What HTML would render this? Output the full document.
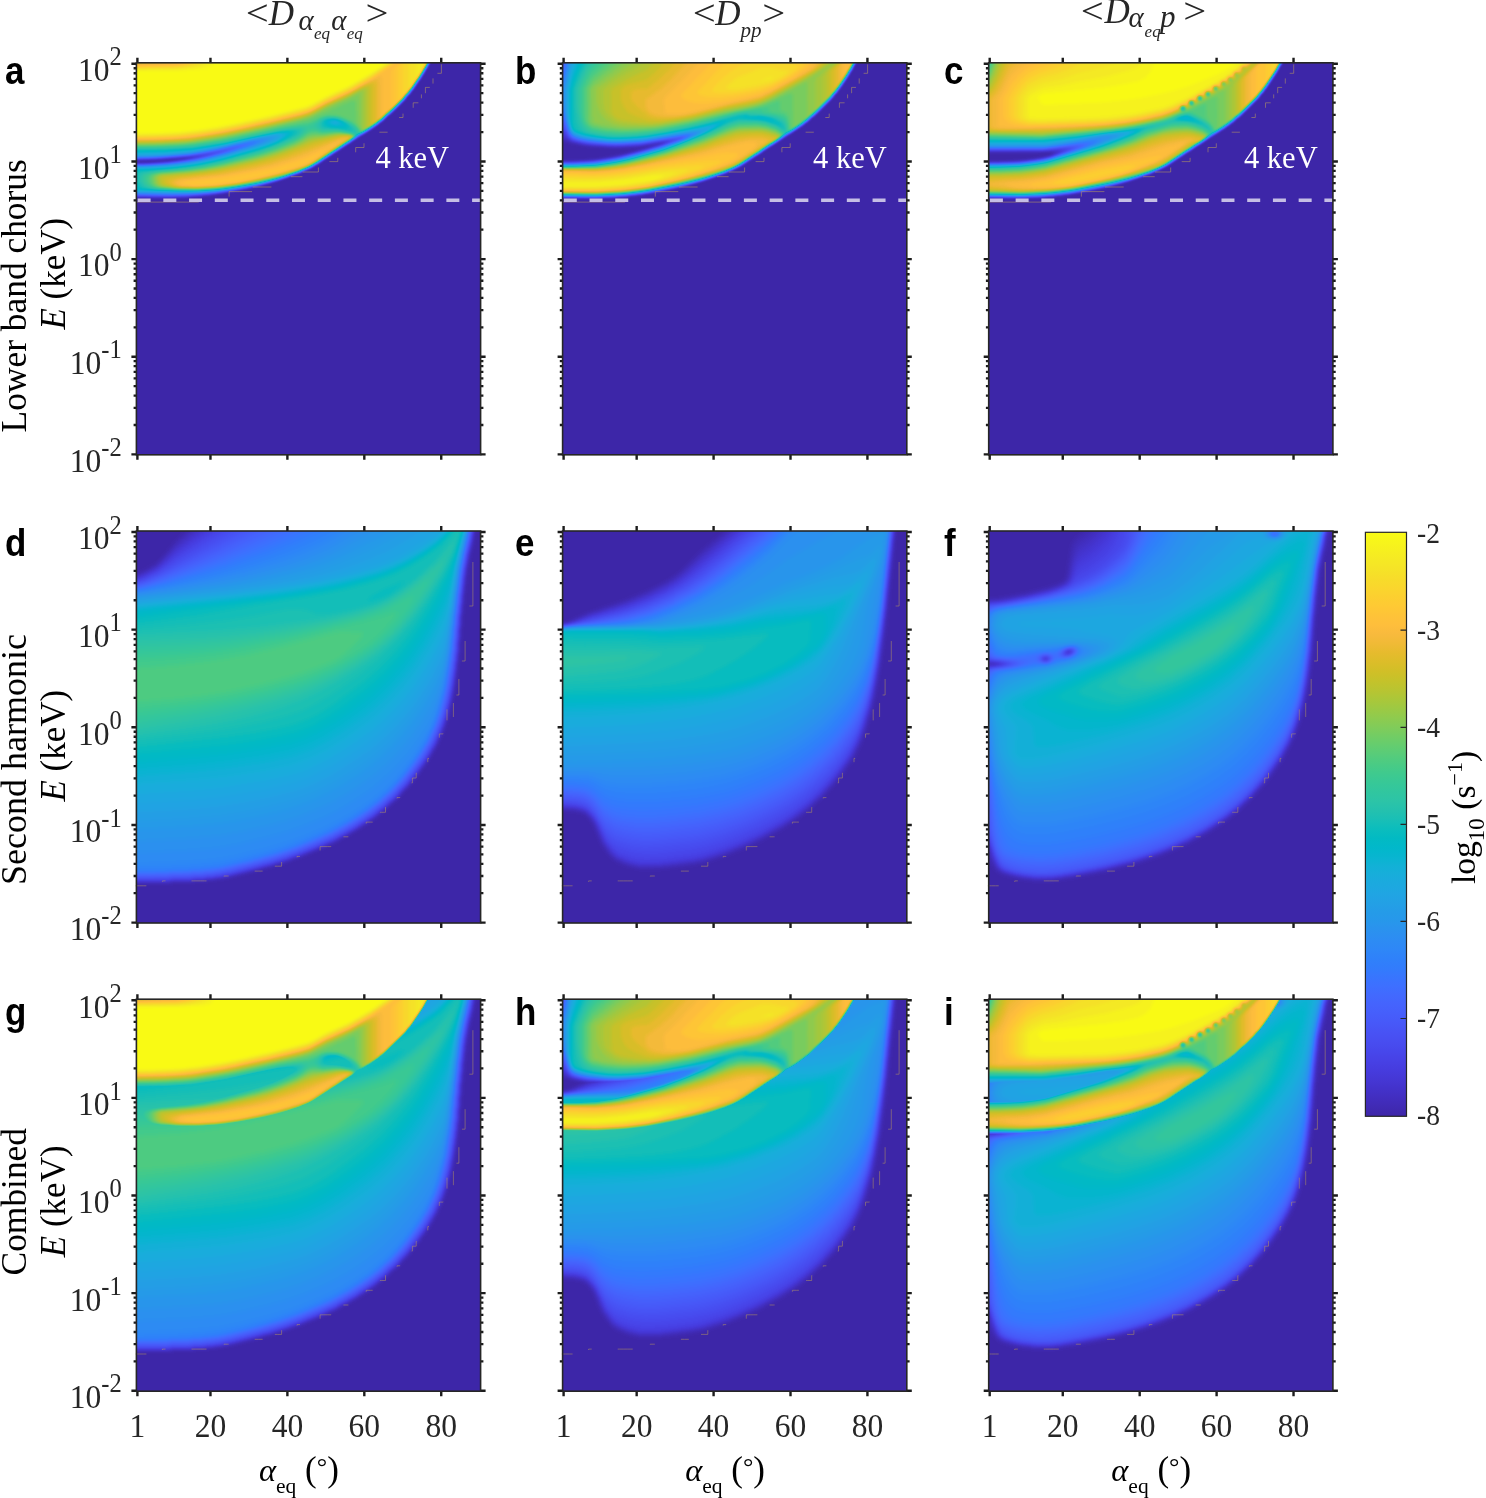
<!DOCTYPE html>
<html><head><meta charset="utf-8"><title>figure</title>
<style>
html,body{margin:0;padding:0;background:#fff;overflow:hidden}
svg{display:block;opacity:.9999}
text{font-family:"Liberation Serif",serif;fill:#262626}
.b{font-family:"Liberation Sans",sans-serif;font-weight:bold;fill:#000;font-size:38px}
.k{fill:#000}
.t{font-size:34.3px}
.i{font-style:italic}
.lt{mix-blend-mode:lighten}
</style></head><body>
<svg width="1486" height="1498" viewBox="0 0 1486 1498">
<defs>
<filter id="pm" x="0" y="0" width="100%" height="100%" color-interpolation-filters="sRGB"><feComponentTransfer><feFuncR type="table" tableValues="0.2422 0.2504 0.2578 0.2647 0.2706 0.2751 0.2783 0.2803 0.2813 0.2810 0.2795 0.2760 0.2699 0.2602 0.2440 0.2206 0.1963 0.1834 0.1786 0.1764 0.1687 0.1540 0.1460 0.1380 0.1248 0.1113 0.0952 0.0689 0.0297 0.0036 0.0067 0.0433 0.0964 0.1408 0.1717 0.1938 0.2161 0.2470 0.2906 0.3406 0.3909 0.4456 0.5044 0.5616 0.6174 0.6720 0.7242 0.7738 0.8203 0.8634 0.9035 0.9393 0.9728 0.9956 0.9970 0.9952 0.9892 0.9786 0.9676 0.9610 0.9597 0.9628 0.9691 0.9769"/><feFuncG type="table" tableValues="0.1504 0.1650 0.1818 0.1978 0.2147 0.2342 0.2559 0.2782 0.3006 0.3228 0.3447 0.3667 0.3892 0.4123 0.4358 0.4603 0.4847 0.5074 0.5289 0.5499 0.5703 0.5902 0.6091 0.6276 0.6459 0.6635 0.6798 0.6948 0.7082 0.7203 0.7312 0.7411 0.7500 0.7584 0.7670 0.7758 0.7843 0.7918 0.7973 0.8008 0.8029 0.8024 0.7993 0.7942 0.7876 0.7793 0.7698 0.7598 0.7498 0.7406 0.7330 0.7288 0.7298 0.7434 0.7659 0.7893 0.8136 0.8386 0.8639 0.8890 0.9135 0.9373 0.9606 0.9839"/><feFuncB type="table" tableValues="0.6603 0.7076 0.7511 0.7952 0.8364 0.8710 0.8991 0.9221 0.9414 0.9579 0.9717 0.9829 0.9906 0.9952 0.9988 0.9973 0.9892 0.9798 0.9682 0.9520 0.9359 0.9218 0.9079 0.8973 0.8883 0.8763 0.8598 0.8394 0.8163 0.7917 0.7660 0.7394 0.7120 0.6842 0.6554 0.6251 0.5923 0.5567 0.5188 0.4789 0.4354 0.3909 0.3480 0.3045 0.2612 0.2227 0.1910 0.1646 0.1535 0.1596 0.1774 0.2100 0.2394 0.2371 0.2199 0.2028 0.1885 0.1766 0.1643 0.1537 0.1423 0.1265 0.1064 0.0805"/></feComponentTransfer></filter>
<linearGradient id="cb" x1="0" y1="1" x2="0" y2="0"><stop offset="0.0000" stop-color="rgb(62,38,168)"/><stop offset="0.0159" stop-color="rgb(64,42,180)"/><stop offset="0.0317" stop-color="rgb(66,46,192)"/><stop offset="0.0476" stop-color="rgb(67,50,203)"/><stop offset="0.0635" stop-color="rgb(69,55,213)"/><stop offset="0.0794" stop-color="rgb(70,60,222)"/><stop offset="0.0952" stop-color="rgb(71,65,229)"/><stop offset="0.1111" stop-color="rgb(71,71,235)"/><stop offset="0.1270" stop-color="rgb(72,77,240)"/><stop offset="0.1429" stop-color="rgb(72,82,244)"/><stop offset="0.1587" stop-color="rgb(71,88,248)"/><stop offset="0.1746" stop-color="rgb(70,94,251)"/><stop offset="0.1905" stop-color="rgb(69,99,253)"/><stop offset="0.2063" stop-color="rgb(66,105,254)"/><stop offset="0.2222" stop-color="rgb(62,111,255)"/><stop offset="0.2381" stop-color="rgb(56,117,254)"/><stop offset="0.2540" stop-color="rgb(50,124,252)"/><stop offset="0.2698" stop-color="rgb(47,129,250)"/><stop offset="0.2857" stop-color="rgb(46,135,247)"/><stop offset="0.3016" stop-color="rgb(45,140,243)"/><stop offset="0.3175" stop-color="rgb(43,145,239)"/><stop offset="0.3333" stop-color="rgb(39,151,235)"/><stop offset="0.3492" stop-color="rgb(37,155,232)"/><stop offset="0.3651" stop-color="rgb(35,160,229)"/><stop offset="0.3810" stop-color="rgb(32,165,227)"/><stop offset="0.3968" stop-color="rgb(28,169,223)"/><stop offset="0.4127" stop-color="rgb(24,173,219)"/><stop offset="0.4286" stop-color="rgb(18,177,214)"/><stop offset="0.4444" stop-color="rgb(8,181,208)"/><stop offset="0.4603" stop-color="rgb(1,184,202)"/><stop offset="0.4762" stop-color="rgb(2,186,195)"/><stop offset="0.4921" stop-color="rgb(11,189,189)"/><stop offset="0.5079" stop-color="rgb(25,191,182)"/><stop offset="0.5238" stop-color="rgb(36,193,174)"/><stop offset="0.5397" stop-color="rgb(44,196,167)"/><stop offset="0.5556" stop-color="rgb(49,198,159)"/><stop offset="0.5714" stop-color="rgb(55,200,151)"/><stop offset="0.5873" stop-color="rgb(63,202,142)"/><stop offset="0.6032" stop-color="rgb(74,203,132)"/><stop offset="0.6190" stop-color="rgb(87,204,122)"/><stop offset="0.6349" stop-color="rgb(100,205,111)"/><stop offset="0.6508" stop-color="rgb(114,205,100)"/><stop offset="0.6667" stop-color="rgb(129,204,89)"/><stop offset="0.6825" stop-color="rgb(143,203,78)"/><stop offset="0.6984" stop-color="rgb(157,201,67)"/><stop offset="0.7143" stop-color="rgb(171,199,57)"/><stop offset="0.7302" stop-color="rgb(185,196,49)"/><stop offset="0.7460" stop-color="rgb(197,194,42)"/><stop offset="0.7619" stop-color="rgb(209,191,39)"/><stop offset="0.7778" stop-color="rgb(220,189,41)"/><stop offset="0.7937" stop-color="rgb(230,187,45)"/><stop offset="0.8095" stop-color="rgb(240,186,54)"/><stop offset="0.8254" stop-color="rgb(248,186,61)"/><stop offset="0.8413" stop-color="rgb(254,190,60)"/><stop offset="0.8571" stop-color="rgb(254,195,56)"/><stop offset="0.8730" stop-color="rgb(254,201,52)"/><stop offset="0.8889" stop-color="rgb(252,207,48)"/><stop offset="0.9048" stop-color="rgb(250,214,45)"/><stop offset="0.9206" stop-color="rgb(247,220,42)"/><stop offset="0.9365" stop-color="rgb(245,227,39)"/><stop offset="0.9524" stop-color="rgb(245,233,36)"/><stop offset="0.9683" stop-color="rgb(246,239,32)"/><stop offset="0.9841" stop-color="rgb(247,245,27)"/><stop offset="1.0000" stop-color="rgb(249,251,21)"/></linearGradient>
<clipPath id="box"><rect x="0" y="0" width="344.2" height="392.0"/></clipPath>
<filter id="b0_8" x="-30%" y="-30%" width="160%" height="160%" color-interpolation-filters="sRGB"><feGaussianBlur stdDeviation="0.8"/></filter>
<filter id="b1_1" x="-30%" y="-30%" width="160%" height="160%" color-interpolation-filters="sRGB"><feGaussianBlur stdDeviation="1.1"/></filter>
<filter id="b1_5" x="-30%" y="-30%" width="160%" height="160%" color-interpolation-filters="sRGB"><feGaussianBlur stdDeviation="1.5"/></filter>
<filter id="b2" x="-30%" y="-30%" width="160%" height="160%" color-interpolation-filters="sRGB"><feGaussianBlur stdDeviation="2"/></filter>
<filter id="b3" x="-30%" y="-30%" width="160%" height="160%" color-interpolation-filters="sRGB"><feGaussianBlur stdDeviation="3"/></filter>
<filter id="b4" x="-30%" y="-30%" width="160%" height="160%" color-interpolation-filters="sRGB"><feGaussianBlur stdDeviation="4"/></filter>
<filter id="b5" x="-30%" y="-30%" width="160%" height="160%" color-interpolation-filters="sRGB"><feGaussianBlur stdDeviation="5"/></filter>
<filter id="b6" x="-30%" y="-30%" width="160%" height="160%" color-interpolation-filters="sRGB"><feGaussianBlur stdDeviation="6"/></filter>
<filter id="b8" x="-30%" y="-30%" width="160%" height="160%" color-interpolation-filters="sRGB"><feGaussianBlur stdDeviation="8"/></filter>
<filter id="b10" x="-30%" y="-30%" width="160%" height="160%" color-interpolation-filters="sRGB"><feGaussianBlur stdDeviation="10"/></filter>
<clipPath id="cB"><path d="M-6,-6L-6.0,134.0C-5.0,134.0 -6.0,133.9 0.0,134.0C6.0,134.1 21.0,134.6 30.0,134.5C39.0,134.4 46.0,134.1 54.0,133.5C62.0,132.9 70.0,132.2 78.0,131.0C86.0,129.8 93.8,128.2 102.0,126.5C110.2,124.8 118.8,122.8 127.0,120.5C135.2,118.2 143.3,115.8 151.0,113.0C158.7,110.2 166.7,107.2 173.0,104.0C179.3,100.8 182.2,98.4 189.0,94.0C195.8,89.6 205.5,83.1 214.0,77.5C222.5,71.9 232.5,66.2 240.0,60.5C247.5,54.8 253.7,48.7 259.0,43.5C264.3,38.3 268.0,34.4 272.0,29.5C276.0,24.6 279.8,18.8 283.0,14.0C286.2,9.2 289.2,3.7 291.0,0.5C292.8,-2.7 293.5,-4.1 294.0,-5.0Z"/></clipPath>
<clipPath id="cD"><path d="M-6,-6L-6.0,351.0C-5.0,351.0 -6.8,351.2 0.0,351.0C6.8,350.8 23.3,350.5 35.0,350.0C46.7,349.5 54.7,350.3 70.0,348.0C85.3,345.7 108.0,341.3 127.0,336.0C146.0,330.7 167.3,323.2 184.0,316.0C200.7,308.8 215.0,300.7 227.0,293.0C239.0,285.3 246.3,279.5 256.0,270.0C265.7,260.5 276.8,247.5 285.0,236.0C293.2,224.5 299.8,212.5 305.0,201.0C310.2,189.5 312.9,179.3 316.0,167.0C319.1,154.7 321.5,140.8 323.5,127.0C325.5,113.2 326.6,98.3 328.0,84.0C329.4,69.7 330.7,55.0 332.0,41.0C333.3,27.0 335.2,7.8 336.0,0.0C336.8,-7.8 336.8,-5.0 337.0,-6.0Z"/></clipPath>
<g id="fA" fill-rule="evenodd"><g filter="url(#b1_5)"><g clip-path="url(#cB)"><path fill="#060606" d="M-8 -8l361 0 0 408-361 0 0-299.5 27-.4 5-.7 8-.3 14.3-2.1 7.7-2-7.7 0-3.3 .6-13.5 .4-4.5 .7-33 .8z"/><path fill="#0c0c0c" d="M-8 -8l361 0 0 408-361 0 0-298.9 12.6-.1 27.4-1.7 16.1-2.3 9.1-2-.2-.5-2-.3-35 2.3-28 .4zM59 94l-.4 0 1.1 0z"/><path fill="#111111" d="M-8 -8l361 0 0 408-361 0 0-298.7 17.8-.3 23.2-1.6 22.1-3.4 11.3-3-48.4 3.3-26 .4z"/><path fill="#171717" d="M-8 -8l361 0 0 408-361 0 0-298.6 19-.3 25-1.8 20.8-3.3 15.3-4-5.1-.1-24 2.6-26 1.6-25 .5z"/><path fill="#1d1d1d" d="M-8 -8l361 0 0 408-250.5 0-.1-271-2.5-1-12.9 2.5-14 1.9-31 2.2-50-.4 0-32.6 21-.4 25-1.9 20.3-3.3 19.2-5-.5-.7-1 0-22 2.9-22 1.9-22 1.1-18 .2z"/><path fill="#232323" d="M-8 -8l361 0 0 408-247.9 0-.1-271-.3-1-.7-.3-4-.2-25 4-25 2-18 .5-40-.5 0-31.7 22-.4 26-2.2 24.5-4.2 11.8-3 9.1-3-1.4-.4-4 .4-22 3.5-19 1.8-28 1.7-19 .2z"/><path fill="#292929" d="M-8 -8l361 0 0 408-245.4 0-.1-272-1.5-1.1-6 .1-20 3.5-26 2.3-21 .7-41-.5 0-31 15-.2 19-1 21-2.4 23.1-4.4 14.6-4 8.1-3-4.5 0-25.3 4.5-21 2.4-28 1.8-22 .3z"/><path fill="#2e2e2e" d="M-8 -8l361 0 0 408-242.8 0-.2-273-3-.7-6 .3-24 3.8-23 2-21 .7-41-.6 0-30.3 14-.1 20-1.1 25-3 11.6-2 16.5-4 10.3-3 10.6-4-1-.5-4 .5-27 5.4-20 2.7-31 2.2-25 .5z"/><path fill="#343434" d="M-8 -8l361 0 0 408-240.2 0-.1-273-.6-1-1.1-.2-7 .2-29 4.4-24 1.8-18 .4-41-.5 0-29.7 15-.2 20-1 29-3.7 12-2.4 16.1-4.1 15.5-5 6.7-3-4.8 0-29.5 6.3-20 3.1-33 2.6-27 .6z"/><path fill="#3a3a3a" d="M-8 -8l361 0 0 408-237.7 0-.1-274-2.2-1-4 .2-29 4.3-24 2.1-22 .6-42-.5 0-29.1 16-.2 20-1.1 30-3.9 14-2.9 16-4.2 16-5.3 6.9-3-.9-.7-6 .6-28 6.3-24 4-36 2.8-24 .4z"/><path fill="#404040" d="M-8 -8l361 0 0 408-235.1 0 0-272-.4-3-3.5-.5-6 .4-28 4.3-23 2-22 .6-43-.5 0-28.5 16-.2 21-1.1 31-4.2 14-3 16.2-4.3 20.8-7 4.4-2 .9-1-3.3-.1-6.9 1.1-31.1 7.1-23.8 3.9-35.2 2.7-24 .5z"/><path fill="#464646" d="M-8 -8l361 0 0 408-232.5 0-.1-275-1.4-1.1-5.5 .1-32.5 4.8-24 2.1-21 .6-44-.6 0-27.9 17-.2 20-1.1 18-2 14-2.3 30-7.3 21.8-7.1 5-2 3.2-2-2-.5-5.1 .5-35 8-22.9 4.1-30.5 2.9-33.5 1z"/><path fill="#4b4b4b" d="M-8 -8l361 0 0 408-230 0-.1-276-1.9-.8-4 .2-36 5.2-23 1.9-22 .6-44-.6 0-27.2 15-.2 23-1.3 15-1.6 17-2.6 18-4.1 14-3.9 23.4-7.6 8-4-.4-.7-1-.2-8 .9-38.7 9-22.5 4-33.7 3-29.1 .7z"/><path fill="#515151" d="M-8 -8l361 0 0 408-227.4 0 0-274-.4-3-3.2-.5-5 .4-35 5.4-22 1.8-23 .6-45-.6 0-26.6 15-.1 21-1.1 18-1.9 19-3.1 24-5.8 26-8 11.5-4.5 2.8-2 .1-1-4.4 0-10 1.7-34.7 8.3-28 5-19.5 2-16.3 1-24.5 .4z"/><path fill="#575757" d="M-8 -8l361 0 0 408-224.8 0-.1-277-1.1-1.1-5.3 .1-38.7 5.9-23 1.9-22 .5-46-.6 0-25.9 16-.1 21-1.2 18-1.9 19-3.1 21-5 31.6-9.5 10.2-4 3.4-2 1.4-2-3.6-.3-14 2.3-32.7 8-26 5-29.5 3-20.6 1-15.2 .1z"/><path fill="#5d5d5d" d="M-8 -8l361 0 0 408-222.3 0-.1-278-1.6-.9-3 .1-42 6.3-22 2-23 .4-47-.7 0-25.1 18-.2 21-1.2 18-2.1 18-2.9 22-5.3 33-9.8 11.6-4.6 3.2-2 1-2-2.8-.6-10 1.5-14 2.9-29.5 7.2-27.2 5-33.5 3-28.8 .6z"/><path fill="#636363" d="M-8 -8l361 0 0 408-219.7 0-.3-279-2-.6-6 .5-40 6.3-22 1.9-23 .5-48-.8 0-24.3 17-.2 27-1.7 18-2.2 16-2.9 20-4.8 36.2-10.7 12.5-5 2.3-2 .4-2-2.4-.8-9 1.4-15 2.9-30.8 7.5-26.2 5-28.5 3-20.9 1-16.6 .1z"/><path fill="#686868" d="M-8 -8l361 0 0 408-217.1 0 0-277-.5-3-6.4 0-42 6.7-22 2-24 .5-49-.8 0-23.4 17-.2 22-1.3 24-2.7 17-3.2 17-4 39.6-11.6 12.2-5 3.3-3 .3-2-1.4-.5-3 0-6 .9-19 3.8-32.8 7.8-28.3 5-23.9 2.2-16 .8-22 .2z"/><path fill="#6e6e6e" d="M-8 -8l361 0 0 408-214.6 0 0-280-.8-1-4.6 0-45 7.4-24 2.1-23 .4-49-1 0-22.3 18-.3 27-1.7 22-2.8 16-3.2 16-3.9 39.7-11.7 8.3-3.2 4.9-2.8 3.4-3 .2-2-3.5-.4-5 .4-24 4.8-30.2 7.2-28.4 5-27.4 2.3-37 .8zM197 57.8l-1.4 1.2 1.4 1.6 2 .3 2.2-.9 0-1-1.5-1z"/><path fill="#747474" d="M-8 -8l361 0 0 408-212 0-.1-281-1.5-1-2.4 .1-49 8.1-23 2-24 .3-49-1.2 0-21.1 20-.3 25-1.7 21-2.6 20-4 41-11.1 16-5.3 6-2.5 6.2-3.7 3.3-3 .5-1-.3-1-3.7-.3-8 .9-24 4.9-27.6 6.5-30.4 5.2-28 2.1-37 .5zM196 57l-3.1 1-.4 1 1.3 2 2 1 4.2 .5 4-.5 1.7-1-.2-1-3.1-2-3.4-1.1z"/><path fill="#7a7a7a" d="M-8 -8l361 0 0 408-209.4 0-.2-282-1.4-.7-3 .1-48 8.2-24 2.3-26 .3-49-1.8 0-19.4 19-.3 26-1.8 21-2.6 19-3.8 41-10.9 15-4.9 8-3.2 6.7-3.5 4.3-3 2.3-3-.5-1-2.8-.3-12 1.5-54.1 11.8-29.9 4.6-27 1.7-36 .3zM192 56.9l-2 1.1-.3 2 1.3 1.7 2.7 1.3 4.3 .9 8 .2 2-.5 1-1.3-1.3-2.3-6.2-3-4.5-.7z"/><path fill="#808080" d="M-8 -8l361 0 0 408-206.9 0-.2-283-1.9-.6-5 .5-34 6.3-27 3.7-24 1.1-36-1-13-1.2-2-.8-.8-2-2.2-2.1-2-.5-6-.1 0-12 18-.7 33-2.6 19-2.7 22-4.6 37-10.2 15-5.1 10.2-4.4 7.3-4 3.6-3 .8-2-.8-1-2.1-.2-12 1.2-55.7 12-31.3 4.7-27 1.6-37 .2zM194 56l-4 .7-2.3 1.3-.3 3 1.6 2.5 4 1.1 16 1.9 2-.2 1-1.2 .1-2.1-.6-1-3.9-3-7.6-2.9z"/><path fill="#858585" d="M-8 -8l361 0 0 408-204.3 0-.3-284-2.4-.5-4 .5-32 6.2-27 4-20 1.4-18 .1-26-1.1-11.5-1.6-1.6-1-4.1-5-.5-5 1-3 1.2-1 2.5-.8 39-3.8 18-2.5 24-5.2 33-9.1 18-6.1 18.9-8.5 4.3-3 .6-3-1.1-1-4.7-.2-13 1.7-53.7 11.5-33.3 4.9-26 1.5-38 .2zM190 55.9l-2.9 1.1-2 2-.1 4.5 1 1.7 16 1.2 11 2.6 3-.3 .2-2.7-1.8-3-7.6-5-7.8-2.5z"/><path fill="#8b8b8b" d="M-8 -8l361 0 0 408-201.7 0 0-282-.4-3-1.9-.4-4 .4-30 6.1-27 4.3-15 1.4-19 .7-30-.9-12.5-1.6-2.5-1.1-3.9-3.9-.9-2-.1-3 1.1-3 4.8-2.1 11-1.8 31-2.9 14.1-2.2 20.9-4.5 36-9.8 17-6 19-8.2 4.8-3.5 1.5-2 .4-2-.8-1-3.9-.3-10 .9-12 2.1-48.2 10.3-35.8 5.2-26 1.4-37 .2zM194 55l-5 .6-4.9 2.4-1.5 3 .5 4 2.9 1.8 16 .4 17 4.2 1 .2 .4-.6-.3-3-1.2-2-2.9-3-4.4-3-9.6-4.3z"/><path fill="#919191" d="M-8 -8l361 0 0 408-199.2 0 0-283-.4-3-5.3 0-33.8 7-24.6 4-12.7 1.3-20 1-32-1-10.4-1.3-4-2-2.8-3-.9-2-.1-3 .6-2 1.2-1 6.4-2.2 9-1.4 28-2.6 16-2.5 20-4.3 38-10.3 18.6-6.7 15.4-6.7 4.8-3.3 3.2-3 1.4-2-.2-2-5.2-.6-17 2.1-55.2 11.5-35.8 5.3-26 1.5-38 .3zM190 54.8l-4 1.3-3.3 1.9-4.2 4-.2 2 4.9 3 2.8 .9 16-.1 13 2.7 6 3.1 1 .1 .4-.7-.1-3-1.3-3-4-4.1-4.2-2.9-4.8-2.5-6-2.2-5-.8z"/><path fill="#979797" d="M-8 -8l361 0 0 408-196.6 0 0-284-.4-2.8-2-.5-3 .3-32.5 7-28.5 4.8-13 1.3-20 1-20-.4-13-.8-7-1-4-1.9-2.5-3-.9-2 .1-4 2.1-2 6.2-2.1 7-1.1 28-2.5 15-2.2 19.3-4.1 35.7-9.4 17-5.7 19-7.9 5-3 9-6.8 6-.1 7 1.9 13-.7 5 .4 11 2.2 8 4.2 .7-2.1-.6-4-2-3-4.1-4-8-4.6-8-2.9-10-.5-6 1.8-6 3.7-7 3.1-17 1.7-13 2.1-43 9.3-19 3.4-22 3.2-13 1.2-27 .9-26 .1z"/><path fill="#9c9c9c" d="M-8 -8l361 0 0 408-194 0 0-285-.6-3-4.6 0-31.3 7-26.5 4.7-16 2-21 1.1-21-.3-19-1.8-4-1.7-1.6-2-1.2-3 .1-4 2-2 6.6-2 31.1-2.9 16-2.3 19-3.9 35-9 18-5.9 19-7.8 5.6-3.2 7.4-5.3 2-.7 6-.2 6 1.2 14-1 6 .4 9 1.8 6 3.8 3 1.2 .6-3.2-.8-4-1.9-3-3.9-4-7-4.4-5-2.2-6-1.7-9-.4-5 1.4-7 3.5-7 2.4-30 4.8-42 9.2-21 3.8-21 3.1-13 1.3-27 .9-26 .1z"/><path fill="#a2a2a2" d="M-8 -8l361 0 0 408-191.5 0 0-286-.5-3-4.5 0-30.3 7-26.6 5-18.6 2.4-21 1.2-21-.3-14-1-5-.9-3-1.4-2.2-3-.6-2 .2-4 2.2-2 6.4-1.8 27-2.3 18-2.4 19-3.8 34.6-8.7 17.4-5.5 19-7.6 5.7-2.9 8.3-5.6 2-.7 6-.4 6 .7 14-1.4 6 .3 9 1.6 9 5.7 1.1-.2 .3-2-.1-3-.8-3-3.5-5-4-4.3-3-2.1-7-3.2-6-1.8-9-.4-6 1.3-14 5.1-29 5.5-47 10.4-18 3.2-20 3-13 1.3-28 1.1-25 .1z"/><path fill="#a8a8a8" d="M-8 -8l361 0 0 408-188.9 0 0-287-.5-3-4.7 0-33.8 8-26.7 5-17.4 2.2-19 1.1-21-.1-19-1.9-3-1.3-1.7-2-.9-2-.2-4 .2-1 1.6-1.5 6-1.9 26-2.1 18-2.3 19-3.7 35-8.6 12.8-3.9 15.2-5.6 11-4.6 11-6.6 4-1.1 10 0 15-1.9 7 .3 7 1.2 10 6.7 .9-.4 .3-1-.3-6-1.7-4-4.4-7-.5-21-1.3-1.4-2 0-25 11.3-20 7.9-80 17.8-28 4.6-16 1.9-28 1.2-27 .3z"/><path fill="#aeaeae" d="M7 -8l346 0 0 408-186.3 0 0-288-.4-3-1.3-.4-3.8 .4-32.6 8-25.3 5-22.1 3-17.2 1.1-21.4-.1-19.5-2-2.1-1-2.3-3-.6-5 1.1-2 5.5-2 24.3-1.7 20-2.6 18-3.4 34.5-8.3 12.5-3.7 14-4.9 13.2-5.4 10.8-6.1 5-1.4 9-.4 15-2.3 11 .6 3 .6 1.8 1 7.2 5.9 2 .8 1-1.5 .1-4.2-.7-4-3-8 0-24-.7-6-.7-.5-2 .5-30.3 14-13.7 7.3-6 2.3-68 15.9-21 4.1-32 4.6-29 1.4-28 .3 0-85.2 8-.1 4.6-.6 2-1z"/><path fill="#b4b4b4" d="M22.1 -8l330.9 0 0 408-127 0 0-312-1-6 2-.3 .6-.7 .5-5-1.4-11-.1-35-.6-1.8-1-.2-2.7 1-12.3 6.6-21 9.4-16 8.5-10 3-38 9.1-38 8.2-33 5.1-29 1.8-33 .5 0-83.3 14-.4 13.9-1.5 1.9-1zM197.1 72l7.9-.8 9 .7 3.5 2.1 4.5 5-3-.4-.6 .4-.2 2 0 319-48.7 0-.3-292-2.2-.6-3.8 .6-31.4 8-29.7 6-22.1 2.9-16 .9-20 0-18.4-1.8-2.6-1-1.8-2-.9-2-.2-4 1.1-2 3.8-1.4 26-1.9 17-2.1 18-3.2 31-7.3 14-3.8 16-5.4 14-5.5 13-6.5z"/><path fill="#b9b9b9" d="M37.3 -8l315.7 0 0 408-123.3 0 0-309-.6-6 .6-9-.2-47-.5-2.5-2-.4-3 1-12 6.6-22.8 10.3-16.2 8.6-10 3.1-36 8.7-41 8.8-32 5-29 1.8-33 .6 0-81.8 14-.3 23.2-1.5 6.1-1 1.7-1zM201.5 72l11.5 0 2.8 1 1.7 2-.4 1-3.1 2.3-32 21.2-7 4.2-5 2.2-48.4 12.1-20.9 4-20.7 2.6-21 1.1-22.2-.7-11.5-2-1.4-1-1.6-3 0-5 1-1 1.7-.6 35-2.9 30-5.2 30-6.9 14-3.9 20-7.1 22-9.4z"/><path fill="#bfbfbf" d="M42.6 -8l310.4 0 0 408-120.6 0 0-308-.4-67.1-2-.7-5 1.6-12 6.6-23 10.4-13 7.3-5 2.1-10 3-35 8.5-40 8.6-33 5.2-29 1.8-33 .6 0-80.4 21.3-.5 25.7-1.5 1.9-.5 1.3-1zM200.1 73l6.9-.8 6 .2 2.2 .6 1.2 1 .2 1-19.6 13.6-23 14.6-5 2.2-27.6 7.6-21.1 5-21.1 4-15 2-13.2 1-13 .5-17.7-.5-11.3-2-3-1.6-1.6-2.4-.2-4 .4-1 1.4-.7 41-3.9 18-3 31-6.9 12-3 16-5 32-12.7z"/><path fill="#c5c5c5" d="M45.7 -8l307.3 0 0 408-117.7 0-.4-377-.9-.6-2 0-6 2.1-14 7.7-22 9.9-17 9-10 3.1-36 8.7-40 8.7-33 5.2-29 1.8-33 .5 0-78.8 48-1.8 4.3-1.5 1-1zM206 73l8-.1 1.7 1.1-.1 1-34.6 23.3-8 4.7-5 2-27.9 8-21.2 5-21.4 4-15.8 2-15.4 1-20.3 .1-9.5-1.1-5.7-2-3-3 .2-1.5 1.1-1.5 4.9-1.8 32-3.5 14-2.1 46-9.9 23-7.1 27.4-10.6 20.3-6z"/><path fill="#cbcbcb" d="M48.8 -8l304.2 0 0 408-114.6 0 0-376-.4-3.3-1-.6-2 .1-7 2.5-15.2 8.3-22.8 10.3-17 9.1-10 3.1-30.7 7.5-43.3 9.5-34.6 5.5-29.4 1.9-33 .5 0-77.4 48-1.6 7.5-2.4 1.3-2zM205.9 74l6.1-.9 2.6 .9-.2 1-1.3 1-8.8 6-30.7 20-7.5 3-27.6 8-16.6 4-20.1 4-23.4 3-18.4 .9-15-.3-8.4-1.6-4-3-.2-1 .6-.8 1.7-1.2 7.3-2.3 41-5 34-6.8 14-3.3 18.5-5.6 27.5-10.3z"/><path fill="#d1d1d1" d="M51.9 -8l301.1 0 0 408-111.3 0 0-378-.5-4-1.2-.7-2 .2-6 2.4-19 10.3-23 10.4-17 9.1-10 3-25.4 6.3-47.6 10.5-33.5 5.5-11.5 1.2-16.1 .8-36.9 .7 0-76 49-1.5 6-1.5 3.8-1.7 1.1-2zM210.8 74l1.2 .1 .2 .9-5.2 4-33 22-10.1 4-27.2 8-31.7 7-27 3.6-18 .9-15-.4-4.6-1.1-2.9-2-.7-1 .3-1 1.4-1 6.5-2.1 39-4.5 33.9-6.4 16.1-3.7 29-9.1 37.9-15.2z"/><path fill="#d6d6d6" d="M55.1 -8l297.9 0 0 408-107.4 0 0-381-.6-5.7-1-.4-3 1.1-27.2 15-24.8 11.3-13.9 7.7-12.2 4-64.4 15-15.1 3-24.4 3.9-11 1.3-13.7 .8-42.3 .9 0-74.4 49-1.4 8.8-2.1 4.3-2 .9-2zM203.2 78l1.9 0-3.2 3-6.9 5-16.2 11-6.8 4-13.8 5-24 7-32.1 7-22.7 3-19.4 1-13-.7-2.3-.3-1.7-.9-1.9-2.1 1.9-1.7 3-.9 39-4.3 34-6 18.1-4.1 17.9-5.2 18-6.4z"/><path fill="#dcdcdc" d="M58.2 -8l207.7 0-6.9 8.2-21 14.1-25.8 14.7-23.2 10.5-13.5 7.5-7.5 2.8-32.8 8.2-35.7 8-15.5 3.1-23 3.7-12 1.5-12 .8-45 1 0-72.9 50-1.3 8-1.7 5.9-2.2 2.1-2zM269 -8l84 0 0 408-97.9 0 0-389 .5-3 1.2-2zM185.3 89l1.7-.5 .4 .5-9.3 7-9.1 5-24 8-23.7 6-20.5 4-23.6 3-18.2 .8-10.9-1.8-1.4-1 2.9-1 6.6-1 31.8-3.5 44-7.8 14-3.5 16-4.8 12-4.3z"/><path fill="#e2e2e2" d="M61.3 -8l202 0-2.9 5-2.4 2.6-22 14.9-23 13.3-24 10.9-13.1 7.3-7.9 2.9-32.2 8.1-35.6 8-17.2 3.4-21 3.4-23 2.3-25 1-22 .2 0-71.3 46-.9 7-.7 9-2.1 5.4-2.3 1.7-2zM270.5 -8l82.5 0 0 408-92.2 0 0-392 1-4z"/><path fill="#e8e8e8" d="M64.7 -8l197.1 0-1.8 4-2.6 3-21.4 14.6-23 13.3-23 10.4-14 7.8-8 3-34 8.5-33.2 7.4-16.8 3.4-22 3.5-23 2.4-25 .9-22 .2 0-69.7 47-.7 10-1.2 8-2 5.9-2.8 1.6-2zM271.8 -8l81.2 0 0 408-86.4 0 0-396 .6-4z"/><path fill="#eeeeee" d="M68.1 -8l192.6 0-1 3-2.7 3.4-21.5 14.6-22.5 13-23 10.5-14 7.7-8 3-32 8-34.6 7.8-17.4 3.5-21.5 3.5-22.5 2.3-25 1-23 .2 0-68.1 47-.5 13-1.4 8-2 6-2.9 1.9-2.6zM273.6 -8l79.4 0 0 408-80.5 0 0-401 .1-3z"/><path fill="#f3f3f3" d="M71.5 -8l188.1 0-.8 3-2.6 3-20.5 14-22.4 13-23.3 10.6-14 7.7-7 2.7-31.5 8-35.5 8-20 4-18.7 3-21.3 2.3-26 1.1-24 .2 0-66.4 48-.4 17-1.8 7.4-2 4.6-2.5 2.1-2.5zM279.4 -8l73.6 0 0 408-73.6 0z"/><path fill="#f9f9f9" d="M74.9 -8l183.6 0-.7 3-1.8 2.1-22 14.9-20.7 12-23.3 10.6-15.4 8.4-5.6 2-31.4 8-35.4 8-20 4-18.6 3-20.6 2.3-25 1.1-26 .3 0-64.7 49-.3 21-1.8 6-1.6 4-2.3 2.7-4zM293.9 -8l59.1 0 0 408-59.1 0z"/><path fill="#ffffff" d="M78.3 -8l178.7 0-.7 3-2.2 2-15.9 11-20.2 12-9.6 5-19.4 8.6-13.1 7.4-7.8 3-31.8 8-35.5 8-14.7 3-24.4 4-17.4 2-21.4 1-30.9 .3 0-62.1 54-.3 23-1.6 4.8-1.3 2.5-2 1.8-5z"/></g></g></g>
<g id="fB" fill-rule="evenodd"><g filter="url(#b1_5)"><g clip-path="url(#cB)"><path fill="#060606" d="M-8 -8l361 0 0 408-361 0 0-301.9 18-.1 26.7-2 25.8-5 27.9-8-3.4-.2-13 1.8-17 .7-11-.1-22-1.5-15-3-9-2.6-8 .1z"/><path fill="#0c0c0c" d="M-8 -8l361 0 0 408-361 0 0-301.2 31.4-.8 18.4-2 15.8-3 11.9-3 24.3-7 5.9-2 1.4-1-3.8 0-21.3 3.4-18 .9-12-.1-24-1.9-13-2.8-9-4.5-8-.1z"/><path fill="#111111" d="M-8 -8l361 0 0 408-361 0 0-300.7 22.9-.3 15.6-1 14.2-2 15.1-3 22.4-6 16.5-5 4.7-2 .9-1-4.6 0-23.7 3.8-19 .9-16-.4-15-1.1-14-2.7-6.1-2.5-5.9-5-2-.5-6 .2z"/><path fill="#171717" d="M-8 -8l361 0 0 408-361 0 0-300.4 28.8-.6 13-1 12.9-2 14.7-3 18.7-5 19.9-6 6.9-3-.9-1-3 .2-25 3.9-18 1-13 0-19-1.3-8-1.1-10-2.4-5-3.3-5-6-2-.7-6 .2z"/><path fill="#1d1d1d" d="M-1.4 -8l354.4 0 0 408-253.6 0-.2-270-2.4 0-12.8 2.7-15 2-27 2.1-50-.4 0-36.4 17-.1 17-.9 10.5-1 12-2 14.2-3 18.7-5 16.7-5 13.2-5-.3-.7-1-.1-7 .5-24 3.8-17 1.1-16 0-19-1.4-9-1.5-8-2.1-2.7-1.6-2-2-5.3-8-2-.9-6 .1 0-71.3 6-.3z"/><path fill="#232323" d="M.6 -8l352.4 0 0 408-250.1 0-.1-271-2.8-.8-25 4.4-18 1.9-17 1-15 .2-33-.7 0-34.7 20-.2 18-1.1 25-3.9 20.2-5.1 20.7-6 17.3-6 2.6-1 1-1-15.8 1.5-23 3.7-25 1.1-13-.5-15-1.3-11.7-2.5-4.9-2-4.2-5-4.2-8-2-1.1-6 .1 0-63.6 6 0 1-.6 1-1.8z"/><path fill="#292929" d="M1.5 -8l351.5 0 0 408-247.4 0 0-269-.4-3-5.2-.3-20 3.7-29 3-21 .8-38-.6 0-34.1 19-.2 19-1 10.2-1.3 15.8-2.9 24-6.1 19-5.7 18.4-6.3 2-1 .1-1-18.5 2-23 3.8-24 1.1-13-.4-16-1.5-10-2.1-6-2.2-2.6-2.7-1.9-3-4.5-10-2-1.3-6 .1 0-56.3 6-.1 1-.5 2-5.3z"/><path fill="#2e2e2e" d="M2.3 -8l350.7 0 0 408-244.8 0-.1-272-1.2-1-4.6 0-27.3 4.8-17 1.8-17 1-49-.3 0-33.6 19-.1 18-1 24-3.6 16.9-4 24.7-7 23.8-8 3.6-2-1-.6-3 0-40 5.9-25 1.2-12-.5-16-1.5-10-2.1-5.9-2.4-2-2-2.3-4-4.8-12-2-1.5-6 .1 0-49.1 6-.1 1-.4 2-5.2z"/><path fill="#343434" d="M3.1 -8l349.9 0 0 408-242.1 0-.3-273-2.6-.6-8 .6-19 3.7-27 2.9-23 1-39-.6 0-33 18-.2 20-1 24.4-3.8 23.9-6 20.4-6 20.6-7 3.9-2 .9-1-6.1-.1-40 6-24 1.2-12-.4-16-1.6-9-1.7-7-2.4-2.2-2-2.4-4-4.4-12.5-2-3.8-7-.4 0-41.7 6-.1 1-.5 1-1.6 2-8.2z"/><path fill="#3a3a3a" d="M3.8 -8l349.2 0 0 408-239.5 0 0-273-.6-1-.9-.2-6.5 .2-24.5 4.4-29 3.1-21 .9-39-.6 0-32.6 19-.2 19-1 25.6-4 23.7-6 20.3-6 20.4-7 5.7-3-.2-1-7.5 .4-39 6-24 1.3-12-.4-17-1.7-9-1.7-7-2.6-2.3-2.3-2.2-4-4.5-14.2-2-4.3-7-.4 0-34.5 6-.1 1-.4 1-1.6 2.1-8.5z"/><path fill="#404040" d="M4.6 -8l348.4 0 0 408-236.8 0-.2-274-1.7-1-4.3 .2-30 5.2-29 2.9-20 .8-39-.5 0-32.2 19-.1 19-1.1 10.2-1.2 15.8-2.8 23-5.8 20-5.9 21.6-7.5 7.4-4-2-.8-7 .6-41 6.3-24 1.2-12-.5-17-1.8-9-2-6-2.3-2.4-2.7-2.4-5-5.2-18.1-1-1.5-1-.5-6 0 0-27.3 6 0 1-.5 1-1.5 2.7-11.6z"/><path fill="#464646" d="M5.3 -8l347.7 0 0 408-234.2 0-.3-275-2.5-.6-7 .6-30 5.3-23 2.5-24 1.1-40-.5 0-31.8 19-.1 20-1.1 26-4.2 23-5.9 20-5.9 21.2-7.4 6.4-3 2.7-2-2.3-.5-9 .8-40 6.3-23 1.3-12-.3-17-1.8-9-1.7-7-2.4-2.8-2.7-2.5-5-5.7-21.2-1-1.6-1-.5-6-.1 0-19.9 6-.1 1-.4 1-1.5 3-12.6z"/><path fill="#4b4b4b" d="M6 -8l347 0 0 408-231.5 0-.1-275-.5-1-.9-.2-5.8 .2-33.2 5.8-26 2.9-23 1-40-.5 0-31.4 19-.1 20-1.1 11-1.4 16-3 23-5.9 19-5.6 21.8-7.7 8.4-4 2.2-2-3.4-.3-10 1.1-40 6.4-23 1.3-12-.3-17-1.9-9-1.7-7-2.5-3-3.1-2.5-6-6.3-26 0-11 1.8-5.1 2-9.2z"/><path fill="#515151" d="M6.8 -8l346.2 0 0 408-228.9 0-.1-276-1.4-1-3.6 .1-19 2.9-19 3.7-25 2.8-24 1.1-40-.6 0-30.9 19-.2 20-1.1 11-1.4 17-3.1 22-5.7 19-5.6 24.7-9 8.1-4 1.4-1 .2-1-3.4-.1-11 1.3-40 6.5-23 1.3-13-.2-17-2-9-1.8-7-2.6-3-3.3-2.4-6.1-2.5-10-2-13 0-14 3.7-19z"/><path fill="#575757" d="M7.6 -8l345.4 0 0 408-226.2 0-.2-277-2.6-.7-7 .7-36 6.5-25 2.8-24 1.1-40-.5 0-30.6 19-.2 20-1 12-1.6 16-3 23-5.9 18-5.3 22.9-8.3 8.8-4 4.9-3-.4-1-4.2 .1-51 8-25 1.6-13-.4-17-2.1-9-2-6-2.4-3-3.5-2.3-6.3-2.3-10-1.3-11 .1-15 3.3-18z"/><path fill="#5d5d5d" d="M8.7 -8l344.3 0 0 408-223.6 0 0-275-.3-3-3.1-.4-4.5 .4-40.5 7.3-25 2.8-24 1.1-40-.5 0-30.2 19-.2 20-1 13-1.7 17-3.3 36-9.8 21-7.4 14.5-6.1 5.5-3 2.3-2-12.3 1-47 7.7-23 1.5-13-.2-18-2.1-9-1.9-7-2.8-2.7-3.2-2.5-7-1.9-9-.8-9 0-17z"/><path fill="#636363" d="M10.5 -8l342.5 0 0 408-220.9 0-.1-278-1-1.1-5.1 .1-44.9 8.2-24 2.7-25 1.2-40-.5 0-29.9 20-.2 20-1 14-2 16-3.1 36-9.9 20-7.1 17.2-7.4 7.5-4 1.4-1-.1-.7-24 3.5-38 6.4-22 1.5-13 0-14-1.4-13-2.3-8-2.8-3-2.8-2.2-5.4-2-9-.8-10 .1-18 3.9-22.9z"/><path fill="#686868" d="M12.8 -8l340.2 0 0 408-218.3 0-.1-279-1.2-1-3.4 .1-49 8.9-22 2.6-27 1.3-40-.5 0-29.5 20-.2 20-1 15-2.1 16-3.2 36-9.9 19-6.9 20-8.6 6-3 4.5-3-.5-.6-2 .2-63 11-21 1.6-14 .1-13.5-1.3-13.5-2.2-9-3.2-2-1.5-1.3-2.1-2.9-10-.8-8 0-21 3-19 4.4-14z"/><path fill="#6e6e6e" d="M15.1 -8l337.9 0 0 408-215.6 0-.2-280-2.2-.9-7 .9-43 8.2-24 3.1-28 1.4-41-.4 0-29.2 20-.1 21-1.2 16-2.3 15-3.1 35-9.6 20-7.3 24-10.4 9.9-6.1-.9-.5-2 .2-13 3.1-52.5 9.2-21.5 1.8-13 .2-11.9-1-17.1-2.8-9-3.2-2-1.7-1.3-2.3-2.3-9-.4-6-.1-24 3.1-16.3 5.6-15.7z"/><path fill="#747474" d="M17.7 -8l335.3 0 0 408-213 0-.2-281-1.8-.6-6 .5-47 9.1-24 3.1-28 1.5-41-.5 0-28.8 20-.1 21-1.1 19-2.8 17-3.8 29-8.1 22-8 24-10.4 9.2-5 4.3-3-.5-.4-3 .2-16.9 4.2-43.1 8-12.8 2-12.4 1-15.8 .5-10.7-.5-19.9-3-9.1-3-2.3-1.4-1.3-1.6-1.7-4.6-.6-3.4-.4-6 0-26 2-10.3 8.2-21.7zM194 54.8l-.8 .2 5.8 .5 1.1-.5z"/><path fill="#7a7a7a" d="M20.6 -8l332.4 0 0 408-210.3 0-.3-282-2.4-.5-4.8 .5-50.9 10-23.3 2.9-28 1.5-41-.4 0-28.5 22-.1 21-1.2 22-3.6 21-5.1 22-6.4 28-10.6 18-7.9 16.9-9.6-.9-.7-3 .4-20.7 5.3-24.7 5-22.4 4-15.5 2-18.7 1-12-.3-19.5-2.7-10.6-3-2.9-1.5-1.5-1.5-1.8-5-.5-6 0-29 1.8-7.4 6-15.8 4-8.8zM182 53.7l-.7 .3 1.1 1 17.6 1.7 10 2.3 2.3 0-5.1-3-7.7-2-6.5-.2-6 .9-3-1.5z"/><path fill="#808080" d="M23.6 -8l329.4 0 0 408-207.7 0 0-280-.3-3-2-.4-4.4 .4-53.6 10.7-23 3-29 1.6-41-.5 0-28.1 22-.1 21-1.2 23-3.7 21-5.2 21-6 19-7 24-9.9 26-13.2 8-1.7 23 1.8 11 2.9 7 2.8 1.2-.2-2.5-3-2.6-2-6.9-3-9.2-1.7-11 .2-3-1.4-8 1.2-45.9 11.7-24.8 5-24.8 4-20.5 1.3-14-.2-16.5-2.1-12.1-3-5.7-3-.7-1-.8-3-.3-36 5.2-15 7.8-17z"/><path fill="#858585" d="M27.4 -8l325.6 0 0 408-205 0 0-281-.5-3-5.7 0-53.8 11-24 3.3-30 1.8-42-.5 0-27.7 22-.1 20-1 21-3.2 14-3.1 32-8.9 39-15.1 27-12.9 10-2.7 19 .8 7 1.1 11 3.8 8 4.8 .5-1.4-.4-2-1.1-2.1-3.1-2.9-3.9-2.6-3.5-1.4-11.5-2.2-11 .1-4-1.6-8 .7-28.4 8-21.1 5-19.5 4-24.1 4-17.9 1.3-16 .2-14-1.5-13.1-3-3.3-2-1.8-2-1.7-3-1.2-4-1.6-14-.1-18 .7-3 5.1-13.1 5-10.5 4-6.4z"/><path fill="#8b8b8b" d="M32.3 -8l320.7 0 0 408-202.4 0 0-282-.4-3-5.4 0-57.7 12-21.6 3-31.5 1.9-42-.4 0-27.4 21 0 20-.9 20-2.9 17-3.7 32-8.9 39-14.9 25-11.7 10-2.8 18 .1 8 1 11 3.7 10 6.4 .7-2.5-.7-3.8-1-2.4-2-2.3-7-3.9-5-1.2-8-1.1-12-.2-4-1.7-7 .6-4.7 1-27.3 7.8-22.4 5.2-20.1 4-18.9 3-16.6 1.3-15 .2-15-1.5-9.8-2-4.1-2-2.3-2-2.4-4-1.7-5-2.1-12-.1-18 3-9 5.5-12.2 3-5 5.8-6.8z"/><path fill="#919191" d="M37.2 -8l315.8 0 0 408-199.7 0-.3-285.6-2-.7-3.4 .3-56.6 12.1-27.1 3.9-29.9 1.7-42-.4 0-27 21 0 20-.8 21-3 14-3 33-8.9 40-14.9 25-11.4 10-2.8 19 0 8 1.2 11 3.8 9 6.7 1-.2 .7-2-1-7-1.1-3-1.6-2.1-6-3-6-1.4-15.2-1.5-3.8-1.2-5-.3-11.7 1.5-28.3 7.9-22.1 5.1-20.1 4-16.8 2.6-17 1.4-15 .2-13-1.1-12-2.2-3.8-1.9-3.2-2.9-1.8-3.1-1.5-4-1.9-10-.1-20 3.2-9 5.1-10.5 4-5.5 7.1-7z"/><path fill="#979797" d="M42.4 -8l310.6 0 0 408-197.1 0 0-284-.4-3-5.4 0-39.5 9-25.4 5-15.2 2.1-13 1.3-22 1.1-43-.4 0-26.6 22 0 19-.7 18-2.4 15-3 36-9.5 40-14.6 24-10.7 10-2.8 19-.2 8 1.2 11 3.7 4 2.7 4 3.6 2 1 1.1-.8 .5-3-1.3-9-1.7-4-2.6-2-7-2.1-11-1.1-2.1-.8-.9-2.3-2-.7-21 2.7-46 11.8-25 5.1-17 2.7-18 1.5-15 .1-15-1.4-11-2.3-3-1.8-3-2.9-1.6-2.5-1.4-4-1-8 .1-22 3.8-9 4.1-7.4 3-3.9 11.2-10.7z"/><path fill="#9c9c9c" d="M47.9 -7l.1-1 305 0 0 408-194.4 0 0-285-.4-3-2.2-.4-3.4 .4-43 10-25.4 5-14.4 2-33.8 2.3-44-.3 0-26.3 22 .1 19-.7 20-2.6 14-2.8 35-9.2 40-14.1 24-10.5 10-2.8 19-.3 8 1.1 11 3.6 4 2.7 5 4.7 2 .3 1-1.2 .5-3-1.7-13-1.3-3-1.5-1.5-3-1.1-12.1-2.4-.7-1-.3-3-1.9-.5-5 .4-24 4.3-45 11.3-25 5-15 2.4-17 1.5-15 .3-15-1.3-13-2.5-2-.9-3-2.6-2-2.7-1.2-2.7-.5-6 .1-25 3.6-7.9 4-6.5 16.9-15.6z"/><path fill="#a2a2a2" d="M53.8 -8l299.2 0 0 408-191.8 0 0-286-.3-3-1.9-.5-4 .5-41.6 10-30.4 6-14.9 2-33.1 2.2-43-.4 0-25.9 22 .1 19-.6 20-2.5 13-2.5 36-9.2 40-13.8 25-10.5 10-2.6 19-.3 9 1.5 10 3.6 3.8 2.9 4.2 4.2 2 1 1.7-1.2 .9-3-.4-9-1.1-8-2.1-4.2-5.9-2.8-.5-1-.2-8-1.4-.9-4 .9-10 3.9-9 2.4-23 4.3-43 10.6-33 6.2-18 1.6-17 .4-16-1.5-13-2.6-2-1.1-2.2-2.2-1.9-4-.2-29 .6-3 5.7-9.9 21-18.4 2.3-2.7z"/><path fill="#a8a8a8" d="M61.5 -8l291.5 0 0 408-189.1 0-.3-290-1.6-.7-5 .7-44.6 11-24.9 5-17.5 2.6-15.2 1.4-19.8 1-43-.4 0-25.5 22 .2 19-.5 20-2.5 14-2.7 35-8.8 40-13.3 25-10.3 10-2.6 19-.5 10 1.7 9 3.3 3.7 2.9 5.3 5.5 3 1.1 1.2-.6 1.7-2 .6-3-.5-41-.9-1-1.1 0-4.2 1-21.8 9.5-9 2.8-26 5.2-39 9.5-32 6-19 1.7-17 .4-19-2-11-2.5-2.2-1.6-1.4-3-.1-30 .6-3 4.1-6.2 28.9-23.8 1-1z"/><path fill="#aeaeae" d="M69.8 -8l283.2 0 0 408-108.1 0-.3-380-1.6-.2-3 1.2-34 17.4-9 3.7-11.4 2.9-22.6 4.4-30 7.5-17 3.5-24 4-26 1.2-10-.5-8.3-1.1-9.9-2-6-2-1.7-2-.6-7-.5-23 .7-3 2.3-2.4 23-18 13-9.3 1.3-1.3zM176.6 66l21.4-.6 7 1.2 8 2.5 5.6 3.9 7 8 1.9 3 1 4-.5 2.5-4 .5-.3 2 0 307-57.1 0 0-288-.6-3.4-2-.5-4 .6-44.1 11.3-29.5 6-13.5 2-14.9 1.5-22 1.2-44-.4 0-25 40-.1 17-1.9 16-2.7 37-9.1 40-13 25-10z"/><path fill="#b4b4b4" d="M78.3 -8l200.9 0-1.2 1.5-13 10.2-16 9.8-41 22.7-12 5.1-10.7 2.7-23.3 4.5-33 8.3-31 5.7-11 1-16 .2-12-.7-7-1.5-5.3-2.5-3.7-2.5-3.2-3.5-2.3-4-2.1-5-1.3-5 0-12 1.4-2 9.5-7.3 29-20.1 3.8-3.6zM281.4 -7l1.2-1 70.4 0 0 408-100.1 0 0-381 .9-3 3.5-4 9.7-8.6zM180.7 67l18.3-.4 6 1.1 8 2.4 4 2.5 4.1 4.4 3.2 5 1.3 4-.6 1.6-6-2-1.2 .4-.2 1 0 313-48.1 0 0-290-.5-2.5-1-.6-3.2 .1-33.2 9-16.8 4-29.6 6-14 2-12.2 1.3-23 1.2-44-.4 0-24.5 40 0 12-1.2 19-2.9 38-9 41-12.9 26-10.1 7-2z"/><path fill="#b9b9b9" d="M87.8 -8l186.6 0-8.4 9-14 9.3-19 11.1-24 13.1-7 3.4-6 2.3-10 2.5-24 4.6-33 8.5-30 5.3-11 1-14-.3-15-1.6-6-1.8-7-5.5-2.4-2.9-2.1-4-.7-5 0-13 .6-2 3.6-3.1 15-9.9 13-7.5 8.3-5.5 5.4-5zM283.1 -7l1-1 68.9 0 0 408-92.5 0 0-385 .8-3 4-5zM185.9 68l14.1-.1 13 3.3 3.1 1.8 3.9 4 2.3 4 .7 3.3-1 .4-2-.5-7.4-3.2-3.6 .2-30 19.3-8 4.3-44.6 12.2-37.1 8-20 3-25.6 2-14.7 .4-37-.5 0-24.1 41 .1 15-1.5 14-2.2 22-4.8 23-6 35-10.7 18-7.2 11-3.6 5-1.2z"/><path fill="#bfbfbf" d="M97.2 -8l169.9 0-.3 5-.9 2-2 2-8.6 6-19.3 11.6-27 14.7-7 3.5-6 2.2-10 2.5-23.7 4.5-34.3 8.9-30 5.1-10 .5-13-.7-16-2.5-5.8-2.3-3-3-1.4-3-.2-20 .8-3 14.6-9.4 20-9.4 11.5-11.2 1.4-2zM284.2 -7l.8-1 68 0 0 408-87.9 0 0-388 .7-3 2.4-3zM193.7 69l9.3 .7 11 3.2 4.5 4.1 2.4 5-.9 .8-8-2.8-4 .5-29 18.7-8 4.3-34.4 10.5-29 7-25.4 5-26.2 3-24 1.1-40-.5 0-23.5 40 .3 12-1 19-2.8 24-5.2 23-6 33-9.8 16.7-6.6 13.3-4.2 5-.9z"/><path fill="#c5c5c5" d="M107.3 -8l154.2 0 1.4 5-.4 2-2.5 3-5.1 4-6.9 4.4-41 22.8-7 3.3-6 2-32 6.5-34 8.9-26 4.1-10 .3-7-.8-12-4.2-7-3.7-4.2-4.6-3.1-7-.5-9 .7-3 2.6-2 4.5-2.2 17-4.7 2-1.1 7.1-6 7-7 7.2-8zM285.9 -8l67.1 0 0 408-84.1 0 0-391 .6-2 2.3-3zM189.4 71l10.6 0 10 2.2 5 2.1 2 2.1 1.4 2.6-.4 .8-6-1.5-5 .8-29 18.7-9 4.6-30.2 9.6-28 7-30.4 6-20.4 2.4-28 1.4-40-.4 0-23 41 .4 15-1.3 14-2 24-5 24-6 32-8.9 17.5-6.6 14.5-4.4z"/><path fill="#cbcbcb" d="M117.9 -8l141.1 0 .4 6-.5 2-1.3 2-3.1 3-4.3 3-43.1 24-10.1 4.4-9 2.3-21 4.1-35.2 9.2-12.8 2.5-10 1.2-9 .3-9-.9-5-1.6-11.3-9.5-4.7-5-1.3-3 .1-7 .6-1 2.7-1 5.9-1 6 .1 4-2.6 9.1-7.5 10.2-10 9.7-11zM286.9 -8l66.1 0 0 408-80.3 0 0-393 .4-2 2.2-3zM183.1 74l10.9-.8 6 .3 10.9 2.5 3.4 2-5.3 .5-3 1.1-27 17.6-9 4.9-29.4 9.9-26.8 7-29.1 6-23.7 3-28 1.5-41-.4 0-22.3 40 .6 12-.8 17-2.2 21-4.1 25-5.7 35-8.9 18-6.3 14-4z"/><path fill="#d1d1d1" d="M128.5 -8l127.1 0 .2 8-.6 2-2.6 3-7.8 5-38.2 21-10.6 4.5-28 5.9-36.8 9.6-10.2 2-9.4 1-10.2 0-9.4-1.9-4.7-2.1-2.6-3-1.4-3-.1-7 15.1-11 9.9-9 16.8-18.5 2.7-3.5zM287.8 -8l65.2 0 0 408-76.5 0 0-395 .3-2 1.1-2zM189.2 76l9.9 0 5.2 1 1.2 1-3.7 3-21 14-10.6 6-18.9 7-23.2 7-40 9-20.7 3-31.4 2.1-44-.3 0-21.6 40 .9 11-.7 17-1.9 26-4.9 50-11.2 39-11.3z"/><path fill="#d6d6d6" d="M141.7 -8l108 0 1.9 3 .2 4-.3 3-1 2-5.3 4-17.2 10-20.5 11-8.7 4-6.7 2-23.1 4.6-42.2 10.4-6.4 1-7.4 .3-7-.3-3.7-1-.7-12 .5-3 15.9-15.5 21.7-23.5 1.6-2zM288.5 -7l.5-1 64 0 0 408-72.7 0 0-397 .2-2 1-2zM185.4 79l5.6 0 2 .7 .8 1.3 0 2-4 4-14.6 10-10.3 5-13.3 5-15.4 5-18.3 5-32.2 7-22.5 3-30.2 1.7-41-.4 0-20.5 41 1.1 10-.5 18-2 22-3.9 58-11.9 19-5.6z"/><path fill="#dcdcdc" d="M155.3 -8l86.6 0 1.1 1.6 3.6 2.4 .9 2-1 3-2.5 3.4-11.1 8.6-22.9 12.7-13 5.5-9 2.1-29 5.4-15 1.7-8 .1-6-.7-5.8-1.8-4.2-2.6-1.6-2.4 1-2 34.8-36zM164 90l9 .4 2.1 .6 .5 1-1.5 2-6 4-18 8-21.2 7-31.5 8-15.2 3-25.4 3-23.8 1.2-41-.3 0-19 39 1.2 24-1.6 87-14.7 15-3z"/><path fill="#e2e2e2" d="M175 -8l50.1 0 1.4 2 14.5 4.9 1.1 1.1-.1 1-2.1 3-3.1 3-8.8 6.5-18 9.9-13 4.9-23 4.5-17 1.7-13-.6-6-1.4-3.2-1.5-.3-1 1.3-2 22.7-24 4.5-3.5 11-6.5zM145.3 98l10.7-.4 2.1 .4 .4 1-2.8 2-6.4 3-16.4 6-23.1 7-26.4 6-23.4 3-17 1.1-14 .5-37-.3 0-16.6 38 1.2 16-.8 18-1.9 38-6.5 22-2.8z"/><path fill="#e8e8e8" d="M197.7 -8l4.6 0 .9 2 4.1 2 11.7 3.7 12 2 3.4 1.3 .7 1-1.1 2-3.1 3-11.9 7.7-9 4.4-11 3.8-11 2.4-16 2.6-15 .1-6-1-1.5-1 .7-2 8.8-9.5 8.8-7.5 6.2-4.1 21.5-9.9 1.3-1zM129.7 103l10.3-.1 1 .1 .7 1-6.1 3-23.6 8-20 5.3-12 2.2-19.6 2.5-22.4 1.5-46 .1 0-13.6 36 .9 14-.5 20-2 38-6z"/><path fill="#eeeeee" d="M199.4 5l10.6 .3 8 2.1 7.2 .6 .6 1-3.3 3-6.3 4-7.2 3.2-8 2.3-27 5.1-8-.4-1.2-.2-1.1-1 3.3-3.9 7-5.8zM111 107l12-.2 2.1 .2 .2 1-11.8 5-16.8 5-9.7 2.3-17 2.6-14 1.5-21 1.4-43 0 0-10.6 36 .6 13-.4 21-2 29-4.8z"/><path fill="#f3f3f3" d="M208.2 14l2.7 0 .2 1-1.6 1-3.7 1-8.1 1 3.8-2zM101.9 110l10.1 0 .8 1-7 3-15.8 4.6-26 4-31 2.3-41 .1 0-7.6 36 .4 13-.5 21-1.9 28-4.5z"/><path fill="#f9f9f9" d="M89.6 113l10.9 0-.5 1-2.3 1-7.7 2.4-31 4.6-29 1.9-38 .2 0-4.4 35 .1 13-.5 22-2z"/></g></g></g>
<g id="fC" fill-rule="evenodd"><g filter="url(#b1_5)"><g clip-path="url(#cB)"><path fill="#060606" d="M-8 -8l361 0 0 408-361 0 0-301.3 32.2-.7 13.2-1 19-3 3.9-1 2.4-1 1-1 0-1-1.7-.5-70 .3z"/><path fill="#0c0c0c" d="M-8 -8l361 0 0 408-361 0 0-300.5 26.5-.5 24.7-2 16.4-3 5.5-2 2.6-2-.2-1-3.5-.7-11 .6-61 0z"/><path fill="#111111" d="M-8 -8l361 0 0 408-361 0 0-300 36-1 11.4-1 13.3-2 8.6-2 7.4-3 2.8-2-.2-1-3.3-.4-15 .8-61 0z"/><path fill="#171717" d="M-8 -8l361 0 0 408-361 0 0-299.7 22-.3 17-.9 10.8-1.1 12.7-2 8-2 7.7-3 5.2-3-.4-1-4-.3-17 1.2-62 0z"/><path fill="#1d1d1d" d="M-8 -8l361 0 0 408-253.6 0-.2-270-3 0-13.2 2.8-15 2-26 1.9-20 .2-30-.7 0-35.6 37-1.1 21.4-2.5 13-3 10.4-4 5.5-3-.8-1-3.5-.2-21 1.7-62 0z"/><path fill="#232323" d="M-8 -8l361 0 0 408-250.1 0-.1-271-1.5-1-1.6 0-18.7 3.6-27 3-23 1-39-.7 0-34.1 36-.9 10.4-.9 13.7-2 9-2 6-2 12.8-5 3.1-2-1.7-1-2.3-.1-25 2.2-62 0z"/><path fill="#292929" d="M-8 -8l361 0 0 408-247.4 0-.1-271-.5-1.1-4-.5-17 3.2-15 2-28 2.1-49-.3 0-33.3 38-1.1 23-2.9 9-2.1 5.9-2 13.5-5 4.2-2 1-1-1.6-.8-5 0-26 2.5-62 .1z"/><path fill="#2e2e2e" d="M-8 -8l361 0 0 408-244.8 0-.1-272-1.1-1.1-6 0-26 4.7-18 1.9-17 .9-48-.4 0-32.7 18-.2 20-.9 24-3.1 8.7-2.1 17.2-6 7.7-3 2.8-2-2.4-.7-7 .2-27 2.9-62 0z"/><path fill="#343434" d="M-8 -8l361 0 0 408-242.1 0-.2-273-2.7-.9-7 .6-20 3.8-28 3-22 .9-39-.6 0-32.3 18-.2 20-.9 24-3.1 9.5-2.3 20.3-7 7.7-3 2.6-2-2.1-.7-6 .2-32 3.5-62 .1z"/><path fill="#3a3a3a" d="M-8 -8l361 0 0 408-239.5 0 0-273-.4-1-2.1-.4-7 .4-24 4.3-16 2-14 1.1-20 .7-38-.5 0-31.9 18-.2 20-.9 24-3.1 10-2.4 23.8-8.1 7.6-3 2.6-2-3-.8-5 .2-35 4.2-63 .1z"/><path fill="#404040" d="M-8 -8l361 0 0 408-236.8 0-.1-274-1.1-1-5.1 0-30.9 5.2-24 2.6-23 1.1-40-.6 0-31.4 38-1 24-3.1 10-2.5 27.9-9.3 7.4-3 2.5-2-2.5-1-5.3 .2-39 5.1-63 0z"/><path fill="#464646" d="M-8 -8l361 0 0 408-234.2 0-.2-275-2.6-.8-8 .7-27 4.8-26 2.9-23 1.1-40-.6 0-31 38-1 24-3.1 10-2.5 29.1-9.5 10-4 2.6-2-.7-.9-1-.3-6 .1-34 5.1-9 .9-63 .1z"/><path fill="#4b4b4b" d="M-8 -8l361 0 0 408-231.5 0 0-273-.5-3-3-.4-5.4 .4-31.6 5.6-26 2.8-24 1.1-39-.6 0-30.6 18-.1 21-1 11-1.1 14-2.3 9-2.4 34.9-11.4 8.7-4 .9-1-.1-1-2.4-.7-5 .2-34.3 5.5-11.7 1.4-64 .1z"/><path fill="#515151" d="M-8 -8l361 0 0 408-228.9 0-.1-276-1-1-5.2 0-17.8 2.7-19 3.7-27 2.9-23 1-39-.6 0-30.2 19-.2 20-.9 24-3.2 8-2 38.2-12.2 9.6-4 2.9-2 .6-1-2.3-1.4-5 .1-42.3 7.3-9.4 1-63.3 .1z"/><path fill="#575757" d="M-8 -8l361 0 0 408-226.2 0-.2-277-2.6-.9-7 .7-36 6.4-26 2.8-24 1.1-39-.6 0-29.8 20-.2 20-.9 24-3.4 8-2 41.3-13.2 13.8-6 2.7-2 .3-1-1.4-1-4.5 0-31.5 6-27.7 4.3-65 .2z"/><path fill="#5d5d5d" d="M-8 -8l361 0 0 408-223.6 0-.3-278-3.1-.6-6 .6-39 7-24 2.7-25 1.2-40-.5 0-29.5 20-.2 20-.9 12-1.4 13-2.2 49.6-15.2 17.4-7 3.7-2 1.2-1-.1-1-3.8-.5-8.2 .5-31.8 6.3-21.9 3.7-7.1 .7-64 .2z"/><path fill="#636363" d="M-8 -8l361 0 0 408-220.9 0-.1-278.1-.4-.9-1.6-.3-5.5 .3-43.5 7.8-25 2.8-24 1.1-40-.5 0-29.1 38-1 14-1.4 13-2.2 51-15.5 20.5-8 5.8-3 1-1-2.3-.6-16 1.2-32 6-28 4.2-65 .3z"/><path fill="#686868" d="M-8 -8l361 0 0 408-218.3 0 0-279-.8-1-5.1 0-46.8 8.5-25 2.9-25 1.1-40-.5 0-28.6 19-.2 20-.9 14-1.5 12-2.1 52.3-15.7 21.1-8 10.1-5-1.5-.8-22 1.9-31 5.7-29 4.1-65 .3z"/><path fill="#6e6e6e" d="M-8 -8l361 0 0 408-215.6 0-.1-280-1.3-1-3 0-51 9.3-24 2.8-26 1.3-40-.6 0-28.2 21-.2 20-1 16-2 10-1.9 54-16.3 23.7-9.2 8.1-4 .3-1-28.1 2.8-29 5-31 4.1-65 .4z"/><path fill="#747474" d="M-8 -8l361 0 0 408-213 0-.1-281-1.9-.9-6 .6-50 9.4-25 2.9-25 1.2-40-.6 0-27.7 22-.2 19-1 24-3.5 56-16.4 25.4-9.8 8.5-4 2.2-2-32.1 3.5-29 4.7-31 3.7-65 .4zM192 54.9l0 1.1 7 .5 2.6-.5-1.3-1-3.3-1z"/><path fill="#7a7a7a" d="M-8 -8l361 0 0 408-210.3 0-.2-282-2.5-.7-6 .7-48 9.3-23 3-30 1.7-41-.6 0-27.2 37-.9 16-1.7 12-2 56-16.3 26-9.9 7.6-3.4 5.1-3-.7-1-1.5 0-60.5 8.5-35 3.7-62 .2zM193 53.9l-3.3 1.1-1.1 1 2.4 .9 15.9 1.1-2.3-2-4.6-2.1-3-.6z"/><path fill="#808080" d="M-8 -8l361 0 0 408-207.7 0-.2-283-2.1-.6-5.7 .6-50.8 10-22.5 3-31 1.8-41-.6 0-26.7 20-.1 21-1 14-1.7 12-2.2 58-17 28-11 10.3-5.5 .2-1-63.5 8.5-38 3.9-62 .1zM195 53l-5 1.3-2.9 1.7-.5 1 14.4 1.3 12.2 2.7-.1-1-1.5-1-9.4-5-3.2-1.1z"/><path fill="#858585" d="M0 -8l353 0 0 408-205 0-.3-284-2.7-.5-4.5 .5-55.1 11-23.3 3-29.1 1.6-41-.6 0-26.1 23-.2 19-1 17-2.2 9-1.9 54-15.4 26-9.7 18-8.8 9.2-2.7-4.2-.1-28 4.6-39 5-42 4.2-62-.1 0-81.1 7-.4zM193 52.9l-5.4 2.1-3.2 2-.4 1 14 .7 5 .8 10 2.9 7 3.7 1 0-2.1-3.1-3.7-3-9.2-5-7-2.8z"/><path fill="#8b8b8b" d="M1.3 -8l351.7 0 0 408-202.4 0 0-282-.3-3-2.3-.5-4.5 .5-56.5 11.5-22 3-31 1.8-42-.6 0-25.2 19-.2 20-.9 15-1.6 12-2.2 56-15.7 26-9.5 18-8.5 25-7.3 12-.2 6 .6 13 3.9 8 5.2 1.1-.1-.3-2-2.7-4-5.1-4-10-5.2-5-2-2-.3-8 1.9-10 4.7-19 4.6-26 4.5-37 4.6-46 4.4-60-.4 0-77 7-.4 1.9-3.4z"/><path fill="#919191" d="M2.3 -8l350.7 0 0 408-199.7 0 0-283-.4-3-1.9-.5-4.8 .5-57.5 12-22.7 3.2-32 1.9-42-.6 0-24.4 22-.2 19-1 24-3.4 57-15.9 28-10 16-7.6 26-7.3 13-.2 8 1.4 10 3.5 8 5.7 1-.2 .3-.9-.3-2-3-5-6-4.9-11-5.5-4-1.5-2-.2-8 2.1-10 4.4-11 3-28 5.4-20 2.8-33 3.8-36 3.3-60-.7 0-73 7-.4 2-3.2z"/><path fill="#979797" d="M3.2 -8l349.8 0 0 408-197.1 0 0-284-.3-3-2.6-.5-4 .5-31.2 7-30.2 6-21.5 3-32.1 1.9-42-.7 0-23.3 19-.2 21-1 13-1.5 13-2.2 56-15.6 28-9.8 16-7.4 25-7.1 14-.5 8 1.4 10 3.4 8 6.1 1 .2 1-.7 .3-1-.5-3-3-5-5.8-5.1-10-5.3-7-2.5-9 2.4-10 4.3-8 2.3-31 6.3-19 2.7-70 7-60-.9 0-69.1 6 0 2-1.2 2.2-5.9z"/><path fill="#9c9c9c" d="M4.3 -8l348.7 0 0 408-194.4 0-.3-288-2.3-.6-4 .4-30.7 7.2-29.6 6-11.2 2-15.5 1.9-31 1.7-42-.6 0-22.3 19-.2 21-1 14-1.6 12-2.2 59.7-16.7 25.3-8.7 16-7.3 24-6.6 14-.6 9 1.5 9 3.1 9 6.9 1.2-.3 1-2-.6-4-3.6-5.9-5-4.6-11-6.3-4-1.8-2-.3-5 1.2-15 5.9-8 2.4-25.7 5.4-19 3-75.3 7.6-60-1.2 0-65.1 6 0 2-1.1 2.5-6.2z"/><path fill="#a2a2a2" d="M5.5 -8l347.5 0 0 408-191.8 0-.2-289-2-.7-5 .6-38.5 9.1-36.5 7-24 2.5-28 .9-35-.8 0-21.1 18-.1 21-1 13-1.4 13-2.2 63.4-17.8 23.6-8 15-6.8 17-4.9 8-1.8 14-.5 10 2 8 3 7 6.2 2 1 1-.4 1.1-1.8 .1-4-2.7-6-6.8-9-.3-13-.8-1-1.6 .2-14 6.2-27 10.1-19.8 4.5-23.1 4-79.1 8.1-60-1.5 0-61.1 6 0 2-1 3.3-8.5 1.9-7z"/><path fill="#a8a8a8" d="M6.9 -8l346.1 0 0 408-189.1 0-.2-290-1.7-.9-6 .8-37.1 9.1-37.9 7.5-22.7 2.5-27.3 1.1-39-.8 0-20 18-.1 21-1 13-1.4 13-2.2 68-19.1 20-6.8 15-6.6 16-4.7 8-1.7 15-.5 12 2.7 5 2.1 8 7.5 2 1 1 0 1.6-1.5 1.1-4-.8-9-.1-29-.7-1-1.1-.1-4 1.2-22 11-23.8 9.9-20.5 5-21.7 3.9-45.3 5.1-37.7 3.5-60-1.7 0-57.1 6-.1 1-.2 1.5-1.4 4.1-11 2-7z"/><path fill="#aeaeae" d="M8.2 -8l344.8 0 0 408-116.1 0 0-368-.4-5-2.5 .3-32 17.4-21 9.3-13.3 4-24.2 5-21.2 3-69.3 6.7-61-1.8 0-53 7-.2 2-2 5.1-13.7 1.9-7zM184 67l16-.6 6 1.2 8 2.4 5 3.4 7.5 8.6 1.2 2 1.4 5-.1 1.2-.7 .8-4.2 0-.4 2 0 307-57.1 0 0-289-.6-2.6-2-.6-5 .8-41.3 10.4-29.5 6-12.9 2-18.3 1.8-20 1-45-.8 0-18.9 18-.1 21-1 13-1.4 13-2.2 71-19.9 17-5.7 16-6.9 15-4.4z"/><path fill="#b4b4b4" d="M9.8 -8l343.2 0 0 408-111.9 0 0-372 .3-3 2-4-.4-.8-35 20.5-21 10.2-13 4.9-22.7 5.2-26.3 4.1-72 6.8-61-1.8 0-49.1 7-.1 2-1.7 5.5-13.2 2.8-10zM187.2 68l12.8-.4 7 1.3 7 2.1 4 2.6 3.2 3.4 3.3 5 1.6 5-1.1 1.1-6-2.5-1.2 .4-.2 1 0 313-48.1 0 0-290-.7-3-1.8-.5-4 .5-46.6 12-29.5 6-13.6 2-14.3 1.4-22 1-45-.8 0-17.6 19-.2 20-1 12-1.3 13-2.1 76-21.2 14-4.7 14-6.1 15-4.6z"/><path fill="#b9b9b9" d="M12 -7l0-1 341 0 0 408-107.8 0 0-375 .4-3 1-2 7.6-9-.2-.5-21 15-30 17.2-23 10.5-7 2.3-10.3 2.5-19.7 3.9-17 2.5-73 6.4-61-1.6 0-45 7-.1 1.6-1.1 1.4-1.9 5-11.1zM190.4 69l10.6-.2 13 3.2 3 1.9 3 3.1 3 5 .5 3-1.5 .2-8-3.4-4-.4-3 .5-27 17.6-9 5-9 1.9-38.2 10.6-38.4 8-24.4 3-18.5 1-13.5 .1-37-1 0-16.3 19-.1 21-1.1 24-3.3 79-22 12-4 14.8-6.3 13.2-4z"/><path fill="#bfbfbf" d="M14.8 -8l258.2 0-2 2.7-10 8.8-19 15.1-10 6.8-32 18.1-17 7.9-10 3.5-20 4.6-20 3.4-49 4.6-33 2.2-38-.5-21-.9 0-40.9 7-.1 2-1.2 1.6-2.1 5-10 6.5-18zM274.7 -7l.7-1 77.6 0 0 408-104.7 0 0-378 .7-3 2.8-4zM194.4 70l8.6 .4 11 2.8 2.8 1.8 2.2 2.4 2.2 3.6 .3 2-1.5 .2-7-2.5-4-.2-2.9 .5-28.1 18.2-8 4.2-39.6 11.6-41.1 9-21 3-23.3 1.5-15 .2-38-1.2 0-14.6 19-.2 21-1.1 23-3.1 80-22 12-3.9 15.8-6.6 13.2-4z"/><path fill="#c5c5c5" d="M17.7 -8l254.5 0-3.2 3.6-9 7.9-18 14.4-9 6.2-33.2 18.9-16.8 7.7-10 3.6-20.8 4.7-17.4 3-14.8 1.8-27 2.2-42 2.5-40-.1-19-1 0-36.8 8-.4 2-1.6 2.6-3.6 3.3-6 6.1-14.5 3-8.5zM275.5 -7l.6-1 76.9 0 0 408-101.8 0 0-380 .6-3 2.1-3zM192.3 72l9.7-.2 11 2.5 4 2.6 2.4 4.1-1.4 .4-7-1.6-7 .7-26 17.2-8 4.4-37.3 11.9-16.1 4-23.8 5-18.6 3-28.2 2.1-18 .1-36-1.6 0-12.1 41-1.6 23-3.3 81-21.9 10-3.2 16-6.5 13-4z"/><path fill="#cbcbcb" d="M22.7 -8l248.7 0-4.8 5-7.6 6.6-18 14.3-9 6.2-32 18.1-17 7.9-11 3.8-18.1 4.1-16.9 3-16 2-22 1.7-48 2.6-41 .2-10-1.2-8-.1 0-32.4 8-.3 2.3-1.5 3.6-4 7.1-13.2 7-17.8 2.1-3zM276.7 -8l76.3 0 0 408-99 0 0-382 .3-2 1.7-3 18-17.7zM196 74l7 0 8 1.6 3.8 1.4 1.8 2-.6 .5-6-.4-7 .4-25 16.7-8 4.5-22.6 8.3-20.1 6-41.5 9-25.6 3-27.2 .7-13.6-.7-18.4-1.8-9-.1 0-8.1 9-.1 32-2.1 23-3.2 57-15.7 28-6.8 20-7.3 15-4.6z"/><path fill="#d1d1d1" d="M37.8 -8l232.7 0-4.7 5-6.9 6-18.9 15-9 6-31.9 18-15.1 7-11.2 4-17.4 4-16.4 3-15.1 2-16.9 1.4-29.2 1.6-37.8 1.3-30 .2-4.1-.5-2.9-1-1-2 .2-26 5.6-6 4.2-6.5 9-19.5 7-5.8 8.8-5.2zM276.7 -7l.5-1 75.8 0 0 408-95.6 0 .1-385 .5-2 3.1-4zM192.9 77l7.1-.8 6.5 .8-4.5 1.4-25 17-10.7 5.6-27 10-26.4 7-24 5-11.9 1.9-16 1.4-15 .7-18-.7-28-3.7-8-.2 0-2.1 7-.1 16-2.3 22-1.4 20-3 56-15.3 30-6.8 18-6.4 16-4.9z"/><path fill="#d6d6d6" d="M53 -8l216.3 0-3.3 4-5.5 5-18.8 15-8.6 6-33.5 19-15.1 7-10.8 4-17.2 4-15.5 2.9-26 3.1-34 1.8-38.3 1.2-21.7-.1-10.9-.9-.6-1-.5-6 0-20 5.5-9 6.5-13.3 6-6.7 6-5 6-3.6 12.8-5.4zM277.8 -8l75.2 0 0 408-91.1 0 0-388 .4-2 1.9-3 11.8-12.3zM193.8 80l2.3 0-3.1 3-12.8 9-12.4 7-25 10-12.3 4-11.8 3-32.9 7-16 2-12.8 .6-18-.3-13.3-1.3-8.4-2 .2-1 1.5-.3 21-2.2 18-3 54-14.6 31-6.5 34-10.6z"/><path fill="#dcdcdc" d="M65.9 -7l.2-1 201.8 0-2.8 4-4.1 3.8-19 15.2-10 6.9-32 18.1-15.1 7-10.9 4-21.8 5-17.2 2.9-17 1.9-16 1-63 1.8-12-1.3-4.7-1.3-3.3-1.8-2.9-3.2-1.1-3-.1-16 1-3 7.1-12.7 7.7-9.3 7.3-6 8-3.9 15-5.6 2.9-1.5zM278.5 -8l74.5 0 0 408-85.7 0 0-392 .4-2 1.2-2 8.5-10zM173 93l0 1-1.4 1-7.4 4-22.3 9-11.6 4-25 6-19.4 4-8.9 1.2-22 .5-11.8-.7-2.4-1 2.8-1 17.4-3.6 52-13.5 31.8-5.9 15.2-3.3z"/><path fill="#e2e2e2" d="M77.5 -8l189.2 0-1.6 3-4.1 4-20 16-8.9 6-31.9 18-17.2 7.9-10 3.5-20.8 4.6-18.2 3-18 1.9-24 1.2-52 1-10.7-2.1-4.3-2-2.9-2-1.8-3 0-17 3.6-7 7.9-11 8.2-7.5 12-5.4 9-3 9-4 5.6-3.1 1.2-1zM279.5 -8l73.5 0 0 408-75.7 0 0-401 .5-3zM138.9 103l7.1-.6 2 .6-6.3 3-11.7 4.2-39.4 8.8-12.6 2-12 .1-1.8-1.1 14.8-4.6 34-8.1 17-3.2z"/><path fill="#e8e8e8" d="M88.9 -8l176.9 0-1.6 3-4.2 4-19 15.1-8.8 5.9-32 18-17.2 7.9-10 3.4-20 4.5-19 3.1-17 1.8-21 1.1-43 1.1-12-.2-9-2.2-3-1.5-2.6-2-1-3 .4-17 4.6-8 6.6-8 4-3.4 10-4.7 15-4.9 12-5.3 9.3-5.7 1-1zM283.4 -8l69.6 0 0 408-69.6 0z"/><path fill="#eeeeee" d="M114.5 -8l150.4 0-1.6 3-3.2 3-19 15-8.8 6-32.1 18-15.2 7-11 4-17.4 4-16.8 3-15.8 2-15 1.1-59 1.5-11-.8-5.1-1.8-3-2-.8-3 .2-17 4.4-7 5.3-6 13-6.7 18.8-5.3 9.2-3.6 9-4.6 21.5-6.8 1.8-1zM289.5 -8l63.5 0 0 408-63.5 0z"/><path fill="#f3f3f3" d="M141.8 -8l122.1 0-.9 2-3 3-19 15-8.9 6-32.1 18-17.7 8-8.7 3-28.6 6-15 2.1-16 1.5-62 1.6-12-.8-4.6-2.4-.7-2 .2-18 3.1-5 4-3.6 12-6.1 19.3-4.3 16.7-5.7 19-4.5 15-4.6 15.4-6.2 1.5-1z"/><path fill="#f9f9f9" d="M157 -8l105.5 0-1.1 2-3.4 3-17.8 14-9.1 6-30.6 17-17.7 8-8.4 3-28.2 6-28.2 3.5-21 .9-44 .9-11-.9-1.6-.4-.8-1-.3-17 .6-3 2.2-2 8.9-5 4-1.7 18-2.7 17-3.8 26.9-4.8 23.1-6.3 8-2.8 3-2 4.9-6.9z"/><path fill="#ffffff" d="M167 -8l89.4 0-14.4 12-9 5.8-31 12.6-17 5.5-12 3.1-22 4.1-21 2.9-17 1.6-27 1.4-31 1.1-2.9-2.1-2.4-4-.1-2 .8-1 4.6-2.3 61-6.1 18-2.8 16-3.4 7-4 4.9-5.4 3.5-8z"/><circle cx="194.1" cy="45.5" r="2.3" fill="#6b6b6b"/><circle cx="202.6" cy="40" r="2.3" fill="#707070"/><circle cx="211" cy="35.2" r="2.3" fill="#757575"/><circle cx="219" cy="31" r="2.3" fill="#808080"/><circle cx="226.8" cy="25.5" r="2.3" fill="#8c8c8c"/><circle cx="234.7" cy="20.7" r="2.3" fill="#999999"/><circle cx="241.3" cy="16.4" r="2.3" fill="#a3a3a3"/><circle cx="247.4" cy="11.6" r="2.3" fill="#adadad"/><circle cx="254.7" cy="5.5" r="2.3" fill="#b8b8b8"/></g></g></g>
<g id="fD" fill-rule="evenodd"><g filter="url(#b2)"><g><path fill="#040404" d="M56.9 -7l.4-1 281.6 0 0 3-1 2-.1 6-.9 2-.1 4-1 2 0 3-1 2-.2 3-.8 1 0 2-1 2 0 3-1 2 0 3-1 2-.2 4-.7 1-.1 5-.9 2-.1 7-.9 2-.1 7-.9 2-.1 9-1 2 0 8-1 2 0 11-1 2 0 11-1 2 0 11-1 2 0 7-1 2 0 6-1 2 0 5-1 2 0 5-1 2 0 4-1 2 0 3-1 2 0 3-1 2 0 2-1 2-.3 3-.7 1 0 2-1 2 0 2-4.3 13-8 18-1.5 1.6-2.5 5.4-1.5 1.6-1.5 3.4-1.5 1.6-2.5 4.4-2.5 2.6-2.5 4.4-5.5 6.6-.5 1.4-3.5 3.6-.5 1.4-8 8-1 2-6.5 6.5-2 1-8 8-1.4 .5-8.6 7.5-4.4 2.5-2.6 2.5-3.4 1.5-1.6 1.5-4.4 2.5-1.6 1.5-5.4 2.5-1.6 1.5-9.4 4.5-1.6 1.5-6 3-2 .3-7 3.7-2 .3-5 2.7-2 .3-13 5.7-31 10.3-6 1-5 2-2 0-2 1-2 0-2 1-2 0-2 1-6 1-2 1-2 0-2 1-2 0-2 1-3 0-2 1-3 0-2 1-5 0-2 1-7 0-2 1-11 0-2 1-20 0-2 1-42 0 0-305.5 4-1.3 15-7 8.2-5 6.1-6 14.7-17.8 14.3-13.2z"/><path fill="#080808" d="M61.8 -8l276.5 0 0 3-1 2-.1 6-.9 2-.1 4-.7 1-.3 4-.7 1-.3 3-.7 1-.3 3-.9 2-.1 3-.7 1-.3 4-.9 2-.1 3-.9 2-.1 5-.9 2-.1 7-.9 2-.1 7-.9 2-.1 9-.9 2-.1 8-.9 2-.1 11-.9 2-.1 11-1 2 0 11-1 2 0 7-1 2 0 6-1 2 0 5-1 2 0 5-1 2 0 4-.8 1-.2 4-1 2 0 3-.9 1-.1 3-.9 1-.2 3-.8 1-.2 3-.8 1-.2 3-1.8 4-.2 2-.8 1-.2 2-.8 1-.2 2-1.8 3-.2 2-3.8 7-.2 2-2.1 4.3-1.7 1.7-2.3 5.3-1.7 1.7-1.3 3.2-3.7 4.8-.3 1.2-2.7 2.8-.3 1.3-1.7 1.7-.3 1.2-5.7 6.8-.3 1.2-3.7 3.8-.3 1.2-8.7 8.8-.3 1.2-6.8 6.8-1.2 .3-8.8 8.7-1.2 .3-8.8 7.7-1.2 .2-1.8 1.8-1.2 .2-2.8 2.8-3.2 1.2-4.8 3.8-1.2 .2-1.8 1.8-5.2 2.2-1.8 1.8-9.2 4.2-1.8 1.8-6.2 3.1-2 .1-7 3.9-2 .1-5 2.9-2 .1-3 1.9-2 .1-3 1.9-2 .1-3 1.9-2 .1-1 .9-5 1.1-3 1.9-5 1.1-1 .9-2 .1-1 .9-3 .1-1 .9-2 .1-1 .9-2 .1-1 .9-3 .1-1 .9-3 .1-1 .9-2 .1-1 .9-3 .1-1 .9-3 .1-1 .9-3 .1-1 .9-3 .1-1 .9-3 .1-1 .9-3 .1-1 .9-3 .1-1 .9-4 .1-1 .9-4 .1-1 .9-6 .1-1 .9-7 0-2 1-11 0-2 1-20 0-2 1-42 0 0-303.8 4-1.2 14-6.3 9.8-5.8 5.4-5 14.8-16.9 19.8-17.1z"/><path fill="#0c0c0c" d="M66.7 -8l271.2 0 0 3-1 1 0 7-1 1 0 5-1 1 0 4-1 1 0 3-1 1 0 3-1 1 0 4-1 1 0 4-1 1 0 4-1 1 0 6-1 1 0 8-1 1 0 8-1 1 0 10-1 1 0 9-1 1 0 12-1 1 0 12-1 1 0 12-1 1 0 8-1 1 0 7-1 1-.1 6-.9 1-.1 6-.9 1-.1 5-.9 1-.1 4-.9 1-.1 4-1 1 0 3-1 1 0 3-1 1 0 3-1 1 0 3-1 1 0 2-1 1 0 2-1 1 0 2-1 1 0 2-2 3 0 2-3 5 0 1-1 1 0 2-2 3 0 1-2 2-1 3-1 1 0 1-2 2-1 3-4 5 0 1-3 3 0 1-2 2 0 1-6 7 0 1-4 4 0 1-9 9 0 1-6.8 6.8-1 0-9 9-1 0-4 4-1 0-4 4-1 0-2 2-1 0-3 3-3 1-2 2-1 0-2 2-1 0-2 2-1 0-1 1-3 1-2 2-1 0-3 2-1 0-1 1-3 1-2 2-1 0-1 1-3 1-1 1-2 0-5 3-1 0-1 1-2 0-5 3-2 0-3 2-2 0-3 2-2 0-3 2-2 0-1 1-2 0-1 1-2 0-3 2-2 0-1 1-2 0-1 1-2 0-1 1-3 0-1 1-2 0-1 1-2 0-1 1-3 0-1 1-3 0-1 1-2 0-1 1-3 0-1 1-3 0-1 1-3 0-1 1-3 0-1 1-3 0-1 1-3 0-1 1-3 0-1 1-4 0-1 1-4 0-1 1-6 0-1 1-8 0-1 1-12 0-1 1-21 0-1 1-42 0 0-302.6 4-1 14-6.1 10-5.8 5.9-5.3 14.1-15 23.5-19 2.1-2z"/><path fill="#101010" d="M72 -8l265.8 0-.1 3-.9 1-.1 7-.9 1-.1 5-1 1 0 4-1 1 0 3-1 1 0 3-1 1 0 4-1 1 0 4-1 1 0 4-1 1 0 6-1 1 0 8-1 1 0 8-1 1 0 10-1 1 0 9-1 1 0 12-1 1 0 12-1 1 0 12-1 1 0 8-1 1-.1 7-.9 1-.1 6-.9 1-.1 6-.9 1-.1 5-.9 1-.1 4-1 1 0 4-1 1 0 3-1 1 0 3-1 1 0 3-1 1 0 3-1 1 0 2-1 1 0 2-1 1 0 2-1 1 0 2-2 3 0 2-3 5 0 1-1 1 0 2-2 3 0 1-2 2-1 3-1 1 0 1-2 2-1 3-4 5 0 1-3 3 0 1-2 2 0 1-6 7 0 1-4 4 0 1-9 9 0 1-6.6 6.6-1 0-9 9-1 0-4 4-1 0-4 4-1 0-2 2-1 0-3 3-3 1-2 2-1 0-2 2-1 0-2 2-1 0-1 1-3 1-2 2-1 0-3 2-1 0-3 2-1 0-2 2-1 0-1 1-3 1-1 1-2 0-3 2-3 1-1 1-2 0-5 3-2 0-3 2-2 0-3 2-2 0-3 2-2 0-1 1-2 0-1 1-2 0-3 2-2 0-1 1-2 0-1 1-2 0-1 1-3 0-1 1-2 0-1 1-2 0-1 1-3 0-1 1-3 0-1 1-2 0-1 1-3 0-1 1-3 0-1 1-3 0-1 1-3 0-1 1-3 0-1 1-3 0-1 1-3 0-1 1-4 0-1 1-4 0-1 1-6 0-1 1-8 0-1 1-12 0-1 1-21 0-1 1-42 0 0-301.5 4-1 13-5.3 11-6 5.7-4.8 14.3-14.1 28.7-21.9 2.1-2z"/><path fill="#141414" d="M77.6 -8l260 0 0 3-1 1-.1 7-.9 1-.1 5-.9 1-.1 4-.9 1-.1 3-.9 1-.1 3-.9 1-.1 4-.9 1-.1 4-.9 1-.1 4-.9 1-.1 6-.9 1-.1 8-.9 1-.1 8-.9 1-.1 10-1 1 0 9-1 1 0 12-1 1 0 12-1 1 0 12-1 1-.1 8-.9 1-.1 7-.9 1-.1 6-.9 1-.1 6-.9 1-.1 5-1 1 0 4-1 1 0 4-1 1 0 3-1 1 0 3-1 1 0 3-1 1 0 3-1 1 0 2-1 1 0 2-1 1 0 2-1 1 0 2-2 3 0 2-3 5 0 1-1 1 0 2-2 3 0 1-2 2-1 3-1 1 0 1-2 2-1 3-4 5 0 1-3 3 0 1-2 2 0 1-6 7 0 1-4 4 0 1-9 9 0 1-6.4 6.4-1 0-9 9-1 0-4 4-1 0-4 4-1 0-2 2-1 0-3 3-3 1-2 2-1 0-2 2-1 0-2 2-1 0-1 1-3 1-2 2-1 0-3 2-1 0-3 2-1 0-2 2-1 0-1 1-3 1-1 1-2 0-1 1-3 1-1 1-1 0-1 1-2 0-5 3-2 0-3 2-2 0-3 2-2 0-3 2-2 0-1 1-2 0-1 1-2 0-3 2-2 0-1 1-2 0-1 1-2 0-1 1-3 0-1 1-2 0-1 1-2 0-1 1-3 0-1 1-3 0-1 1-2 0-1 1-3 0-1 1-3 0-1 1-3 0-1 1-3 0-1 1-3 0-1 1-3 0-1 1-3 0-1 1-4 0-1 1-4 0-1 1-6 0-1 1-8 0-1 1-12 0-1 1-21 0-1 1-42 0 0-300.4 4.3-1 12.6-5 11.4-6 5.2-4 14.5-13.2 32.9-23.8 3.6-3z"/><path fill="#181818" d="M83.9 -8l253.5 0 0 3-.9 1-.1 7-1 1-.1 5-.9 1-.1 4-.9 1-.1 3-.9 1-.1 3-.9 1-.1 4-.9 1-.1 4-.9 1-.1 4-.9 1-.1 6-.9 1-.1 8-.9 1-.1 8-.9 1-.1 10-.9 1-.1 9-.9 1-.1 12-.9 1-.1 12-1 1 0 12-1 1-.1 8-.9 1-.1 7-.9 1-.1 6-.9 1-.1 6-.9 1-.1 5-1 1 0 4-1 1 0 4-1 1 0 3-1 1 0 3-1 1 0 3-1 1 0 3-1 1 0 2-1 1 0 2-1 1 0 2-1 1 0 2-2 3 0 2-3 5 0 1-1 1-.1 2-1.9 3-.1 1-1.9 2-1.1 3-.9 1-.1 1-1.9 2-1.1 3-3.9 5-.1 1-2.9 3-.1 1-1.9 2-.1 1-5.9 7-.1 1-4 4 0 1-9 9 0 1-6.1 6.1-1 0-9 9-1 0-9 8-1 0-2 2-1 0-3 3-3 1-2 2-1 0-2 2-1 0-2 2-1 0-1 1-3 1-2 2-1 0-3 2-1 0-3 2-1 0-2 2-1 0-5 3-2 0-1 1-3 1-1 1-1 0-1 1-2 0-5 3-2 0-3 2-2 0-3 2-2 0-3 2-2 0-1 1-2 0-1 1-2 0-3 2-2 0-1 1-2 0-1 1-2 0-1 1-3 0-1 1-2 0-1 1-2 0-1 1-3 0-1 1-3 0-1 1-2 0-1 1-3 0-1 1-3 0-1 1-3 0-1 1-3 0-1 1-3 0-1 1-3 0-1 1-3 0-1 1-4 0-1 1-4 0-1 1-6 0-1 1-8 0-1 1-12 0-1 1-21 0-1 1-42 0 0-299.2 4.1-.9 10.9-4 13-6.3 22-17.5 38.3-26.2 2.3-2z"/><path fill="#1c1c1c" d="M90.8 -8l246.5 0-.1 3-.9 1-.1 7-.9 1-.2 5-.9 1-.1 4-.9 1-.1 3-.9 1-.1 3-.9 1-.1 4-.9 1-.1 4-.9 1-.1 4-.9 1-.1 6-.9 1-.1 8-.9 1-.1 8-.9 1-.1 10-.9 1-.1 9-.9 1-.1 12-.9 1-.1 12-1 1 0 12-1 1-.1 8-.9 1-.1 7-.9 1-.1 6-.9 1-.1 6-.9 1-.1 5-1 1 0 4-1 1-.1 4-.9 1-.1 3-.9 1-.1 3-.9 1-.1 3-.9 1-.2 3-.8 1-.2 2-.8 1-.2 2-.9 1-1.2 5-1.8 3-.2 2-3.8 7-.3 2-2 4-1.6 1.7-2.4 5.3-1.6 1.7-1.4 3.3-1.6 1.6-2.4 4.4-2.6 2.7-2.4 4.3-5.6 6.6-.5 1.4-3.5 3.6-.5 1.4-14.5 15.5-1.4 .5-8.6 8.5-1.4 .5-8.6 7.5-1.5 .5-5.5 4.5-3.5 1.5-7.5 5.5-16.5 8.5-1.5 1.5-6 3-2 .3-7 3.7-2 .3-5 2.7-2 .3-3 1.7-2 .3-8 3.7-8 2.3-3 1.7-2 .2-7 2.7-3 .3-7 2.7-7 1.3-4 1.7-7 1.3-2 1-2 0-2 1-2 0-2 1-2 0-2 1-2 0-2 1-2 0-2 1-3 0-2 1-3 0-2 1-5 0-2 1-7 0-2 1-11 0-2 1-20 0-2 1-41 0 0-298 5-1 10.4-3.7 13.6-6.5 21-15.3 43.6-28.2 3.9-3z"/><path fill="#202020" d="M97.9 -7l.4-1 238.8 0 0 3-.9 1-.2 7-.9 1-.2 5-.9 1-.2 4-.8 1-.2 3-.8 1-.2 3-.8 1-1.2 9-.8 1-.1 4-.8 1-.2 6-.8 1-.2 7-.9 2-.2 8-.8 1-.1 9-.9 2-.1 8-.9 2-.2 11-.8 2-.3 11-.8 2-.2 11-.9 2-.2 7-.8 2-.2 6-.9 2-.1 5-.9 2-.2 5-.9 2-.1 4-.9 2-1.2 8-2.9 10-.1 2-1 2-.1 2-6.1 17-6.2 13.4-11 17.9-15.6 20.7-13.4 14.3-2 1.1-8 7.9-2 1.1-8.9 7.6-18 12-16.1 8.4-1.9 1.6-6.1 3-2 .4-7 3.7-2 .3-5 2.7-2 .3-8 3.7-2 .2-3 1.7-8 2.3-3 1.7-8 2.3-1 .7-3 .3-7 2.7-7 1.3-4 1.7-3 .3-1 .7-2 .1-2 .9-3 .3-1 .7-3 .3-1 .7-3 .3-1 .7-3 .3-1 .7-3 .3-1 .7-8 1.1-2 .9-5 .1-2 .9-7 .1-2 .9-11 .1-2 .9-20 .1-2 .9-41 .1 0-296.5 5-1 9-2.9 15-6.7 20-13.2 44.2-26.8 9.3-6z"/><path fill="#242424" d="M106.7 -8l230.2 0-2.3 16-3.9 15-2.2 13-.8 2-.2 5-.8 2-1.2 16-.8 2-.3 9-.8 2-.2 8-.8 2-.3 11-.8 2-.2 11-.9 2-.2 11-.9 2-.2 7-.8 2-.2 6-.9 2-.2 5-.8 2-.2 5-.9 2-.2 4-.9 2-1.3 8-4.2 16-6.2 17-6.2 13-11.2 18-15.1 20-13.8 14.7-2 1.2-8 7.8-2 1.1-8 6.9-18 11.9-18 10-22 10.1-26 9.9-19 6-40 10.2-8 1.2-2 .8-4.8 .2-2.2 .8-6 .1-3 .9-10 .1-3 .8-19 .2-3 .8-40 .2 0-294.5 5-.8 9-2.7 15.9-6.9 64.5-37 16.3-10 2.6-2z"/><path fill="#282828" d="M115.9 -8l220.6 0-2.4 16-3.8 15-2.2 13-.8 2-.2 5-.8 2-1.3 16-.7 2-.3 9-.8 2-.3 8-.7 2-.4 11-.7 2-1.6 23-.8 3-.3 6-.8 3-1.3 12-4.4 23-4.2 16-2.3 7-4.3 11-4.6 10-8.5 14.6-15 20.8-4.6 5.6-7.4 7.6-1.7 2.4-13.3 12.3-10.9 8.7-18.1 12-18 10-22 9.9-26 9.9-19 6-39 10-8 1.1-2 .8-5 .2-2 .8-6 .1-3 .9-10 .1-3 .9-19 .1-3 .9-40 .2 0-292.6 5-.8 9-2.5 16.9-7 60.9-32 27.7-16 2.9-2z"/><path fill="#2c2c2c" d="M124.6 -7l.5-1 211.1 0-1.4 10-5 21-3.9 22-3.5 36-.8 3-2.8 36-.8 3-.3 6-.9 3-.2 5-2 10-.2 4-5.3 24-2.2 8-4.2 12-7.1 16-8.2 14-15.2 21-4.2 5.2-7.7 7.8-1.3 2.1-14 12.9-17 13-18.1 11-16.9 8.9-31 13-20 7-21 5.9-28 7-3 .2-7 1.7-5 .3-2 .7-7 .3-2 .7-11 .3-3 .7-18 .2-4 .8-39 .2 0-290.7 7-1.2 9-2.6 18.2-7.4 53.8-26 37.1-20z"/><path fill="#303030" d="M134.9 -8l200.9 0-2.6 15-5 21-2.8 17-2.2 18-.4 8-.7 3-.4 7-.7 3-.5 10-.7 3-.5 10-.8 3-.4 10-.8 3-.3 6-.7 2-.4 6-1.9 9-.4 5-5.3 24-2.1 8-4.3 12-7.2 16-8.4 14-15.2 21-13.2 15-13.1 12-17.8 13.5-11 7-22 11.9-32 13.5-20 6.9-21 6-34 8.1-12 2-6 .2-3 .8-10 .2-3 .7-18 .2-4 .8-39 .2 0-289 11-2 12.6-4 44.3-19 27.5-13 33.4-17 11.1-6z"/><path fill="#343434" d="M145.7 -8l189.6 0-2.6 15-4.8 20-3.1 18-1.4 15-.7 3-.4 8-.8 3-.3 7-.8 3-1.7 23-.8 3-.5 10-.7 2-.4 7-.8 2-.3 6-.8 2-1.5 12-.8 2-.3 4-2.2 10-4.3 16-6.3 17-5.7 12-11.2 18-11.2 15-13.9 15.8-13 11.8-17 12.9-11 7-22 12-27 11.5-23 8.3-24 6.8-33 8-12 1.9-6 .2-3 .8-10 .2-3 .8-18 .1-4 .9-39 .2 0-287.3 11-1.9 13.5-4 47.8-19 27.2-12 34.5-16.5 16.5-8.5z"/><path fill="#383838" d="M156.8 -7l.5-1 177.6 0-2.7 15-4.8 20-2.9 17-1.6 16-.8 3-.4 8-.7 3-.4 7-.8 3-.4 10-.8 3-.5 10-.8 3-.5 10-.8 2-.4 7-.7 2-.5 6-.7 2-2.7 18-6.5 26-4.3 12-6.7 15-8.3 14-9.2 13-10.2 13-11.8 12.6-3 2.2-7 6.8-17.8 13.4-18.2 11.1-12 6.5-12 5.5-23 9.4-20 6.8-25 7-24 5.9-10 2-4 .1-3 .9-6 .1-3 .8-10 .2-3 .8-18 .2-4 .8-39 .2 0-285.5 11.1-1.8 14.4-4 52-19 26.6-11 29.2-13 25.2-12z"/><path fill="#3c3c3c" d="M169.6 -8l164.8 0-2.7 15-4.8 20-2.9 17-1.6 16-.8 3-.4 8-.8 3-.3 7-.8 3-.5 10-.8 3-1.8 22-.8 3-.4 6-.8 3-.3 5-.9 3-2.5 17-2.2 10-5.3 19-3.2 9-6.8 15.2-8.1 13.8-9.1 13-10.8 13.7-11.5 12.3-2.8 2-7.3 7-17.4 13.2-18 10.9-13 7-12 5.5-22 9-20 6.8-29 8-30 6.8-13 1.2-3 .8-10 .2-4 .8-17 .2-5 .8-38 .2 0-283.7 12-1.9 16-4.2 35.7-11.6 26.3-9.4 31-12.2 30-12.9 21.7-10.5 3.2-2z"/><path fill="#404040" d="M181.7 -7l.5-1 151.8 0-2.7 15-3.8 15-4 22-1.6 16-.8 3-.4 8-.8 3-.4 7-.8 3-.4 9-.9 4-.4 9-1 4-.4 9-.9 3-.3 6-.9 3-.3 5-.9 3-2.5 17-2.3 10-5.3 19-3.2 9-7 15.4-8 13.6-15.4 21-13.3 15-12.3 11.2-10 7.9-19 12.6-19 10.4-12 5.5-22 9-20 6.9-29 7.9-30 6.8-17 2.1-9 .2-4 .7-17 .2-5 .8-38 .3 0-281.9 14-2.2 18-4.4 37.3-11 30.2-10 30.5-11.3 26.2-10.7 24.8-11.6 6.2-3.4z"/><path fill="#444444" d="M193.6 -7l.5-1 139.6 0-2.8 15-3.9 15-4 22-.5 7-1.9 12-.3 7-.9 4-.3 6-.9 4-.4 9-1 4-.4 9-1 4-.4 9-.9 3-.4 6-.9 3-.3 5-.9 3-2.6 17-6.7 26-4.2 12-7.4 16-11.3 18-11.4 15.3-14 15.7-12 10.8-10 7.9-18 11.8-19 10.5-12 5.5-23 9.4-19 6.4-33 8.9-27 6-29 2.9-18 .3-4 .7-38 .3 0-279.9 16-2.3 25-5.9 38.7-10.3 33.3-10.4 30.1-10.6 24.9-10.1 23-10.9 7-4z"/><path fill="#484848" d="M204.9 -7l.5-1 127.9 0-1.6 9-5.1 21-3 15-2.6 22-.7 3-1.7 18-.8 3-.6 10-.8 3-.6 10-.9 3-.6 10-.9 3-.3 6-1 3-.3 5-.9 3-2.7 17-6.8 26-4.4 12-6.4 14-4.6 8-7.8 12-15.2 19.6-9.7 10.4-11.3 10.2-11 8.7-18.6 12.1-18.2 10-18.2 8.1-27 10.3-18.4 5.6-31.6 8-18 3.6-29 2.7-22 1-38 .7 0-277.5 22-3.3 42.3-9.2 32.7-8.3 32.5-9.7 28.8-10 24.1-10 17.6-9.1 9.5-5.9z"/><path fill="#4c4c4c" d="M216.9 -8l116 0-9.7 45-2.6 22-.8 3-1.7 18-.9 3-.5 10-.9 3-2.1 23-.9 3-1.8 14-3.8 20-7 26-4 11-7.2 15.2-7.9 12.8-9.1 12.7-11 13.3-12.4 12-13.4 11-13.2 9-18.6 11-15.9 8-18.8 8-16.8 6-20.3 6-28.5 7-20.6 4-13.5 1.6-20.6 1.4-56.4 2 0-271.4 10-1.1 18-2.9 49.4-9.6 34-8 32.6-9.3 25.2-8.7 21.8-9.2 11-5.9 15.9-9.9 5.7-4z"/><path fill="#505050" d="M229.6 -8l102.9 0-9.8 45-2.6 22-.8 3-1.8 18-.8 3-.6 10-.9 3-2.3 23-6.5 36-6.2 22-4.2 11-6 10.4-9 13.3-10 13-12 13.2-12 11.3-13 10.5-16 10.8-17 9.9-16 8-17 7.2-16 5.6-19 5.4-29 6.8-20 3.8-13 1.6-19 1.4-60 2.5 0-258.9 34-4.5 54-9.3 32.2-7 33.4-9 23.7-8 18.7-8 12-6.5 23-13.8 5.2-3.7z"/><path fill="#545454" d="M244.9 -8l87.3 0-9.9 45-2.7 22-.8 3-1.8 18-.9 3-.6 10-.9 3-2.3 22-2.9 17-4.4 20-3 9.1-8 15.4-10 15.8-10 13.6-10 11.7-11 11.3-11 9.8-12 9.3-17 11.1-17 9.8-16 7.7-16 6.5-16 5.1-18 4.8-27 6-20 3.5-31 2.8-60 2.8 0-245.8 43.1-5.3 48.9-7.6 36-7.2 32.1-8.2 24.7-8 16.6-7 39.6-21.3 9.2-5.7z"/><path fill="#585858" d="M260.9 -7l.5-1 70.4 0-10 45-1.5 13-.8 3-.4 6-.8 3-1.9 18-.9 3-.6 9-1 4-2.5 22-3.2 17-2.2 8.1-7 15.5-9 15.8-11.2 16.6-12.1 15-10.7 11.5-11 10.3-11 9-11 7.7-17 10.8-15 8.3-15 7.1-14 5.4-15 4.6-18 4.4-26 5.5-19 3.2-30 2.8-62 3.2 0-232.8 51.8-6 48.2-6.8 37-6.9 32-7.7 24-7.5 21.4-9.1 34.6-17.3 14.9-8.7z"/><path fill="#5c5c5c" d="M277.6 -7l.5-1 53.3 0-10 45-2.8 22-.9 3-.5 8-2.3 13-2.5 22-1 4-1 9-2.4 10-4 10-5 10.4-12 20.6-14 19.7-15 17.1-10.4 10.2-10.6 9.1-10 7.4-15.9 10.5-14.1 8.4-12.6 6.6-13.4 6-12 4.3-32 8.2-25 5-19 3-30 2.7-61 3.3 0-221.8 70.3-7.7 38.7-5 38-6.4 33.3-7.6 12.7-3.6 13-4.5 34-14.2 13.8-6.7 12.2-6.7 14.9-9.3z"/><path fill="#606060" d="M293.6 -7l.4-1 37.1 0-10.2 45-9.5 68-2.4 11.1-4 10-7 14.6-8 14-9 13.7-9 12.1-11 12.8-11 11.2-9.5 8.5-9.5 7.5-28 18.6-12 6.8-11 5.5-11 4.7-11 3.8-32 7.8-23 4.4-19 3-29 2.7-63 3.7 0-211 89.8-9.5 40.3-5 37.2-6 27.7-6 14.1-4 17.8-6 15.4-6 13.6-6 12.1-6.3 13-7.7 16-10.8z"/><path fill="#646464" d="M307.5 -8l23.2 0-10.3 45-7.9 55-2.5 12-5 12.6-7 14.4-7 12.4-9 14-8 11.1-9 10.9-10 10.8-11 10.6-9 7.5-9 6.7-15 10.2-14 8.6-21 10.8-10 4-9 2.9-32 7.4-41 6.9-28 2.6-64 4 0-200.2 99.1-10.2 41.4-5 44.6-7 32.6-7 30.7-9 10.5-4 12.7-6 15.5-9 14.7-10 10.2-8.2 2.6-2.8z"/><path fill="#686868" d="M313.7 -8l16.6 0-1.5 8-5.5 21-3.2 15-6.5 43-3.6 15.7-6 14.5-7 13.9-8 13.9-9.9 15-9.1 12.1-10 11.5-10.1 10.4-10.9 9.9-20.3 15.1-24.7 15.7-19 9.7-9 3.6-9 2.9-31 6.9-41 6.6-27 2.5-66 4.4 0-189.4 106-10.8 41.9-5.1 44.4-7 36.4-8 17.9-5 11.9-4 11.9-5 11.9-6 13.5-8 11.6-8 10.6-10z"/><path fill="#6c6c6c" d="M315.7 -8l14.2 0-1.6 8-5.5 21-3.3 15-5.2 33-2.1 10-4.2 11.5-6 13.3-8 15.1-9 14.8-9 13.1-9 11.5-11 12.3-10.5 10.4-10.5 9.1-23 16.5-21 13.1-18 8.9-16 5.6-30 6.5-40 6.1-27 2.6-68 4.8 0-178.6 104.7-10.6 42-5 45.3-7 37-8 18-5 12-4 11.9-5 13.7-7 13.3-8 10.1-7.1 12-11.8 2.8-3.1z"/><path fill="#707070" d="M316.7 -7l.4-1 12.3 0-1.5 8-5.7 21-3.4 15-3.6 22-2.2 9.8-7 17.8-7 14.3-8 14.4-9 14.4-8 11.4-10 12.3-11 12.1-10.9 10.5-10.1 8.5-23 16.5-19.2 12-16.8 8.5-16 5.5-30 6.4-39 5.9-26 2.6-70 5.4 0-168.9 107-10.9 41-4.9 46-7.1 20-4.1 18-4.3 17.8-5.1 11.2-3.9 12-5.3 13-6.8 13-8 9.7-7 8.3-8z"/><path fill="#747474" d="M317.9 -7l.2-1 10.8 0-1.5 8-8.1 31-5.3 24.8-5 13.1-6 13.3-8 15.3-8 13.7-8 12.4-8 11-11 13.2-10.5 11.2-10.5 9.9-11 9-22.5 16.1-17.5 11-16 8-15 5.2-30 6.3-37 5.6-27 2.9-71 6 0-159.6 111-11.6 38-4.6 46-7.1 19-3.9 19-4.6 17-4.9 12-4.3 12-5.4 13-7 12-7.5 10-7.3 9-8.9z"/><path fill="#787878" d="M318.9 -7l.3-1 9.1 0-2.7 13-9.6 35.9-3 8.5-8 18.8-11.9 22.8-8.8 15-8.3 12.4-8 10.6-10 11.8-10 10.7-10 9.5-9 7.4-14 10.5-19 13.1-15 8.8-14 6.4-13 4-29 5.8-35 5.3-27 2.9-71 6.6 0-149.7 122-13.7 45-5.9 36-6.1 33-7.8 16-4.8 12-4.5 12-5.6 13-7.3 12-7.8 9-6.8 14.1-14.8z"/><path fill="#7c7c7c" d="M320.3 -8l7.3 0-2.5 13-7.1 23.3-6.6 16.7-7 15-10 19-10.4 17.8-8 12.2-8 10.7-10 12-10 10.8-17 15.6-26.5 19.9-15.5 10.3-14 7.6-12.5 5.1-13.5 3.5-27 5.2-32 4.7-98 10.1 0-137.6 10-1 52-7.9 70-8.7 43-6 33-6 32-8 15-4.6 11-4.4 14-7 13-7.7 12-8.3 7-5.7 14.3-15.6z"/><path fill="#808080" d="M321.8 -8l5 0-.9 7-3 11-5.6 15-7.5 17-7.1 14-12 21-11.7 18.5-8 11-9 11.2-10 11.2-9 9.1-15 13.1-30.9 22.9-14.2 9-13.9 7.1-11 3.9-17 4-25 4.7-27 3.9-97 10.7 0-124.6 25.2-2.7 43.4-6 60.4-11 59-9.4 30-6.2 29-7.9 12-4.1 13-5.8 13-7 14-9 10-7.3 5.7-5.3 12.5-14 2-3zM266 50.9l-19 8.1-12.4 7-3.7 3 2.1 .7 4.7-.7 11.6-4 9.7-6 6.4-5 2.9-3-.3-.5z"/><path fill="#838383" d="M324 -5l.8 2 0 2-1.8 7.3-6 14.9-8.7 18.8-7 13-9 15-9.8 15-8.1 11-16.4 19.3-17 16.6-17 13.6-29 20.5-17 10.1-14 6.6-16.5 5.3-21.5 5.5-23 4.8-26 4.2-85 10.2 0-112.1 60-5.4 36-4 33-5.1 30-6.3 8-.2 8 .6 5 1.2 8 3.4 8 .4 11.1-1.2 11.5-2 23.4-6 11.1-4 9.8-5 13.4-9 13.7-11 11.9-11 6.6-7z"/><path fill="#878787" d="M316.9 11l1.1-.5 .1 1.5-2.1 6.3-6 13.7-7 13.6-16.3 26.4-16.3 22-13.4 14.8-15 13.8-15 11.1-25 15.9-21 11.8-17 7.9-24 8.4-22 6.4-23 5.4-26 4.8-65 9.2-12 1.1 0-100.1 89-5 41.8-3.5 56.9-7 26.4-5 19.9-5 13-4.2 10-4.2 10-5.8 12-8.3 14-11.3 14-12.9z"/><path fill="#8b8b8b" d="M305.8 30l1.2-.2 0 1.2-3 7.4-13 22.7-15 21.9-14.1 17-12.9 12.7-13 10.5-18 12-21 12.4-18 8.9-17 6.9-27 8-27 7.1-26 6-23 4.4-55 8.6-12 1.1 0-88.2 72-2.9 39-3.4 23-3.1 45-7.2 20-3.9 25-5.6 23-7.2 9-3.8 7-3.9 11-7 11-8.1z"/><path fill="#8f8f8f" d="M290.6 48l2.4-1 .6 1-.4 2-3.2 6.6-6.1 10.4-13.9 19.9-14 15.8-12 10.8-14 10.4-22 13.6-17 9-16 7.3-15 5.5-25 7.1-25 6.3-45 9-62 9.9-11 1 0-76 63-3 37-3.4 39-5.8 37-6.8 23-4.9 32-7.9 13-4.2 10-4.1 8-4.1 11-6.8z"/><path fill="#939393" d="M273.9 65l3.1-.5 .8 1.5-1.8 5-4 7.2-10.6 14.8-12.9 13-12.5 10-17 11.2-19 11-17 7.8-15 6-13 4.2-28 7.6-27 6.2-40 7.2-58 8.1-10 .8 0-63.2 46-2.5 36-3 31-4.2 33-6.1 41-8.7 47-11.9 20-7.2z"/><path fill="#979797" d="M256.7 81l3.3-.3 .8 1.3-1 3-2.5 4-11.1 13-12.4 11-14.5 10-17.3 10.2-13 6-17 6.8-15 4.9-23 6.3-24 5.8-21 4.3-20 3.3-22 3-43 4.9-12 .9 0-50.2 34-2.1 35-3 22-2.7 24-3.9 26-5.2 38-8.7 57-14.1 18-4.9z"/><path fill="#9b9b9b" d="M199.7 101l6.3-.5 17 .4 3 .5 1 .6 .3 1-1.7 3-6.6 7-9.5 9-6.4 5-5.3 3-7 3-23.9 9-13 4-26.4 7-21.7 5-20.6 4-19.5 3-25.8 3-47.9 4 0-34.5 21-1.3 32-2.7 25-2.9 20-3.1 21-4 26-5.9z"/></g></g></g>
<g id="fE" fill-rule="evenodd"><g filter="url(#b2)"><g><path fill="#040404" d="M169.6 -7l.5-1 163.3 0-1.4 17-.7 2-.3 8-.7 2-.3 8-.6 1-.4 8-.8 2-.2 8-.8 2-.2 8-.8 2-.3 9-.8 2-.2 8-.8 1-.2 8-.9 1-.1 8-.9 1-.1 8-.9 1-.2 7-.8 1-.2 7-.9 1-.1 7-.9 1-.1 6-.9 1-.1 5-.9 1-.1 5-.9 1-.1 5-.9 1-.1 4-.9 1-.2 5-.9 1-.1 3-.8 1-.2 4-.9 1-.1 3-.9 1-.1 2-.9 1-.1 3-.9 1-.1 2-.9 1-.1 2-.9 1-.1 3-.9 1-.1 2-.9 1-.1 2-.9 1-.1 2-1.9 3-1.1 5-3.9 7 0 1-1 1 0 1-1 1-.1 1-.9 1-.1 1-3.9 5-.1 1-2.9 3 0 1-2 2 0 1-6 7 0 1-4 4-.1 1-8.9 9 0 1-3 3-3.8 3.8-1 0-9 9-1 0-9 8-1 0-2 2-1 0-3 3-3 1-2 2-1 0-5 4-5 2-2 2-1 0-1 1-5 2-1 1-1 .1-2 1.9-1 0-5 3-2 0-1 1-1 0-5 3-2 .1-5 2.9-2 .1-3 1.9-2 .1-1 .9-1 0-1 1-2 .1-3 1.9-2 0-1 1-2 0-1 1-2 0-1 1-2 0-1 1-2 0-1 1-3 .1-1 .9-2 0-1 1-4 .1-1 .9-4 .1-1 .9-6 .1-1 .9-7 .1-1 .9-7 .1-1 .9-7 .1-1 .9-27 0-1-1-3 0-1-1-3 0-1-1-2 0-3-1.9-2-.1-1-1-1 0-1-1-3-1-6.8-6.8 0-1-3-3 0-1-1.9-2-.1-1-1.9-2-.1-1-.9-1-.1-2-1.9-3-1.1-5-1.9-3-.2-2-1.9-3-.1-1-2.9-3-.1-1-5.1-5.1-1 0-1-1-3-.1-1-.9-4-.1-1-.9-10-.1-1-.9-8 0 0-184.7 3.3-.2 8.9-2 18.8-9.2 42.6-14.8 20.8-9 15.5-8 9.6-6 6.5-5 22-21.6 19.7-16.4z"/><path fill="#080808" d="M173.6 -8l159.1 0-.1 7-.9 1-.2 9-.8 1-.2 9-.8 1-.3 9-.8 1-.2 8-.7 1-.3 9-.8 1-.2 9-.8 1-.3 10-.7 1-.3 9-.8 1-.3 8-.7 1-.3 8-.8 1-.3 8-.7 1-.3 7-.7 1-1.5 15-.7 1-.4 6-.6 1-.4 5-.6 1-.4 5-.7 1-.2 4-1.8 7-.3 4-1.8 6-1.3 7-4.8 15-.2 2-6 17-7 14-9.5 14-10.1 13-11.1 12.1-13 12.1-10 8-18 12-16.5 8.8-1.5 1.2-16 7.5-22 9-22 7-8 1.1-2 .9-5 .1-2 .9-6 .1-2 .9-6 .1-2 .9-6 .1-2 .9-25 0-6-1.9-2-.1-13-5.4-2-1.2-5.1-5.1-7.5-11-8.4-20.1-3-4.1-6-5.8-2-1-3-.4-1-.6-3-.2-2-.8-9-.2-2-.8-8 0 0-183.3 5.5-.7 8.3-2 18.2-8.5 40.4-13.5 21.6-9 16-8.1 10-6.1 7-5.3 20-19.1 27-22.8 6.3-5.6z"/><path fill="#0c0c0c" d="M176.6 -7l.5-1 155.3 0-.3 7-.7 1-.4 9-.7 1-.4 9-.6 1-.4 9-.7 1-.3 8-.6 1-.5 9-.6 1-.3 8-.7 2-1.5 19-.7 2-.3 7-.7 2-.4 7-.7 2-.4 7-.7 2-2.5 22-6.4 36-3.1 13-5.1 17-6.1 17-7.1 14-9.5 13.6-10 12.9-11 12-12.5 11.5-10.5 8.3-18 12-16 8.4-2 1.6-15 7-2 .4-5 2.6-2 .4-13 5.6-22 6.9-8 1.3-2 .7-5 .3-3 .9-5 .1-3 .9-5 .1-3 .9-5 .1-3 .8-23 .1-9-2.1-8-3-6-3-5-4.8-7.4-10.5-8.9-21-2.9-4-5.8-5.8-2.5-1.2-9.5-2.2-9-.2-2-.8-8 0 0-181.7 7.2-1.1 8-2 9.8-4.7 9-3.5 39-12.5 20.4-8.3 16.6-8.2 10-5.9 7.9-5.9 20.1-18.5 22-18.3z"/><path fill="#101010" d="M180.6 -8l151.4 0-1.4 16-.7 2-.3 8-.7 2-.4 8-.7 2-.3 7-.6 2-.4 8-.7 2-.4 8-.6 2-1.6 19-.6 2-.5 7-.6 2-.5 7-.6 2-.5 7-.6 2-2.6 22-6.5 36-3.2 13-5.2 17-6.3 17-7.2 14-9.1 13-10.1 13-11.1 12-12 10.9-10.1 8.1-18.1 12-20.8 11.4-19.4 8.6-15.6 6.2-22 6.9-8 1.3-2 .7-12 1.1-3 .9-5 .1-3 .9-5 .1-3 .9-23 0-11-2.9-11.7-5.2-4.3-4-8.3-12-6.1-15-2.6-5-2.9-4-5.1-5.2-3-1.7-10-2.3-8-.2-3-.7-8 0 0-180.6 13.4-2.3 20.6-8.2 39-12 21-8.3 17-8.3 10.4-6.2 8.1-6 19.5-17.3 25-20.8 12.1-10.9z"/><path fill="#141414" d="M183.6 -7l.5-1 147.6 0-1.5 16-.6 2-.5 8-.6 2-.4 8-.6 2-.4 7-.6 2-.4 8-.7 2-.4 8-.6 2-1.6 19-.7 2-.4 7-.7 2-.4 7-.7 2-.5 7-.6 2-2.5 21-6.6 36-3.2 13-7.2 23-5.2 13-6.3 12-9.1 13-10.7 13.6-11 11.8-12 10.9-17 12.9-18 10.9-17 8.9-16 7-15 5.9-22 6.9-10 2-13 1.3-2 .7-6 .3-2 .7-6 .2-3 .8-22 0-11-2.9-11-4.8-4.4-4.1-7.4-10-9.3-21-2.9-4.2-6-6.1-3-1.5-9-2.1-9-.4-3-.7-8 0 0-179.5 14.6-2.5 19.4-7.2 38-11.2 21-7.9 18-8.6 12-7.1 9.4-7 38.6-32.4z"/><path fill="#181818" d="M187.7 -8l143.6 0-1.5 16-.6 2-.4 8-.7 2-.4 8-.6 2-.4 7-.6 2-.4 8-.7 2-.4 8-.6 2-1.5 18-7.8 58-3.3 18-4.4 20-9.6 30-4.2 10-8.6 15-13.3 18-13.5 15-13.2 12-17.3 13-11.3 7.1-18 9.9-20.1 9-15.9 6.3-22 6.8-11 2.2-31 3.8-17 .2-4-.1-9-2-8.9-3.2-4.1-1.9-3-2.5-6.4-7.6-3.4-5-8.5-19-3.4-5-5.3-5.5-4-2.2-9-2.1-9-.5-3-.6-8 0 0-178.4 15.8-2.7 18.2-6.2 38.3-10.8 21.7-8 18-8.5 12.7-7.5 12.1-9 35.2-29.2 22.3-19.8z"/><path fill="#1c1c1c" d="M191 -7l.5-1 139.5 0-8.9 85-7.9 58-3.3 18-4.5 20-6.5 21-3.3 9-5.5 12-5 9-4.1 6-11.5 15-13.7 15-12.8 11.4-11.2 8.6-15.8 10-16.8 9-17.2 7.8-21 8.1-16 4.9-15 3.2-31 3.8-17 .8-13-1.6-14-4.2-4-2.5-8-9.3-10-20.9-3-4.4-6-6.3-4-2.1-9-2.1-12-1-8 0 0-177.3 17-2.9 18-5.5 36-9.6 22-7.7 19-8.8 13-7.4 13.9-10 30.7-25z"/><path fill="#202020" d="M194.8 -7l.6-1 135.3 0-8.9 85-8 58-3.4 18-4.6 20-6.7 21-3.4 9-5.7 11.9-9 14-11 13.7-13 13.4-13 11.3-14 10.2-16 9.7-18 9.2-18 7.7-18 6.6-16 4.6-15 2.9-29 3.5-17 .8-13-1.5-15-4.4-5-3-5-4.8-3-4.8-7.3-15-3.7-5.5-6-6.2-4-2.1-9-2-11-1-9-.1 0-176 18.4-3.1 52.6-13.6 21.7-7.4 19.3-8.7 14.9-8.3 15.7-11 27.1-22z"/><path fill="#242424" d="M198.7 -7l.5-1 131.2 0-9 85-8 58-3.4 18-4.9 20-3.4 11-6.7 18.3-5 9.7-12 16.8-12 14-12 11.7-13 10.7-13 9.1-16 9.4-18 8.9-18 7.5-17 6-16 4.4-15 2.8-29 3.3-17 .8-14-1.7-14-4.2-5-3.2-6-5.8-10.5-18.5-4.5-5.5-4-3.3-5-2.4-7-1.3-8-.8-12-.1 0-174.4 20-3.2 50.3-12 21.7-7 20.5-9 18-10 15.9-11 23.6-19.1z"/><path fill="#282828" d="M202.5 -7l.5-1 127.1 0-9 85-8.1 58-3.6 18-4.7 19-3.7 11.8-6 15.3-7 11.8-12 16.2-11 12.5-12 11.5-13 10.5-13 8.9-16 9.1-18 8.8-18 7.3-17 5.8-16 4.2-15 2.6-29 3.3-17 .7-14-1.8-9-2.3-5-1.8-5-3.3-6-5.8-11-17.6-3.2-3.7-3.8-3.2-5-2.2-7-1.3-8-.7-12-.1 0-172.1 21.9-3.4 48.1-10.5 22-6.8 21-9 19.7-10.7 14.8-10 22.5-18z"/><path fill="#2c2c2c" d="M206.9 -8l122.9 0-1.4 15-.8 3-.3 7-.7 3-.3 7-.8 3-.2 6-.8 3-.3 7-.7 3-.4 7-.7 3-.5 8-.7 3-2.7 25-4.8 33-4.7 24.4-5 19.6-7 18.9-7 12.9-11 15.4-13 15.1-13 12.4-16 12.7-17 10.8-22 11.3-23 9.4-21 6.8-21 4.7-30 3.6-17 1.2-12-.5-14-2.7-8-2.8-8-5.9-5-5.8-8.7-13.5-3.3-3.4-4-2.8-4-1.5-8-1.3-19-.6 0-169.9 29.9-4.5 40.1-8.1 23-6.9 21.3-9 21.7-11.7 15.1-10.3 21.9-17.5 38-32.3z"/><path fill="#303030" d="M210.6 -8l118.9 0-1.4 15-.7 3-.4 7-.7 3-.3 7-.8 3-.2 6-.8 3-.3 7-.7 3-.4 7-.7 3-.5 8-.7 3-.4 7-.8 3-1.6 15-.6 2-.6 7-3.7 24-4.7 24-5.5 20-7 17-7 12.2-12 16.4-12 13.6-14 12.9-16 12.2-16 9.9-22 11-22 9-20 6.3-21 4.6-30 3.7-18 1.2-12-.4-14-2.4-8-2.6-8-5.5-5-5.3-8.9-12.8-3.2-3-3.9-2.5-4-1.4-8-1.2-19-.6 0-167.6 39.5-5.7 31.6-6 22.9-6.6 21-8.8 22-11.7 16.2-10.9 18.8-14.7 33-27.5 11.2-9.8z"/><path fill="#343434" d="M213.6 -7l.5-1 115.1 0-10.2 94-.7 2-.5 7-4.8 32-5.1 25-4.9 16.1-8 18.9-7 11.6-12 16-12 13.3-14 12.7-16 12-16 9.6-21 10.4-22 8.8-19 5.9-21 4.6-30 3.7-18 1.3-12-.2-14-2.1-9-2.6-7-4.2-6-5.8-9-11.9-3-2.6-4-2.4-4-1.3-8-1.1-19-.5 0-165.4 44.7-5.8 26.3-4.6 23-6.3 21-8.6 23-11.9 17.3-11.6 17.7-13.5 31-25.5z"/><path fill="#383838" d="M217.5 -8l111.4 0-9.1 85-6 42-5.3 27-5.5 18-8 18.8-8 13.1-12 15.7-12 13.1-14 12.4-15 11-16 9.6-21 10.2-21 8.3-19 5.9-20 4.4-30 3.7-19 1.5-13-.1-14-1.9-9-2.3-7-3.9-6-5.2-8.2-10.3-3.8-3.1-4-2.2-4-1.1-8-1-19-.6 0-163.1 48-5.5 24-3.8 23-6.2 21-8.5 25.1-12.9 23.3-16 42.6-34.2 15-13.6z"/><path fill="#3c3c3c" d="M220.8 -8l107.8 0-.2 5-.7 2-.4 8-.8 3-.4 7-.8 3-.2 7-.7 2-.3 7-.7 2-.4 8-.7 2-.4 8-.7 2-1.8 19-6.1 42-4.3 21.2-6 19.3-8 18.6-9 14.6-13 16.7-12 12.6-13.9 12-13.9 10-15.2 9-20.8 10-20.3 8-19.5 6-18.4 4-22.5 3-26.5 2.4-14 .1-13.8-1.5-9.4-2-7.8-3.9-5-3.9-9.1-10.2-3.9-2.9-4-1.9-4-1.1-8-.9-19-.4 0-160.7 50.2-5.1 22.8-3.3 23-5.9 21-8.4 26.2-13.4 10.9-7 15.5-11 39.4-31.5 17.6-16.5z"/><path fill="#404040" d="M223.8 -7l.6-1 103.9 0-.2 5-.8 3-.3 7-.7 2-.5 8-.7 2-.4 8-.6 2-1.5 17-.6 2-.5 8-.7 2-.4 8-.8 3-1.7 16-3.8 26-5.1 24.3-6 19-8 18.3-9 14.5-14 17.7-12 12.2-13 10.9-14 9.9-15 8.7-20 9.5-20 7.8-18 5.5-19 4-18 2.6-31 3-15 .3-14-1.1-10-1.7-7-2.8-6-3.8-10-9.4-7-3.5-12-1.6-19-.4 0-157.7 16-1.8 41-3.2 16-2.1 23-5.6 21.7-8.5 26.3-13.1 12.5-7.9 15.8-11 35.7-28.2 9-8.1z"/><path fill="#444444" d="M227.7 -7l.5-1 99.8 0-9.3 84-5.4 35-4.3 18.6-6 18.9-8 17.9-10 15.6-14 17.2-11 11-13 10.7-14 9.8-14 8-19 8.9-19 7.5-17 5.3-18 4-18 2.8-31 3.1-17 .8-14-.5-12-1.4-8-2.5-6-3-10-7.7-7-2.8-12-1.4-19-.3 0-154.1 13-1.6 45.9-2.8 15.1-1.7 22.7-5.3 21.3-8.2 18-8.4 10-5.3 13-8.1 16.1-11 16.9-12.8 16-13z"/><path fill="#484848" d="M231.8 -7l.6-1 95.2 0-2.4 24-.8 3-.4 7-1.8 12-1.5 17-3.7 30-3 17.5-6 24.7-7 20.1-7 14.4-11 16.4-13 15.5-11 10.7-12 9.6-13 9-13 7.6-18 8.4-18 7.2-17 5.5-15 3.5-21 3.4-27 3-21 1.4-15-.1-14-1-8-1.6-7-2.7-10-5.9-7-2.2-12-1-19-.2 0-150.7 16-1.7 47-2.3 13-1.2 21-4.7 10-3.4 12-4.8 18-8.3 11-5.8 15-9.1 16-10.9 15-11.3 14-11.4 8-7.3 14-14z"/><path fill="#4c4c4c" d="M236.7 -8l90.5 0-1.3 14-.7 3-.5 7-3 22-.4 7-.7 3-.4 7-.8 3-.4 7.9-1.5 10.1-4.5 24.7-6 23.5-7 19.2-7 13.5-11 15.9-13 15.1-10 9.5-12 9.6-12 8.2-13 7.5-16 7.5-18 7.2-16 5.3-14 3.5-20 3.4-22 2.6-25 2.1-19 .6-16-.5-8-1-8-2-10-4.2-7-1.6-31-.8 0-147.2 17-1.7 51-1.8 10.5-1.1 11.5-2 10-2.6 11-3.8 12-4.9 16-7.2 13-6.8 15-9.2 16-10.8 15-11.4 12-10 20-19.7 13-10.5z"/><path fill="#505050" d="M241.9 -7l.5-1 84.2 0-1.2 14-.7 3-1.7 17-1.9 12-3.1 28.2-6 30.9-6 23.6-6 16.3-8 15-12 16.7-13 14.5-9 8.2-12 9.3-12 8-12 6.8-14 6.5-18 7.2-15 5-14 3.5-19 3.2-20 2.5-26 2.4-21 1.1-26-.5-9-1.2-11-2.7-7-.7-30-.4 0-143.6 19-1.8 51-1.4 15-1.6 11.4-2 8.6-2.3 12-4.2 17-6.9 13-5.9 13-6.9 15-9.2 15-10.3 21-16.8 21.7-21.5 13.3-10.3z"/><path fill="#545454" d="M282.7 -8l43.3 0-1.2 14-2.8 20.6-4.9 23.4-8.1 47.4-4 17.5-4 12.4-7 14.5-10 15-12 14.4-13 12.5-10 7.8-10.8 7.5-10.2 6.1-10 5.2-30 12.1-14 4.4-12 2.9-37 5.3-44 3.5-31 .8-26-1.3-32 0 0-140.1 19-1.6 53-1.2 20.4-2.1 8.6-1.5 9.7-2.5 35.3-11.5 20.5-8.5 24.8-13 20.7-13.2 20-15.1 50-29.2 6.9-4.5z"/><path fill="#585858" d="M320.2 0l1.9 0 .9 1.4 .3 2.6-.4 6-1.9 11.5-3.6 14.5-9.3 29-7.5 41-2.2 9-2.7 8-4 9-4.9 9-11.7 17-6.8 8-6.8 7-5.6 5-8.9 6.6-17.9 11.4-17.1 8.3-28.1 10.7-12.9 3.8-11 2.5-33.6 4.7-37.4 3.4-55 2.5-42 .7 0-134.5 19-1.6 53-.9 26-2.1 14-2.5 48-11.2 14.6-4.8 15.8-6 20.8-9 17.8-8.6 20-7.4 21.1-9 16.7-9 29.2-21.1 3-1.3 4-.9z"/><path fill="#5c5c5c" d="M315.2 16l1.8-.9 1 .5 .4 2.4-.5 6-2.6 11-3.8 11-11.5 29.5-9.5 33.5-7 18-9.8 18-10.9 15-7.8 8.1-15 10.7-18 10.3-22 9.4-24 8.3-21 5-34 5-36 3.4-53 2.6-40 .7 0-125.3 14-1.3 56-.8 32-1.6 41.5-6.5 19.2-4 17-5 13.7-5 37.6-16.5 23.2-8.5 28.8-11.6 20-9.3 10-2.8 3-2.2z"/><path fill="#606060" d="M311.9 27l1.1 .2 .3 .8-.2 4-4.1 13.8-20.9 50.2-8.2 21-7.7 16-8.6 14-7.6 9.5-9 6.9-14 9-18 9.2-27 10.7-21 6.5-21 4.4-33 4.8-32 3.1-51 2.7-38 .7 0-116.1 18-1.4 51-.5 35-.9 27.8-3.6 27.7-5 14.5-3.7 13.5-4.3 45.5-17.6 45-13.8 25-6.2 6-3.9 9-9.2z"/><path fill="#646464" d="M304.3 40l.7-.4 1.2 .4-.2 4-2.1 7-4.9 12.1-13.5 29.9-17.4 34-5.8 10-5.3 7.6-4 3.9-13 9-13 7.6-19 8.8-27 10.1-20 5.8-22 4.5-31.8 4.7-28.2 2.9-50 2.8-37 .8 0-106.9 9-1 11-.3 49-.3 19-.7 17 .3 23-2.6 29-4.6 14-3.1 13-3.6 49-16.6 43-10 17-1.9 7-4.1z"/><path fill="#686868" d="M296.1 51l1.9-.8 1 .5-.2 3.3-3.8 10.9-6 13.8-12.6 24.3-18.4 29.4-4 4.7-9 6.5-12 7.5-13 6.8-24 10-23 8-21 5.6-23.2 4.5-28.8 4.3-25 2.6-48 2.7-35 .9 0-97.7 9-.9 12-.4 67-.6 17 .6 21-2 25.9-3.5 15.1-2.7 13-3 30-9.4 20-5.5 45-7.3 9-.7 7-3.3z"/><path fill="#6c6c6c" d="M290.6 59l.7 0 .7 1-.7 4-3.3 9-5 11-12.5 23-11.5 16.5-6 5.9-12 8.2-14 8-13 6.1-23 8.9-25 7.9-21 5.1-28 4.9-23 3.2-21 2.1-47 2.8-34 .8 0-88.4 10.9-1 12.1-.2 64-.3 19 .8 20-1.6 25-2.9 27-4.7 31-8.7 17-3.8 11-1.6 27-2.3 8-1.5 10-3.2z"/><path fill="#707070" d="M281.5 67l2.5-.5 .5 .5-.1 2-7.1 19-10.3 19-5.2 8-4.8 6.1-9 7.5-15 9.7-14 7.3-16 6.8-20 7.1-24 6.8-16 3.3-24 3.5-25 3-22 1.8-47 2.3-33 .7 0-81.5 15-1.1 71-.2 20 1.1 18-1.1 25-2.4 27-3.8 32-8.1 11-2 11-1.4 21.8-1.4 9.2-1.5 12.5-3.5z"/><path fill="#747474" d="M271.3 75l2.2 0 .7 2-2.2 11.3-1.7 5.7-3.1 7-4 7-4.2 6.2-4 4.6-12 9.4-14 8.9-16 8-19 7.7-18 5.7-18 4.7-14 2.7-17 2.1-29 3-24 1.8-49 2.3-33 .7 0-76.1 13-.9 73 0 20 1.4 39-2.4 30-3.5 36-7.8 28-2.3 14-2.1 11-2.4z"/><path fill="#787878" d="M255.1 83l4.9-.7 2.2 .7 .6 2 .3 11-.3 4-1.6 5-2.8 5-3.4 4.4-12.9 10.6-13.9 9-19.8 10-17.7 7-29.7 8.2-11 2.2-11 1.5-64 4.9-51 2.2-32 .7 0-70.4 13-.8 72 .3 22 1.8 30-1.2 36-3.1 16-2.6 18-3.8 27-2.3z"/><path fill="#7c7c7c" d="M241.3 89l3.7-.4 3 .4 1.2 2-1.3 18-1.3 4-2.2 3-10.4 9-14.1 9-17.8 9-15.8 6-26.3 7-19 3.1-69 3.9-80 2.6 0-64.1 11-.4 69 1.1 9 .5 12 1.7 7 .4 35-.9 22-1.3 15-1.7 27-4.6 21-2.7z"/><path fill="#808080" d="M196 103l8-.4 2.2 .4 0 1-5 5-10.2 8.4-18.4 12.6-24.6 13.3-7 3-8.6 2.7-23 5-23.4 2.6-43.2 2.4-50.8 1.5 0-53.6 69 .5 18 .8 17 1.7 10 .1 50-2.3z"/><path fill="#838383" d="M-8 114l0-.9 36 .4 32-.5 38 2.2 40-.9 5 .7 .4 1-3.2 3-7.2 4.9-14.9 8.1-23.1 8.9-15 4.5-14 2.9-10 1.4-41 3.1-23 .8z"/><path fill="#878787" d="M50.9 119l10.1-.3 23 1.2 12 1 3.2 1.1-.4 1-2.7 2-11.5 6-11.6 4.7-12 3.6-36 3.9-22 1.5-11 .2 0-25.5 32 .2z"/><path fill="#8b8b8b" d="M48.8 125l12.2-.4 3.6 .4 2.1 1-.5 1-1.6 1-3.6 1.5-12 2.1-32 3.4-25 1.1 0-10.5 31 .2z"/></g></g></g>
<g id="fF" fill-rule="evenodd"><g filter="url(#b2)"><g><path fill="#040404" d="M102.4 -8l240.3 0-.3 4-1.1 2-2.6 8-1.2 8-5.8 26-5 46-.4 10-.6 3-.4 10-2.1 22-3 22-3 16-6.1 23-4 11-3.9 9-9.4 17-8.9 13-10 13-15.8 17-9.9 9-10.2 8.2-18 12-22 12.1-27 11.5-24 8-31 8-20 4-4 .3-7 1.7-10 1.3-2 .7-6 .3-3 .8-21 0-3-.7-7-.4-10-2-11-3.5-4-2.3-2.9-3-4.5-8-6.6-15.1-3-4.3 0-5.4 1.8 1.8 0 1 2 2-.1 1 1.1 1-.1 1 2.1 2 0 1 1 1-.1 2 1.1 1 0 1 .6 0-1.4-5.6-2-4-6-8.7 0-234.3 18.1-1.4 21.4-4 25.7-6 9.3-3 6.7-3 3.1-3 1.7-4 4-27 1.4-5 3.7-5 12.7-10 2.1-3zM-3 132.9l4 .7 5.6-.6-5.6-.6zM57 127.6l-.9 .4 1.8 0zM79 120.9l1 .6 1.1-.5-1.1-.5z"/><path fill="#080808" d="M108.8 -8l233.1 0-.4 4-1.3 2-2.5 7-1.4 9-5.6 25-5.1 46-3.7 46-3 22-4 20-3.3 13-2.9 9-7 17-8.9 16-11.8 17-7 9-9 10.1-16.8 15.9-17 13-11.2 7.2-22 12.1-26 11-24 8-31 8.1-32 6.2-10 1.3-2 .7-6 .3-2 .7-21 0-3-.8-6-.2-11-2.3-10-3-4-2.3-2.9-3-4-7-7.1-16 1-.4 1.5 1.4-.1 1 1.1 1-.3 2 1.3 1-.1 1 1.3 1-.3 1 .6 .5 .8-.5-2.8-8.6-2.7-5.4-4.3-6.3-1-.7 0-231.8 16.3-1.2 27-5 25-6 8.7-3 6-2.9 3.1-3.1 1.8-4 3.4-19 1.7-7.3 1.6-3.7 2.4-3 9-6.5 5.1-4.5 4.2-5zM-4 131.9l-3.4 1.1 2.7 1 4.7 .3 6.8-.3 3.1-1-3.9-1.1zM57 127l-1.6 1 1.6 1 1.6-1zM80 119.9l-1.9 1.1 0 1 1.9 .2 1.9-1.2-.1-1zM4 327.2l-.7 .8 .7 .5 .5-.5zM5 329.4l-.6 .6 .6 .5 .4-.5zM6 331.6l-.5 .4 .5 .4zM-8 306l0-.5 1.5 1.5-.2 1 2.1 2-.2 1 1.2 1-.4 2-1.6-3-2.4-3z"/><path fill="#0c0c0c" d="M114.9 -7l.2-1 226.3 0-.5 4-1.4 2-2.5 7-1.4 9-2.7 10-3 15-1.4 14-.6 2-.4 7-.6 2-1.4 19-.6 2-.5 11-.6 2-.4 11-.6 2-1.6 20-4.1 28-4 18-6 20-8.1 18.4-9 15.3-13 18.1-13 15.1-16 15.1-10 8.1-18 12-22 12.1-26 11.1-25 8.4-31 8-3 .2-6 1.7-9 1.3-2 .8-4 .2-7 1.8-10 1.2-2 .8-6 .2-2 .7-21 .1-2-.8-7-.3-2-.8-8-1.2-5-1.8-3-.5-2-1.3-1 .2-.4-1.2-1.6 .2 0-1.3-1 .6-3-2.8-.4-.7 .9-1-.5-.5-1 .5-1.3-2 1-1-.7-.9-1 .7-.4-.8 1.2-1-5.9-17-5.2-9-1.5-2-1.2-.6 0-167.3 8 .8 10-.9 2.3-1-2.3-1-10-.9-8 .8 0-60.7 16.2-1.2 27.3-5 25.1-6 8.8-3 6.3-3 3.3-3 1.6-3 4.2-19 3.2-8 2-2.2 9-6.3 6-5.3 7.3-8.2zM56 126.8l-1.2 1.2 1.2 1.2 2-.1 1.1-1.1-1.1-1.2zM79 119.8l-1.5 1.2-.2 1 .7 .5 2 0 2.5-1.5 .1-1-.6-.4zM-7.7 307l.9 0-.2 .7zM-2.5 315l.7 0-.2 1zM-1.5 317l.7 0-.2 1.1zM-.3 320l.4 0-.1 .7zM.6 322l.6 0-.2 .8zM1.6 324l.8 0-.4 1.5zM2.3 326l1.4 0-.7 1.7zM3.6 329l1.1 0-.7 .8z"/><path fill="#101010" d="M120.5 -8l220.4 0-.5 4-1.4 2-2.5 7-7 34-3.1 25-.5 9-1.5 12-.5 11-.6 2-.4 11-.7 2-.4 11-.6 1-1.5 16-.6 1-.4 6-.7 1-.3 6-.7 1-1.3 10-.8 1-.2 4-.8 1-.2 3-.8 1-.2 3-.8 1-1.3 7-1.7 4-.2 2-.8 1-.2 2-.8 1-.3 2-1.7 3-.2 2-3.8 7-.2 2-2 4-1.8 2-2.2 5-1.8 2-1.2 3-3.8 5-.1 1-2.8 3-2.2 4-5.8 7-.2 1-3.8 4-.2 1-8.8 9-.2 1-2.9 3-13.9 12.9-1 .2-4 3.8-1 .2-4 3.8-4 2.2-3 2.8-3 1.3-8 5.7-5 2.3-2 1.7-9 4.3-4 2.7-4 1.3-9 4.7-2 .3-3 1.7-7 2.3-3 1.7-5 1.3-3 1.7-2 .2-4 1.8-3 .4-7 2.6-6 1.3-1 .7-3 .3-1 .7-3 .3-1 .7-7 1.4-1 .6-3 .3-1 .7-3 .3-1 .7-8 1.3-1 .7-4 .2-2 .9-4 .3-1 .6-10 1.4-1 .6-11 1.4-1 .6-7 .4-1 .6-21 0-1-.6-8-.4-1-.7-9-1.4-1-.8-2-.1-1-.9-3-.3-1-.9-2-.2-3-2.1-1 .1-1.4-1.6-3.9-8-6.2-18-5.4-9-2.1-1.3 0-166 7 .6 5.4-.3 8.1-1 1.9-1-1.7-1-7.8-1-4.9-.3-8 .6 0-59.4 21.7-1.9 20.9-4 25.5-6 9.1-3 6.7-3 3.6-3 1.9-3 4.6-17 2-4.3 3-3.2 11-7.5 8.3-8 7.7-9.2 1.9-3.8zM55 126.9l-.6 1.1 .5 1 1.1 .4 2 0 1-.4 .6-1-.5-1-1.1-.5zM81 119l-3 1-1.1 1 .1 1.6 2 .5 3-1.1 1.2-2z"/><path fill="#141414" d="M124.8 -8l215.7 0-.2 3-1.8 3-2.2 6-1.6 10-.7 1-.2 3-.8 1-.2 3-.7 1-1.4 9-.7 1-.2 4-.7 1-.4 6-.7 1.8-.3 7.2-.7 1-.3 8-.7 1-1.3 20-.7 1-1.4 25-.7 1-.4 12-.7 1-1.4 16-.7 1-.3 6-.7 1-.4 6-.6 1-1.4 10-.7 1-.3 4-.7 1-.3 3-.7 1-.3 3-.7 1-1.4 7-2.7 7-.2 2-.8 1-.3 2-1.7 3-.2 2-3.7 7-.4 2-1.9 4-1.8 2-2.2 5-1.8 2-1.2 3-3.8 5-.2 1-2.7 3-2.2 4-5.8 7-.2 1-3.8 4-.2 1-8.8 9-.2 1-3 3-3.4 3.4-1 .2-9 8.8-1 .2-4 3.9-1 .1-4 3.9-1 .1-2 1.9-1 .1-3 2.9-3 1.2-5 3.8-1 .1-4 2.9-3 1.2-2 1.8-9 4.2-4 2.8-2 1-2 .2-9 4.8-2 .2-3 1.8-2 .2-1 .9-1 0-1 .9-2 .2-3 1.8-5 1.2-3 1.8-5 1.1-1 .9-3 .2-1 .9-2 .1-1 .8-2 .2-1 .8-3 .2-1 .8-2 .2-1 .8-7 1.2-1 .8-3 .2-1 .8-3 .2-1 .8-3 .2-1 .8-3 .2-1 .8-4 .2-1 .8-3 .2-1 .8-5 .2-1 .8-4 .2-1 .8-5 .2-1 .8-4 .2-1 .8-5 .2-1 .8-5 .2-1 .8-7 .2-1 .8-21 0-1-.8-8-.2-1-.8-4-.2-1-.8-4-.3-1-.8-2-.2-1-.8-3-.3-1-.9-2-.2-2-1.1-3-2.9-5-10.2-5-15.3-5.1-8.7-.9-1.1-2-.9 0-164.8 8 .5 8-.7 6.6-1 1.7-1-1.4-1-5.9-1-9-.8-8 .6 0-58.3 19.2-1.5 26.7-5 24.1-5.8 9.3-3.2 5.7-2.7 2.9-2.3 2.2-3 4.9-14 2-3.2 14.2-9.8 11.8-11.2 4-5 3-4.9 2.1-4.9zM55 126.6l-1.1 1.4 .5 1 1.6 .7 3-.4 1-1.3-.4-1-1.6-.8zM80 118.9l-3.5 2.1-.4 1 .5 1 3.4 .2 3.4-2.2 .3-1-.7-1z"/><path fill="#181818" d="M128.8 -8l211.3 0-.2 3-1.9 3-1.4 5-.7 1-1.4 10-.8 1-.2 3-.7 1-.3 3-.7 1-1.3 9-.7 1-.3 4-.7 1-.3 6-.7 1-.4 8-.6 1-.4 8-.6 1-1.4 20-.7 1-1.4 25-.7 1-.5 12-.6 1-1.4 16-.7 1-.4 6-.6 1-.4 6-.6 1-1.5 10-.6 1-.5 4-4.1 16-6 17-5 11-4.9 9-11.9 18-5.7 7-.3 1-3.7 4-.4 1-11.8 13-13 12-1 .2-4 3.8-1 .2-4 3.8-4 2.2-3 2.8-3 1.3-5 3.8-1 .1-4 2.9-3 1.2-2 1.8-9 4.2-4 2.8-2 1-2 .2-9 4.8-2 .2-3 1.8-2 .2-1 .9-2 .9-2 .2-3 1.8-5 1.2-3 1.8-5 1.1-1 .9-3 .2-1 .9-2 .1-1 .8-2 .2-1 .8-3 .2-1 .8-2 .2-1 .8-7 1.2-1 .8-3 .2-1 .8-3 .2-1 .8-3 .2-1 .8-3 .2-1 .8-4 .2-1 .8-3 .2-1 .8-5 .2-1 .8-4 .2-1 .8-5 .2-1 .8-4 .2-1 .8-5 .2-1 .8-5 .2-1 .8-7 .2-1 .8-21 0-1-.8-8-.2-1-.8-4-.2-1-.8-4-.3-1-.8-2-.2-1-.8-3-.4-3-1.4-4.5-3.4-2.4-4-2.6-6-6.1-18-4.4-7.2-3-1.9 0-163.2 8 .4 10-.9 6.6-1.2 1.5-1-1.2-1-6.9-1.2-10-1-8 .5 0-57.2 20-1.7 24.1-4.4 25.5-6 10.4-3.5 5.3-2.5 2.9-2 2.7-3 4.1-8.9 2-2.9 17-11.4 7-6.1 6-6.4 3.7-5.3 3.1-6 2.2-6zM56 125.9l-2.1 1.1-.4 1 .5 1.1 3 1 3-1.1 .4-1-.4-1.1-2-1zM79 118.9l-3 2.1-.4 1 .4 1.1 2 .6 3-.5 2-1.2 1.2-2-1.2-1.4z"/><path fill="#1c1c1c" d="M132.8 -8l207 0-.3 3-1.5 2.1-1.6 5.9-.7 1-1.5 10-1.7 5-.2 3-.7 1-1.4 9-.7 1-.3 4-.6 1-1.4 15-.7 1-.3 8-.6 1-.5 10-.6 1-.4 9-.6 1-.5 12-.6 1-.5 12-.5 1-.6 11-.6 2-1.4 15-4.2 25-6.1 24-5 14-5 11-5 9-7.6 12-15 20-13.9 14.9-10 9.1-10 8-18 12.1-18 10-16 7.5-29 11-17 5-20 5-24 5-4 .3-2 .7-15 2.3-2 .7-6 .3-2 .6-10 .2-9-.2-2-.6-7-.4-10-2-7-2.1-3-1.2-4-2.5-3-4.1-3.8-8.6-5.2-17.1-4.9-7.9-3.1-2.3 0-160.6 8 .4 12-1.2 6.5-1.3 1.5-1-1.1-1-6.9-1.4-12-1.2-8 .4 0-56.2 19.9-1.6 27.1-5 23-5.4 10-3.4 6-2.7 4.8-3.5 6.2-7.7 11-6.3 7-4.7 7.7-6.3 5.9-6 5.1-7 3.6-7 2.5-8zM55 125.9l-1.6 1.1-.3 1 .9 1.4 3 .9 2-.4 1.4-.9 .4-1-.3-1-1.2-1-2.3-.5zM79 118.7l-3.5 2.3-.3 2 .8 .7 2 .4 3-.7 2.4-1.4 1.3-2-.4-1-1.3-.7z"/><path fill="#202020" d="M136.8 -8l202.7 0-.3 3-1.5 2-1.5 6-.7 1-.6 5-.6 1-2.3 12-.7 1-2.3 14-.6 1-1.6 15-.5 1-.5 8-.5 1-4.8 58-2.1 17-5.3 30-6.1 22-4 11-4.1 9-9 16-15.7 22-13.1 15-14.1 13.2-11 8.7-18 12-18 10-15 7-15 6-24 8-31 8-31 6-10 1.3-2 .7-6 .3-2 .6-18 .1-15-2-12-3.3-3-1.2-3.7-2.4-2.9-4-5.4-13-4-15.2-4.9-7.8-3.1-2 0-157.4 8 .3 13-1.4 7-1.4 1.8-1.1-1.8-1.3-6-1.2-14-1.6-8 .4 0-55.2 12-.7 11-1.3 29-5.6 20-4.9 10-3.4 6-2.8 8-5.7 13.1-6.7 8-5 8.8-7 8-8 5.7-7 3-6 1.4-7zM55 125.6l-2 1.3-.4 1.1 1.4 1.8 4 .7 2.8-1.5 .2-2-1.1-1-1.9-.7zM81 118l-4.9 2-1.6 2 .5 1.6 2 .8 2-.1 3-1 1.9-1.3 1.2-2-.2-1-1.8-1z"/><path fill="#242424" d="M140.6 -8l198.6 0-.4 3-1.5 2-2.1 7-.4 4-6.6 30-5.2 46-2.9 37-4.2 31-4.2 20-6.2 21-7.2 17-9.1 16-15.2 21.2-13 14.9-14.9 13.9-10 8-18.1 12.1-18 10-15 7-29 11-17 4.9-20 5.1-24 4.9-24 4.2-8 .9-9 .1-8-.1-10-1.1-9.7-2-6.4-2-6.2-3-3.7-4.3-3-6.2-3-8.5-4-17.4-4.3-6.6-1.7-1.6-2-.9 0-153.4 8 .3 15-1.9 7-1.4 1.7-1.1-1.7-1.4-6-1.2-13-1.3-3-.8-8 .4 0-51.3 8.2-.4-8.2-.2 0-2.2 13-.8 13.5-1.8 24.5-4.7 17-3.9 18-6 25.5-12.4 8-5 7.7-6 9.7-9 6.1-7 3-5.3 1.7-5.7zM57 125l-3.6 1-1 1 .1 2 1.5 1.2 3 .6 2-.3 2.2-1.5 .3-2-.9-1zM80 117.9l-2.9 1.1-2.5 2-.7 2 .7 1 2.4 .7 3-.4 3-1.3 2.2-2 .2-2-1.2-1z"/><path fill="#282828" d="M144.1 -8l194.8 0-.4 3-1.5 2-2 7-7.1 34-5.1 46-3 37-4.4 31-4.2 20-6.3 21-7.4 17-9.2 16-15.1 21-13.2 15-14 13-10 8-18.1 12-18 10-19.9 9-24.2 9-33.8 9.3-28 5.9-23 3.9-8 1-9 .1-8-.1-9-1-10-2-6.8-2.1-6.2-3.4-3-3.4-2-3.4-3-7.1-3-10.1-2-9.9-1-8.9-4-6.3-2-2.1-2-1 0-144.7 8 .3 4-1 13-1.4 6-1.2 2.7-1.4-.5-1-1.2-.5-5-1.1-14-1.5-5-1.3-8 .4 0-50.1 8-.3 1.2-.6-9.2-.5 0-1.5 13-.8 14-1.8 40-8 19-6 18-7.3 8.3-4.1 8.2-5 8-6 10.1-9 5.4-6 4-6.9 2.6-7.1 1.2-6zM55 124.9l-2 .9-1.1 1.2 .1 2 1.1 1 1.9 .8 3 .1 2-.6 1.7-1.3 .2-2-.9-1.1-3-1.2zM79 117.9l-2.4 1.1-2.5 2-.8 2 .4 1 3.3 1 4-.7 3.8-2.3 1.2-2-.1-1-1.9-1.4z"/><path fill="#2c2c2c" d="M147.6 -8l191 0-.4 3-1.2 1-2.2 8-7.1 34-5.2 46-3.1 37-4.2 30-4.2 20-5.7 19-4.3 11-4 8.4-6 10.7-12.9 18.9-14.1 16.8-13.4 13.2-14.6 12-14.9 10-19.4 11-19.5 9-23.9 9-24.1 7-29.8 7-29.4 5.3-17 1.8-10-.1-10-.9-8-1.4-7-2-5-2.1-4-2.7-3-3.3-3-5.5-3-8.3-2.8-12.8-2.2-26.1-4-6.5-2-1.9-2-.9 0-128.1 8 .2 4-1.3 19.1-2.4 3.4-1 1.4-1-.2-1-2.7-1.1-21-2.6-4-1.7-8 .5 0-48.6 8-.4 2.4-1.1-2.4-.5-8-.2 0-.9 13-.7 13-1.6 40-7.8 16-4.5 14-4.8 10-3.9 8.4-4.1 8.2-5 8-6 9.3-8 5.1-5.7 4.3-7.3 3.7-9 2-8zM285 2.8l-.3 .2 1.3 .4 1.2-.4zM54 124.9l-2.7 2.1 .1 2 1.6 1.4 2 .7 3 .1 2-.6 2.1-1.6 .4-2-1.5-1.7-3-.9zM79 117.7l-3 1.3-2.5 2-.9 2 .4 1.1 3 1.3 5-.8 4-2.3 1.5-2.3-.8-2-1.7-.7z"/><path fill="#303030" d="M151 -8l187.3 0-.4 3-1.1 1-2.3 8-7.1 34-5.2 46-3.1 36-4.4 31-4.3 20-3.4 12.2-3 8.4-7 15.6-9 15.1-12 16.6-14 16.1-13.7 13-14.3 11.3-16.5 10.7-18.2 10-20.2 9-23.1 8.5-29 8.1-27 6-28 4.9-16 1.4-10-.2-9-.8-8-1.5-7-2.1-5-2.3-4-3-3-3.9-3-6.5-2-6.7-2-10.9-3-40.1-4-5.6-2-1.7-2-.8 0-112 8 .1 1-.9 3-1.1 20-2.6 4.8-1.3 1.6-1 .1-1-1.8-1-4.6-1-19.1-2-3-1-2-2.3-8 .7 0-46.4 8-.3 3.7-1.7-3.7-.7-8-.4 13-.8 14-1.7 41-7.8 29.8-8.6 9.2-3.5 9-4.3 8-4.8 8.9-6.4 8.1-6.8 4.7-5.2 4.3-7 4.4-10 3.4-10zM285 1.9l-1.3 1.1 1.2 1 2.1 0 1.2-1-1.1-1zM53 124.8l-1.8 1.2-.8 2 1.3 2 2.3 1.1 3 .4 3-.6 1.7-.9 1.4-2-.5-2-2.6-1.6-4-.3zM81 117l-4 1.2-3 1.8-1.8 2-.2 2 2 1.5 3 .2 4-.8 3.6-1.9 2.3-3-.5-2-2.4-1.1z"/><path fill="#343434" d="M154.4 -8l183.6 0-.2 3-1.1 1-2.5 8-7.1 34-5.2 46-3.2 36-4.5 31-4.2 19.2-6 18.8-7 15.2-9 14.9-13 17.8-14 15.8-14 13-14 10.9-16 10.3-18 9.8-24 10.5-24 8.3-35 9.3-31.3 6.2-19.7 3-15 .6-16-1.4-7-1.5-6-1.9-5-2.5-3-2.3-3-4.1-2.2-4.9-1.9-7-1.9-12-4-46.6-4-4.6-4-2 0-101.6 8-.2 1.1-2 2.9-1.5 23-3.3 4.3-1.2 1.9-1 .6-1-1-1-4.8-1.2-19.1-1.8-4.9-1-2.5-2-1.5-3.4-8 .7 0-42.7 8-.3 5.2-2.3-5.7-1 26.5-3.2 38-7.3 28-7.6 10-3.8 9-4.4 7.8-4.7 9.8-7 6.1-5 3.6-4 4.3-7 4.8-10 5.6-14zM284 1.8l-1.1 1.2 .8 1 1.3 .4 3-.3 1-1.1-.8-1-1.2-.4zM54 124l-2.5 1-2 2 .3 2 2.7 2 3.5 .8 3-.3 3.3-1.5 1.5-2-.3-2-2.5-1.8-3-.6zM80 116.9l-4 1.4-3.8 2.7-1.3 2 .6 2 3.5 1.2 5-.6 4-1.8 3-2.8 .5-2-1.5-1.8-3-.6z"/><path fill="#383838" d="M158 -8l179.8 0-.2 3-1.1 1-2.5 8-7.2 34-3.1 25-5.4 57-3.3 23.4-5 23.7-3 10.2-4 10.8-8 16.3-10 15.6-13 17-13 14.1-13 11.9-14.3 11-16.7 10.5-18 9.7-25.4 10.8-23.6 7.9-34 8.8-33 6.5-18 2.6-15 .4-16-1.6-12-3.4-4-2.1-3-2.5-2-2.8-2-4.8-3.2-16-5.8-55-4-4.2-4-1.7 0-91.4 8-.6 1.8-4.1 2.7-2 26.4-4 5.7-2 2-2-.7-1-2.9-.7-28-2.3-2.6-1-1.4-1.2-3-7-8 .6 0-38.1 8-.3 7-3-1.7-1 14.7-1.7 27-4.5 34-7.3 17-5.1 14.7-6.4 18.3-11.7 5-4.1 3-3.4 3.9-5.8 4.7-9 9.1-20zM283 1.9l-.7 1.1 .6 1 2.1 .7 3-.3 1.6-1.4-.6-1-2-.8zM52 124l-3.6 2-1.1 2 1.9 2 3.8 1.6 4 .5 4-.9 3-2.2 .9-2-.7-2-3.2-1.5-5-.4zM79 116.9l-4 1.6-3.7 2.5-1.7 2-.1 2 3.5 1.5 6-.3 5-1.9 3.6-3.3 .5-2-1.6-2-3.5-.7z"/><path fill="#3c3c3c" d="M162.3 -8l175.4 0-.3 3-1 1-2.7 8-7.1 34-3.2 25-5.4 55.6-4 26.4-5 21.7-6 17.4-8 16.3-10 15.6-13 17-13 14.3-13 11.9-14 10.8-15.7 10-18.4 10-22.9 10-23 8-33.4 9-34.2 7-19 3-15.4 .7-17-1.4-6.1-1.3-5.8-2-3.8-2-2.4-2-2-3-1.9-4.7-2-8-2-11.7-7-55.9-4-3.8-4-1.5 0-80.7 8-1 3-7.3 1.5-1.4 2.5-1 24-3.3 15-4.4 3-.1 6 1.2 4-.2 3.3-1.2 5.7-4.2 8 .3 7-1.8 4.6-3.3 1.1-3-1.7-2.2-2-.7-3-.1-6 1.6-8 4.8-2 .6-11-.5-12 2.8-14 2-14-.1-7.7-1.2-2.3-1.4-2-2.6-3-8.4-8 .4 0-32.9 8-.3 3-1.9 6.1-1.9 1-1 37.9-5.6 36-7.2 17-5 14-6.1 17-10.3 4.7-3.8 3.3-3.6 8.3-13.4 12.5-24zM285 .9l-2.8 1.1-.5 1 .5 1 1.8 .8 3 .2 2.6-1 .5-1-.4-1-1.7-.9z"/><path fill="#404040" d="M167.7 -8l169.8 0-.2 3-1.1 1-2.8 8-7.1 34-3.2 25-4.3 44-4.8 33.1-5 21.5-3 9.5-4 10.1-8 15.5-10 15.3-13 16.8-13 14.2-12 11-14.2 11-15.7 10-18.4 10-20.4 9-22.1 8-28.7 8-26.4 6-26.8 5-17.3 1.8-10 0-9-.8-6-1-5.9-2-4.1-2.4-3-3-3-4.7-2-4.6-3-10.5-2-10.6-8-54.9-4-3.3-4-1.3 0-69.6 8-1.1 3-8.9 2-2.8 2-1.3 3.5-1 21.5-2.8 16-3.6 8 .3 4-.5 8-3.9 9-.9 6-1.8 5-3.3 1.1-1.5 .4-2-1.1-2-1.4-.8-5-.5-4 .8-9 3.9-3 .7-11 .5-31 4.4-10 0-5-1-3-1.9-2-2.6-2-4.4-2-7-8 .4 0-27.3 8-.3 4.3-2.9 10.4-3 43.3-6.4 29-5.7 16.9-4.9 13.8-6 16.3-9.3 4-3.3 3-3.2 5.7-8.2 18.9-31 1.4-3zM284 .8l-2 .8-.9 1.4 .5 1 1.8 1 4.6 .1 2.2-1.1 .5-1-.4-1-1.6-1z"/><path fill="#444444" d="M173.4 -8l164 0-.3 3-1.1 1-2.6 7-7.2 34-3.4 26-4.8 45.5-4 25.8-5 20.8-3 8.9-4 9.6-8 14.9-11 16.2-12 15.2-13 14-13 11.8-13 9.9-15 9.5-17 9.4-19 8.6-22 8.2-25 7.3-28 6.8-31 6-16 2.1-18 0-7-.9-5.4-1.6-4.6-2.8-4-3.8-3-4.2-3-6.3-2.5-7.9-2.2-10-6.3-34.2-3-21-4-3.1-4-1.1 0-57.9 8-1.2 2-7.6 2-4.6 2.5-3.3 2.5-1.5 6-1.4 19-2.5 15-2.9 12-1.1 7-2.8 9-1.6 6-1.8 5.6-3.4 1.5-2 .4-2-1.1-2-1.4-.9-5-.9-5 .9-11 3.4-14 1.1-31 3.8-6 0-5-.8-3.1-1.6-2.9-3.2-2.6-5.8-2.4-8.5-8 .5 0-21.2 8-.3 2.1-2.5 2.9-1.6 13-3.2 43-6.1 31-5.8 17-5.2 15.8-7.1 11.2-6.3 4-3.4 3.8-4.3 25.2-36 3.4-6zM283 .7l-2 1.2-.5 1.1 .5 1 2 1.2 5 .2 2-.8 1.2-1.6-1.2-1.7-2-.8z"/><path fill="#484848" d="M178.9 -7l.1-1 158.2 0-.2 2.7-1.3 1.3-2.9 8-7 33-7.8 65.4-4 25.2-5 19.4-7 17.3-8 14.2-12 17.3-12 15-13 13.8-13 11.6-13 9.8-15 9.4-17 9.3-19 8.5-21 7.8-25 7.2-28 6.9-31 6.2-16 2.2-10 .5-9-.3-7-.9-4-1.4-4-2.8-4-4.3-3-4.4-3-6.3-3-9.3-7-28.9-3.4-20.4-1.6-14.9-3-2.1-5-1 0-43.9 8-1.3 2.7-9.8 2.1-5 3.2-3.9 3-1.9 4.3-1.2 43.7-6.4 10-2.9 10-2.3 5-1.7 5-2.7 2.8-3 .1-2-1.2-2-1.7-1.2-3-.8-3-.2-4 .6-10 2.6-42 4.1-9 .4-6-1-4-2.4-2.9-4.1-3.1-7.8-2-7.4-8 .5 0-12.7 8-.4 .9-3.2 1.4-2 2.7-1.8 3.4-1.2 14.6-2.8 40-5.4 30-5.1 18-5.2 21-9.1 6-3.6 5.4-4.8 23-28 8.6-12.5 2.7-5.5zM286 0l-4.6 1-1.1 1 .1 2 2.6 1.5 3 .4 3-.5 2.3-1.4 .1-2-1.1-1z"/><path fill="#4c4c4c" d="M185.2 -8l151.9 0-.2 2-1.5 2-2.7 7-6.3 29-2.1 13-6.3 51.6-4 23.6-5 17.9-7 16.5-9 15.4-12 16.9-12 14.6-13 13.8-12 10.6-13 9.8-15 9.4-16 8.7-19 8.7-21 7.8-23 6.8-29 7.3-32 6.7-16 2.4-19 .6-7-.7-4-1.3-3-2-3-3-5-7.2-3-6.3-7-19-3-12-3-15.9-3-28.6-3-1-5-.4 0-29.2 8-1.3 3-10.7 2.7-6.5 3.1-4 4.2-2.7 9-2.2 37-5.7 19-4.8 6-1.9 5.9-2.7 4.1-3 .8-2-1.1-2-2.5-2-3.2-1.3-4-.4-14 2.4-42 3.5-9 .1-6-1.2-3-1.7-3-3.4-3-5.9-2-5.6-1.6-8.5 .6-5.9 1.2-4.1 1.6-2 2.2-1.3 9-2.4 64-8.6 20-3.7 15-4.3 21-8.5 5.3-3.2 5.8-5 24.8-26 4.5-6 4.2-7 4.3-9zM284 -.2l-3 1-1.4 1.2 .1 2 1.2 1 3.1 1 3 .1 3-.7 1.9-1.4 .1-2-2-1.6-3-.7z"/><path fill="#505050" d="M193.9 -8l142.9 0-.3 2-1.4 2-2.7 7-5.7 25-2.6 16-6.1 46.4-4 21.8-3 11-3 8.5-8 16.8-9 14.3-13 17.6-12 14.1-12 12.3-12 10.4-12 8.8-16 10-16 8.5-19 8.5-20 7.3-25 7.3-28 7-31 6.6-16 2.4-19 .7-6-.5-4-1.4-4-3.4-4-5.4-7-11.7-4.3-9.9-3.7-12.8-3-14.5-4-35.9-8-.5 0-15.8 8-1.5 3-11.1 3-7.5 3-4.6 5-3.7 7-2.3 38-6.5 20-5 9.8-3.3 6.3-3 3.9-3 .4-2-2.6-2-5-2-6.8-1.3-13 1.5-42 2.9-9-.1-6-1.3-4-2.3-3-3.4-3-5.3-2-4.9-1.1-3.8-.2-4 .9-6 1.2-3 2-2 1.9-1 7.5-2 65.8-8.2 19-3.2 15-4 22-7.9 6.3-3.7 6.6-5 16.7-14 8.4-8.2 4-4.9 4.3-6.9 8.5-15zM282 -.1l-2.2 1.1-1.1 2 1.3 2 2 .9 3 .6 4-.4 2.4-1.1 1.4-2-1-2-2.8-1.3-4-.4z"/><path fill="#545454" d="M203.4 -8l133 0-.2 2-1.5 2-3 8-5.3 23-8.4 57.4-4 19.9-3 10.2-4 10.4-9 17.2-10 14.8-12 15.7-12.5 14.4-11.5 11.4-12 10.1-12 8.6-15 9.1-16 8.5-18 8-20 7.3-26 7.6-28 7-31 6.7-16 2.5-10 .7-10 0-5-.5-3-1.3-3-2.5-5-5.7-7-10.4-5-11.9-4-15.1-1.4-8.1-4.4-40 .4-5 1.2-6 4.2-11.2 2.7-4.8 2.3-2.8 3-2.4 3.6-1.8 11.2-3 34.2-6.5 20-5.2 9.4-3.3 6.6-3 4.4-3 1.4-2-.1-1-1.7-1.6-3-1-14-2.5-52 2.7-10-.3-6-1.2-4-1.8-3-2.4-3-3.6-3-5.4-1.4-3.9-.4-3 .7-5 1.3-4 1.6-2 3.2-1.7 10-2.2 62-6.9 21-3.3 25.7-6.9 12.3-4.4 10.3-5.6 12.6-8 9.7-7 6.4-5.5 7.5-9.5 9.3-14 4.6-9zM285 -1l-3 .4-3 1.6-.8 1 .1 2 2.8 2 4.9 .8 4-.7 3.1-2.1 .2-2-1.3-1.4-3-1.3z"/><path fill="#585858" d="M213.8 -8l122.3 0-.3 2-1.5 2-2.9 7-4.1 17-2.8 15-6.5 43.2-4 18.5-4 12.3-4 9.4-5 9.5-7 11.1-11 15.2-11 13.6-12 13.3-11 10.5-12 9.7-12 8.2-15 8.9-16 8.3-18 7.7-19 6.8-29 8.3-27 6.7-29 6.3-16 2.5-11 .8-9 0-4-.6-3-1.4-7-6.9-6.7-9.9-4.3-9.7-3.8-13.3-5.8-45 .4-5 1.1-5 4.1-9.9 3-4.7 3-3.3 3-2.3 4-2 9-2.8 39-8.4 20-5.7 10.5-3.9 6.3-3 4.1-3 1.3-2 .1-1-1.9-2-2.8-1-16.6-2.2-51 .9-10-.6-7-1.4-4-1.5-4-2.5-4-4-2.4-3.7-1.2-3-.2-3 .8-4 1.9-4 2.1-1.9 2.3-1.1 9.3-2 63.4-6.5 21-3.1 32-7.7 20-7.2 21-11 5-4.1 7-7.4 26.8-33-.1-2-2.7-2.2zM282 -1l-3 1.1-1.7 1.9 .1 2 2.6 2.1 4 1 4-.2 3.2-.9 2.5-2 .2-2-.9-1.3-2-1.3-4-.9z"/><path fill="#5c5c5c" d="M243.4 -8l92.3 0-.4 2-4.1 8-3.7 14-3 15-7.5 46.1-3 12.2-3 9.2-5 11.8-7 12.6-10 14.6-13 16.9-11 12.7-10 10.4-9 8.2-11 8.6-12 8.1-15 8.7-14 7.2-15 6.6-20 7.4-25 7.4-26 6.8-36 8.2-16 2.6-15 1.1-8-.3-5-2.4-6-6.3-6-8.9-4-8.4-2.9-9.1-6.3-44 1.2-8.4 4-9 3-4.2 4-3.9 8-4.8 11.5-3.7 39.5-9.6 19-5.8 11.7-4.6 5.9-3 3.8-3 1.4-3-.8-1.8-1.8-1.2-8.2-1.8-18-1.4-43-.8-12-1.2-10-2-8-3.5-3-2.4-2.2-2.9-.8-2 .1-3 2.9-5.9 2.5-2.1 2.3-1 10-2 70.2-6.5 55-9.1 9.6-2.4 14.4-5.4 7-3.7 8.4-6.9 30.7-31 25.1-17 1.6-2 .1-1-.9-1.5zM286 -2l-5 .5-3 1.3-1.9 2.2 .2 2 2.7 2.3 5 1.2 5-.3 4.7-2.2 .8-1 .2-2-1.5-2-3.2-1.5z"/><path fill="#606060" d="M258 -7l.1-1 77.1 0-.2 1.3-4.3 7.7-2.4 8-3.8 18-7.5 43.7-4 14.6-4 10.5-6 12.2-9 14.1-15 20.1-15 17.6-9 9.3-9 8.2-10 7.9-11 7.6-14 8.4-14 7.4-13 6-15 6-19 6.4-30 8.5-53 12.4-15 2.3-15 .9-6-.9-4-2.6-5-5.7-5-7.3-3.8-7.6-1.6-5-2.9-22-3.2-14-1-7 .2-4 1-4 3.6-7 2.7-3.5 4-3.6 4.3-2.9 5.7-2.8 14.7-5.2 44.3-12.4 18.9-6.6 9-4 4.8-3 3-3 .9-3-1.1-2-1.5-1.1-8-2.1-74-6.4-14-1.9-6-1.9-3.5-2.6-1-3 1.5-3.1 2-1.9 3.5-2 8.5-2.2 67-5 26-3.7 30-1.4 11-2 12-3.9 6-2.7 6.3-4.1 10.6-8 10.7-9 47.2-45 2.3-3zM280 -2.3l-4 1.7-1.8 2.6 .4 2 .8 1 2.6 1.7 4 1.1 6 0 5-1.6 2.3-2.2 .4-1-.4-2-3.3-2.7-5-1.1z"/><path fill="#646464" d="M283 -8l51.5 0-.5 1.8-3.5 5.2-2.2 6-3.8 17-7.5 42.1-4 13.9-5 12.3-9 16.1-14 19.5-15 18.6-16 17.1-9 8.1-10 7.9-10 6.8-12 7.3-25 12.9-13 5.5-14 5.2-48 14-35 8.5-16 3.4-14 1.9-13 .6-5-1.2-4-3.3-8-10.6-2-3.9-1.1-3.7-2.6-21-4.3-13.9-1.4-7.1 .7-6 1.7-4 2-3 3.9-4 4.1-3 13-6.3 15.5-5.7 45.5-14.5 20-7.5 6-3 4.4-3 3.6-4 .9-3-1-3-1.9-1.6-3-1.2-8-1.9-14.2-2.3-13.8-3.4-18-2.1-31.8-1.5-6.1-1-1.4-1 .3-.3 .8-.7 3.2-.9 6-.8 56-3.5 25-3.3 21 1 7-.2 9-1.6 10-3.4 15-7.3 21.5-15 25.1-20 25.4-22.8 4-2.8 9-4.3 3-.9 10 2.3 5 .3 6-1 4-2.2 1.4-1.6 .4-2-1.8-3.6-3-2.1-6.7-2.3z"/><path fill="#686868" d="M301.3 -8l31.1 0-3.7 7-2.4 8-2.9 14-5.4 31.5-4 15.1-4 10.6-4 8.3-6 10.2-7 10-13 17.2-11 13.2-12 13.1-10 9.4-9 7.3-10 7.2-24 14.3-24 11.5-25 9.2-46 13.2-34 8.4-16 3.3-14 1.9-11 .4-4-1.1-5-4.5-3.5-4.7-1.8-4-1.9-23-.9-3-4.9-9-2.5-8 0-3 1.2-4 2.3-3.6 3-3 7-4.5 10-4.6 37.9-14.3 38.1-13.5 8.4-3.5 7.6-4 7.6-6 6.9-11 4.5-4.2 36-18.7 28.6-18.1 23.7-16 23.7-18.1 23.9-16.9 2.1-1 9-2.3 4-1.9 2-1.8 1.2-2 .7-4 2.3-4z"/><path fill="#6c6c6c" d="M310.1 -8l15.2 0-.4 10-7.9 45.3-3 11.6-4 10.8-4 8.5-6 10.1-19.6 26.7-20.4 23.8-8 8-9 7.8-18 13.2-23 13.4-22 10.5-24 8.9-45.8 13.4-49.2 12-14 2.2-12 .9-4-.7-4-3.2-1.7-3.2-.4-3 2.3-20-.4-3-1.2-2-8.6-9-2-3.4-1.3-3.6 .1-3 .7-2 4.3-5 5.2-3.4 8-3.8 51.2-20.8 32.8-12.3 15.5-7.7 5.9-4 9.6-9 6-4.4 71.2-40.6 14.7-9 13.3-9 14.1-11 22.9-21 8.8-5.7 5-5.9 6.9-4.4 .5-1z"/><path fill="#707070" d="M315.4 0l3.6-.5 1.6 1.5 .4 3-.6 6-8.6 40-3.9 12-4.9 11-10.6 18-15.4 21-20 22.6-16 14.3-16 11.5-22 12.8-21 10.1-21 8.1-38 11.2-48.6 11.4-11.1 2-9.3 1-6-.5-2.4-1.5-.9-3-.8-14-.9-3-2.6-3-12.4-7.6-5.9-5.4-1.2-2-.2-2 .7-2 2.8-3 4.5-3 8.2-4 27.1-11.1 31-13.9 26-10.2 17.7-8.8 24.2-17 60.1-34 23-14.2 18-13.3 24-21.7 13-10.8 5.9-4z"/><path fill="#747474" d="M311.3 9l3.7-.5 1 1.2 .3 2.3-1.1 8-3.2 11.7-6.8 21.3-4.8 13-6.2 13-8.1 14-5.1 7.7-6 7.6-12 13.7-9 9.4-17 14.4-19 12.7-14 7.9-13 6.5-14 6.2-14 5.2-32 9.6-16 2.9-13 1.7-17 .5-7-.8-5-1.3-5-2.2-7.6-4.7-18.9-9-5.5-3.5-2.5-2.5-.4-2 1.1-2 7.2-5 56.4-26 25.2-10.6 18-8.4 8.8-5 24.8-16 58.4-33.2 14-8.9 13-9.4 24-20.9 11-8.8 8-5.4z"/><path fill="#787878" d="M306 20l3-.3 1 1.1 .2 1.2-.7 5-2.5 8.2-13.4 35.8-6.4 13-6.2 10.4-5 6.6-10 11.6-15 15.6-16 13-18 11.8-21 11.4-21 9.2-26 8.9-15 4.3-7 1.2-20 1.1-8-.4-8-1.2-31-9.5-6.4-3-3.8-3-.4-2 1.3-2 5.7-4 43.2-21 49.7-23 33.7-20.3 42-23.5 17-10.3 13-9 11-8.6 16-14 8-6.1 8-4.8z"/><path fill="#7c7c7c" d="M299.8 30l2.2 .6 .6 2.4-2.6 10-11.3 30-5.3 11-4.4 7.1-16 18.9-13 13.1-15 12.1-17 11.1-21 11.4-20 8.9-21 7.4-25 7-16 .1-13-1.9-24.4-7.2-6.7-3-2.1-2 .3-2 1.8-2 9.6-6 21.6-11 54-26 66.9-38 18-10.8 11-7.4 11-8.4 16-13.8 7-5.3 8-4.5z"/><path fill="#808080" d="M289.1 40l2.9-.9 2 .3 1 1.6-.4 4-8.9 26-3.7 8.4-3.2 5.6-14 17-12.8 13.4-14 11.7-15 10.3-22 12.4-21 9.6-20 7.2-27 7.5-8 0-13-3-15.7-5.1-4.4-2-2.6-2-.1-2 1.6-2 9.2-6 30.5-16 38.3-19 46.6-26 22.6-13.4 10-6.5 9.7-7.1 23.3-19.3z"/><path fill="#838383" d="M282.4 49l2.6-.9 2 .6 .6 2.3-.5 3-6.1 18.1-2.8 5.9-3.2 5-12.6 16-10.1 11-13.3 11.5-14 10-19 10.9-19 9.3-18 6.7-17 4.6-14 2.5-7 0-13.3-4.5-4.7-2-3-2-.6-2 2.3-3 14.2-9 12.6-7 32.5-16.5 34.2-18.5 34.8-20.4 13-8.8 25-20z"/><path fill="#878787" d="M276.7 59l2.3-.1 .5 1.1-.5 3.5-2 5.5-6.3 12-9.6 14-7.6 9-9.4 9-10.1 8.4-10 6.9-18 10.3-17 8.4-11 4.3-14 4-12 1.9-10 0-7.7-2.2-3.7-2-2-2 .1-2 1.5-2 8.1-6 15.7-9 47.5-25 19.5-10.9 25-15.2 26-19.1z"/><path fill="#8b8b8b" d="M262.5 75l2.5-.5 .6 .5-.4 4-5 10-6.2 8.9-7.4 8.1-9.6 9-7 5.6-8.3 5.4-13.9 8-13.7 7-9.1 4.1-9 2.8-10 2.2-8 .6-7-1.5-3-1.7-1.5-1.5-.1-2 2.3-3 10-7 24.3-13.6 31-16.2 27-15.8 16-10.4z"/><path fill="#8f8f8f" d="M243.9 93l3.1-.8 1 .4 .1 1.4-2 4-4.4 6-10.7 11-12 8-20 11-15 6.7-6 1.2-5 .1-5-.9-2-1.3-.2-1.8 2.6-3 12.9-9 26.7-13.7 23-13.4z"/></g></g></g>
<g id="stA"><path d="M0,139.3H62.4M92.7,133.8V128.8H115.7M116.3,124.2H135M154.4,113.9H166M166.2,109.2H182V104.7M193,98.8H201.4V95M219.3,89.5V84.7H227.6V80.5M243,69.4H251.2M262.7,54.7H266.6V50.8M276.8,45V40H282M285,35.5V31.6M289,30.4V24.6H293.4M296.6,20.8V15.6M301,10.5H305V1.6" fill="none" stroke="#bfa05a" stroke-width=".8" opacity=".65"/></g><g id="stD"><path d="M336.5,31V75H333M328.7,110V130H325.5M322.5,148V164H320M317,172V186" fill="none" stroke="#bfa05a" stroke-width=".8" opacity=".6"/><path d="M-1.0,354.8H2.9H6.8H10.6H14.5H18.3H22.2H26.0V349.9H29.8H33.7H37.5H41.4H45.2H49.1H52.9H56.8H60.6H64.5H68.3H72.2H76.0H79.8H83.7H87.5V345.0H91.4H95.2H99.1H102.9H106.8H110.6V340.1H114.5H118.3H122.1H126.0H129.8V335.2H133.7H137.5H141.4H145.2V330.3H149.1H152.9H156.8H160.6V325.4H164.5H168.3H172.1V320.5H176.0H179.8H183.7V315.6H187.5H191.4H195.2V310.7H199.1H202.9V305.8H206.8H210.6H214.5V300.9H218.3H222.1V296.0H226.0H229.8V291.1H233.7H237.5V286.2H241.4V281.3H245.2H249.1V276.4H252.9V271.5H256.8H260.6V266.6H264.5V261.7H268.3V256.8H272.1V251.9H276.0V247.0H279.8V242.1H283.7V237.2H287.5V232.3H291.4V227.4H295.2V217.6H299.1V212.7H302.9V202.9H306.8V193.1H310.6V178.4H314.4" fill="none" stroke="#bfa05a" stroke-width=".8" opacity=".6" stroke-dasharray="11 20 4 26 15 22 5 31 8 17"/></g>
<g id="ax"><path d="M1.00,0v-5M1.00,392.0v5M74.07,0v-5M74.07,392.0v5M150.99,0v-5M150.99,392.0v5M227.91,0v-5M227.91,392.0v5M304.83,0v-5M304.83,392.0v5M0,1.00h-5M344.2,1.00h5M0,98.65h-5M344.2,98.65h5M0,196.30h-5M344.2,196.30h5M0,293.95h-5M344.2,293.95h5M0,391.60h-5M344.2,391.60h5" stroke="#1c1c1c" stroke-width="2.4" fill="none"/><path d="M0,69.25h-2.8M344.2,69.25h2.8M0,52.06h-2.8M344.2,52.06h2.8M0,39.86h-2.8M344.2,39.86h2.8M0,30.40h-2.8M344.2,30.40h2.8M0,22.66h-2.8M344.2,22.66h2.8M0,16.13h-2.8M344.2,16.13h2.8M0,10.46h-2.8M344.2,10.46h2.8M0,5.47h-2.8M344.2,5.47h2.8M0,166.90h-2.8M344.2,166.90h2.8M0,149.71h-2.8M344.2,149.71h2.8M0,137.51h-2.8M344.2,137.51h2.8M0,128.05h-2.8M344.2,128.05h2.8M0,120.31h-2.8M344.2,120.31h2.8M0,113.78h-2.8M344.2,113.78h2.8M0,108.11h-2.8M344.2,108.11h2.8M0,103.12h-2.8M344.2,103.12h2.8M0,264.55h-2.8M344.2,264.55h2.8M0,247.36h-2.8M344.2,247.36h2.8M0,235.16h-2.8M344.2,235.16h2.8M0,225.70h-2.8M344.2,225.70h2.8M0,217.96h-2.8M344.2,217.96h2.8M0,211.43h-2.8M344.2,211.43h2.8M0,205.76h-2.8M344.2,205.76h2.8M0,200.77h-2.8M344.2,200.77h2.8M0,362.20h-2.8M344.2,362.20h2.8M0,345.01h-2.8M344.2,345.01h2.8M0,332.81h-2.8M344.2,332.81h2.8M0,323.35h-2.8M344.2,323.35h2.8M0,315.61h-2.8M344.2,315.61h2.8M0,309.08h-2.8M344.2,309.08h2.8M0,303.41h-2.8M344.2,303.41h2.8M0,298.42h-2.8M344.2,298.42h2.8" stroke="#1c1c1c" stroke-width="2.3" fill="none"/><rect x="0" y="0" width="344.2" height="392.0" fill="none" stroke="#262626" stroke-width="1.6"/></g>
<g id="yl"><text transform="translate(-14.6,18.3) scale(.92,1)" text-anchor="end" class="t">10<tspan dy="-15.7" font-size="26.7px">2</tspan></text><text transform="translate(-14.6,116.0) scale(.92,1)" text-anchor="end" class="t">10<tspan dy="-15.7" font-size="26.7px">1</tspan></text><text transform="translate(-14.6,213.6) scale(.92,1)" text-anchor="end" class="t">10<tspan dy="-15.7" font-size="26.7px">0</tspan></text><text transform="translate(-14.6,311.3) scale(.92,1)" text-anchor="end" class="t">10<tspan dy="-15.7" font-size="26.7px">-1</tspan></text><text transform="translate(-14.6,408.9) scale(.92,1)" text-anchor="end" class="t">10<tspan dy="-15.7" font-size="26.7px">-2</tspan></text></g>
<g id="xl"><text transform="translate(1.0,437.4) scale(.92,1)" class="t" text-anchor="middle">1</text><text transform="translate(74.1,437.4) scale(.92,1)" class="t" text-anchor="middle">20</text><text transform="translate(151.0,437.4) scale(.92,1)" class="t" text-anchor="middle">40</text><text transform="translate(227.9,437.4) scale(.92,1)" class="t" text-anchor="middle">60</text><text transform="translate(304.8,437.4) scale(.92,1)" class="t" text-anchor="middle">80</text><text x="122.6" y="482.3" class="k" font-size="35px"><tspan class="i" font-size="32.5px">α</tspan><tspan dy="12" font-size="21.5px">eq</tspan><tspan dy="-12" font-size="35px"> (</tspan><tspan dy="-6.5" font-size="26px">°</tspan><tspan dy="6.5" font-size="35px">)</tspan></text></g>
</defs>
<rect width="1486" height="1498" fill="#fff"/>
<g transform="translate(136.4,62.8)"><g filter="url(#pm)"><g clip-path="url(#box)"><rect x="-2" y="-2" width="348.2" height="396.0" fill="#000"/><use href="#fA"/></g></g><use href="#stA"/><path d="M1.2,137.5H344.2" stroke="#c5bee5" stroke-width="3.6" stroke-dasharray="13 12.73" fill="none"/><text x="239" y="105.3" font-size="30.5px" style="fill:#fff">4 keV</text><use href="#ax"/><use href="#yl"/></g>
<text class="b" transform="translate(5,84.3) scale(.92,1)">a</text>
<g transform="translate(562.6,62.8)"><g filter="url(#pm)"><g clip-path="url(#box)"><rect x="-2" y="-2" width="348.2" height="396.0" fill="#000"/><use href="#fB"/></g></g><use href="#stA"/><path d="M1.2,137.5H344.2" stroke="#c5bee5" stroke-width="3.6" stroke-dasharray="13 12.73" fill="none"/><text x="250.5" y="105.3" font-size="30.5px" style="fill:#fff">4 keV</text><use href="#ax"/></g>
<text class="b" transform="translate(515,84.3) scale(.92,1)">b</text>
<g transform="translate(988.7,62.8)"><g filter="url(#pm)"><g clip-path="url(#box)"><rect x="-2" y="-2" width="348.2" height="396.0" fill="#000"/><use href="#fC"/></g></g><use href="#stA"/><path d="M1.2,137.5H344.2" stroke="#c5bee5" stroke-width="3.6" stroke-dasharray="13 12.73" fill="none"/><text x="255.3" y="105.3" font-size="30.5px" style="fill:#fff">4 keV</text><use href="#ax"/></g>
<text class="b" transform="translate(944,84.3) scale(.92,1)">c</text>
<g transform="translate(136.4,531.0)"><g filter="url(#pm)"><g clip-path="url(#box)"><rect x="-2" y="-2" width="348.2" height="396.0" fill="#000"/><use href="#fD"/></g></g><use href="#stD"/><use href="#ax"/><use href="#yl"/></g>
<text class="b" transform="translate(5,555.8) scale(.92,1)">d</text>
<g transform="translate(562.6,531.0)"><g filter="url(#pm)"><g clip-path="url(#box)"><rect x="-2" y="-2" width="348.2" height="396.0" fill="#000"/><use href="#fE"/></g></g><use href="#stD"/><use href="#ax"/></g>
<text class="b" transform="translate(515,555.8) scale(.92,1)">e</text>
<g transform="translate(988.7,531.0)"><g filter="url(#pm)"><g clip-path="url(#box)"><rect x="-2" y="-2" width="348.2" height="396.0" fill="#000"/><use href="#fF"/></g></g><use href="#stD"/><use href="#ax"/></g>
<text class="b" transform="translate(944,555.8) scale(.92,1)">f</text>
<g transform="translate(136.4,999.2)"><g filter="url(#pm)"><g clip-path="url(#box)"><rect x="-2" y="-2" width="348.2" height="396.0" fill="#000"/><use href="#fA"/><use href="#fD" class="lt"/></g></g><use href="#stD"/><use href="#ax"/><use href="#yl"/><use href="#xl"/></g>
<text class="b" transform="translate(5,1025) scale(.92,1)">g</text>
<g transform="translate(562.6,999.2)"><g filter="url(#pm)"><g clip-path="url(#box)"><rect x="-2" y="-2" width="348.2" height="396.0" fill="#000"/><use href="#fB"/><use href="#fE" class="lt"/></g></g><use href="#stD"/><use href="#ax"/><use href="#xl"/></g>
<text class="b" transform="translate(515,1025) scale(.92,1)">h</text>
<g transform="translate(988.7,999.2)"><g filter="url(#pm)"><g clip-path="url(#box)"><rect x="-2" y="-2" width="348.2" height="396.0" fill="#000"/><use href="#fC"/><use href="#fF" class="lt"/></g></g><use href="#stD"/><use href="#ax"/><use href="#xl"/></g>
<text class="b" transform="translate(944,1025) scale(.92,1)">i</text>
<text class="k" font-size="35.4px" text-anchor="middle" transform="translate(26.1,295.8) rotate(-90)">Lower band chorus</text>
<text class="k" font-size="35px" text-anchor="middle" transform="translate(64.5,273.7) rotate(-90)"><tspan class="i">E</tspan> (keV)</text>
<text class="k" font-size="36px" text-anchor="middle" transform="translate(26.1,759.5) rotate(-90)">Second harmonic</text>
<text class="k" font-size="35px" text-anchor="middle" transform="translate(64.5,745.7) rotate(-90)"><tspan class="i">E</tspan> (keV)</text>
<text class="k" font-size="35.4px" text-anchor="middle" transform="translate(26.1,1201.7) rotate(-90)">Combined</text>
<text class="k" font-size="35px" text-anchor="middle" transform="translate(64.5,1201.3) rotate(-90)"><tspan class="i">E</tspan> (keV)</text>
<g class="k i"><text transform="translate(243.2,25.4) scale(1.16,1)" font-size="35px">&lt;</text><text x="268.8" y="25.4" font-size="35px">D</text><text x="298.5" y="29.7" font-size="29px">α</text><text x="314" y="39.4" font-size="17px">eq</text><text x="331.2" y="29.7" font-size="29px">α</text><text x="346.7" y="39.4" font-size="17px">eq</text><text transform="translate(363,25.4) scale(1.16,1)" font-size="35px">&gt;</text><text transform="translate(690.3,25.4) scale(1.16,1)" font-size="35px">&lt;</text><text x="715.3" y="25.4" font-size="35px">D</text><text x="740.5" y="36.8" font-size="21px">pp</text><text transform="translate(759.7,25.4) scale(1.16,1)" font-size="35px">&gt;</text><text transform="translate(1078.3,23) scale(1.16,1)" font-size="35px">&lt;</text><text x="1104.6" y="23" font-size="35px">D</text><text x="1128.5" y="27.3" font-size="29px">α</text><text x="1144.6" y="37" font-size="17px">eq</text><text x="1160" y="27.3" font-size="31px">p</text><text transform="translate(1180.7,23) scale(1.16,1)" font-size="35px">&gt;</text></g>
<rect x="1365.4" y="532.3" width="41.1" height="584" fill="url(#cb)" stroke="#262626" stroke-width="1.2"/>
<text transform="translate(1417.1,543.1) scale(.94,1)" font-size="29.3px">-2</text><text transform="translate(1417.1,640.1) scale(.94,1)" font-size="29.3px">-3</text><text transform="translate(1417.1,737.2) scale(.94,1)" font-size="29.3px">-4</text><text transform="translate(1417.1,834.2) scale(.94,1)" font-size="29.3px">-5</text><text transform="translate(1417.1,931.3) scale(.94,1)" font-size="29.3px">-6</text><text transform="translate(1417.1,1028.4) scale(.94,1)" font-size="29.3px">-7</text><text transform="translate(1417.1,1125.4) scale(.94,1)" font-size="29.3px">-8</text><path d="M1406.5,630.2h-6M1406.5,727.3h-6M1406.5,824.4h-6M1406.5,921.4h-6M1406.5,1018.5h-6" stroke="#262626" stroke-width="1.2" fill="none"/>
<text class="k" font-size="33.6px" text-anchor="middle" transform="translate(1474.6,817.5) rotate(-90)">log<tspan dy="9.5" font-size="23px">10</tspan><tspan dy="-9.5" font-size="33.6px"> (s</tspan><tspan dy="-13" font-size="22px">−1</tspan><tspan dy="13" font-size="33.6px">)</tspan></text>
</svg>
</body></html>
